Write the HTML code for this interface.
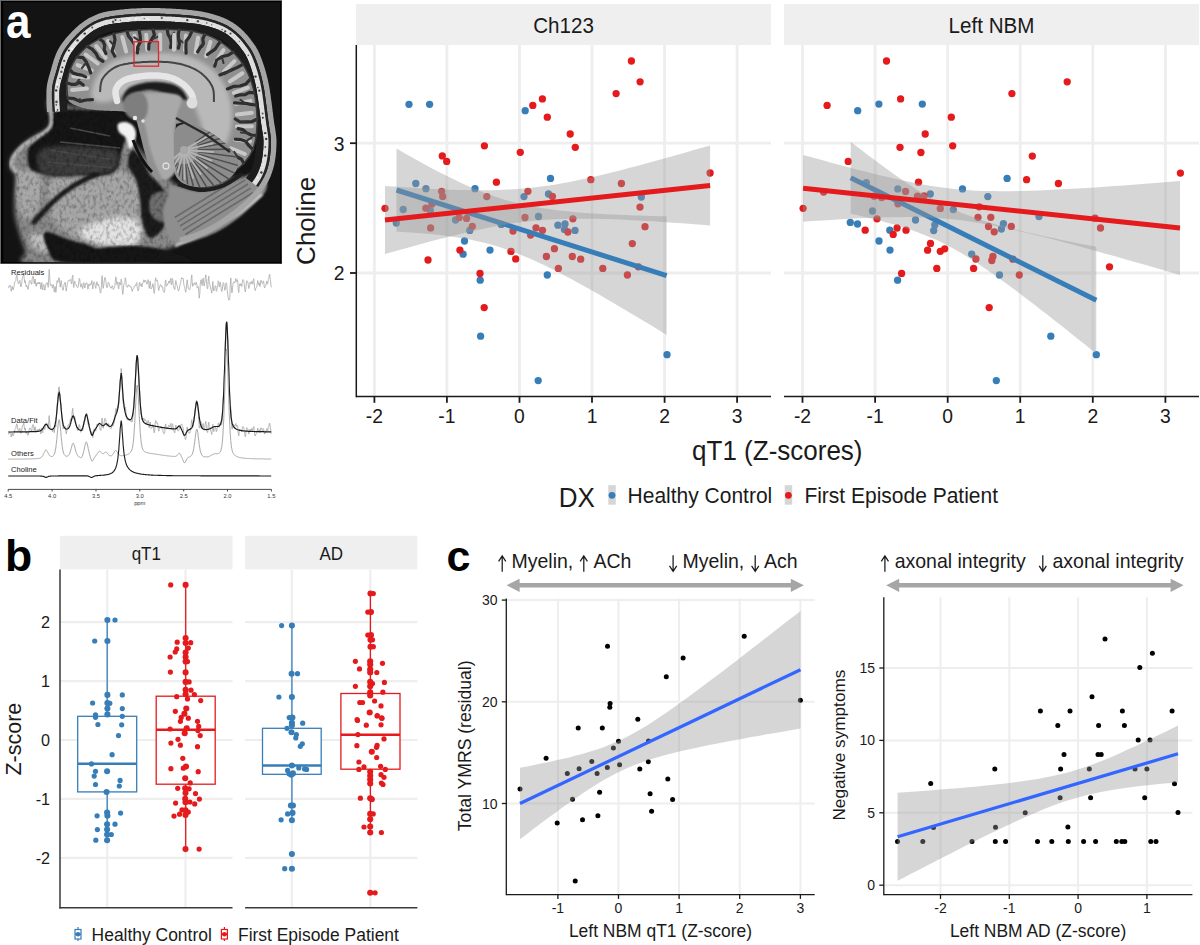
<!DOCTYPE html>
<html><head><meta charset="utf-8"><title>Figure</title>
<style>html,body{margin:0;padding:0;background:#fff;overflow:hidden}svg{display:block}text{font-family:"Liberation Sans",sans-serif}</style>
</head><body><svg width="1200" height="945" viewBox="0 0 1200 945">
<rect width="1200" height="945" fill="#fff"/>
<defs><clipPath id="mclip"><rect x="1" y="2" width="279.2" height="260.2"/></clipPath><filter id="bl1" x="-5%" y="-5%" width="110%" height="110%"><feGaussianBlur stdDeviation="0.8"/></filter><filter id="bl2" x="-10%" y="-10%" width="120%" height="120%"><feGaussianBlur stdDeviation="2"/></filter><filter id="bl3" x="-10%" y="-10%" width="120%" height="120%"><feGaussianBlur stdDeviation="3.5"/></filter><filter id="nz" x="0" y="0" width="100%" height="100%"><feTurbulence type="fractalNoise" baseFrequency="0.3 0.22" numOctaves="2" seed="5"/><feColorMatrix type="matrix" values="0 0 0 0 0  0 0 0 0 0  0 0 0 0 0  0 0 0 -2.2 1.25"/></filter><clipPath id="faceclip"><path d="M48,100 L47.4,101.8 L47.5,104.7 L48.3,108.2 L49.4,112.2 L50.5,116.2 L51.5,120.1 L52.1,123.4 L52,126 L50.2,129 L47.2,130.4 L43.7,131.4 L40,133 L37.5,134.6 L34.8,136.3 L32,138.1 L29.2,140 L26.5,142 L24,144 L21.2,146.5 L18.4,149.2 L15.9,152 L13.7,154.6 L12,157 L10.4,160.4 L9.9,163.3 L10,166 L11.6,169.6 L14,173 L16.4,176 L18,180 L17.8,182.4 L17.2,185.2 L16.3,188.3 L15.5,191.6 L15,195 L14.8,198 L14.6,201.3 L14.5,204.7 L14.5,208.1 L14.7,211.6 L15,215 L15.5,218.4 L16.3,221.8 L17.1,225.2 L18.1,228.6 L19.1,231.8 L20,235 L21,238.1 L22,241.1 L23.1,244 L24.1,246.8 L25.1,249.5 L26,252 L24.4,255.6 L20.9,259.1 L20.9,262 L30,264 L31.7,264.1 L33.5,264.3 L35.6,264.4 L37.8,264.5 L40.2,264.7 L42.7,264.8 L45.5,264.9 L48.3,265 L51.3,265 L54.4,265.1 L57.6,265.2 L60.9,265.3 L64.3,265.3 L67.7,265.4 L71.2,265.4 L74.8,265.4 L78.5,265.5 L82.1,265.5 L85.8,265.5 L89.5,265.5 L93.2,265.5 L96.9,265.5 L100.6,265.5 L104.2,265.4 L107.8,265.4 L111.4,265.4 L114.9,265.3 L118.3,265.3 L121.6,265.2 L124.9,265.1 L128,265 L131.1,265 L134,264.9 L136.7,264.8 L139.4,264.7 L141.9,264.5 L144.2,264.4 L146.3,264.3 L148.2,264.1 L150,264 L159.2,262.3 L162.2,259.9 L161.9,257.2 L160.9,254.4 L162,252 L164.4,250.5 L167,249.1 L169.8,247.8 L172.6,246.5 L175.5,245.3 L178.3,244.1 L181,243 L183.9,241.9 L186.7,240.9 L189.5,240 L192.3,239.1 L195.1,238.1 L198,237 L200.6,235.9 L203.1,234.9 L205.7,233.8 L208.4,232.6 L211.1,231.2 L214,229.7 L217,228 L219.5,226.5 L222.1,224.8 L224.7,223.1 L227.5,221.2 L230.3,219.3 L233,217.3 L235.8,215.2 L238.4,213.1 L241,211 L243.6,208.8 L246.4,206.4 L249.3,203.9 L252.1,201.3 L254.8,198.8 L257.2,196.3 L259.3,194 L260.9,191.9 L262,190 L262.5,186.5 L261.1,183.8 L258.3,181.7 L255,180 L252.6,179 L249.9,178.2 L246.8,177.6 L243.3,177.3 L239.4,177.4 L235,178 L232.6,178.6 L229.9,179.4 L227,180.4 L224,181.6 L220.8,182.8 L217.6,184.1 L214.4,185.4 L211.3,186.7 L208.2,187.8 L205.3,188.8 L202.5,189.5 L200,190 L196.1,190.4 L192.6,190.3 L189.3,189.9 L186.3,189.3 L183.5,188.3 L180.7,187.2 L178,186 L175.5,184.6 L173.2,183 L171,181.1 L169,179.1 L166.8,176.9 L164.5,174.5 L162,172 L160,170.1 L158,168.2 L155.8,166.1 L153.5,163.9 L151.2,161.7 L148.9,159.4 L146.6,157.1 L144.4,154.7 L142.1,152.4 L140,150 L137.9,147.6 L136,145 L134,142.4 L132.1,139.7 L130.2,137.1 L128.3,134.4 L126.3,131.9 L124.3,129.4 L122.2,127.1 L120,125 L117.4,122.8 L114.8,120.8 L112,118.9 L109.2,117 L106.4,115.4 L103.5,113.8 L100.7,112.4 L97.8,111.1 L95,110 L91.9,109 L88.7,108.3 L85.5,107.8 L82.3,107.4 L79.2,107.2 L76,106.9 L73,106.5 L70,106 L66.5,105 L62.7,103.5 L59,101.9 L55.5,100.4 L52.3,99.4 L49.8,99.2Z"/></clipPath></defs>
<rect x="0" y="0" width="281.6" height="263.5" fill="#131313"/>
<rect x="0" y="0" width="281" height="1" fill="#6a6a6a"/><rect x="0" y="0" width="1" height="263.5" fill="#6a6a6a"/>
<rect x="1" y="1" width="280" height="1.2" fill="#000"/><rect x="1" y="1" width="2.2" height="262" fill="#000"/>
<rect x="280.2" y="1" width="1.4" height="262.5" fill="#000"/><rect x="1" y="262.2" width="280.6" height="1.3" fill="#000"/>
<g clip-path="url(#mclip)">
<path d="M48,100 L47.4,101.8 L47.5,104.7 L48.3,108.2 L49.4,112.2 L50.5,116.2 L51.5,120.1 L52.1,123.4 L52,126 L50.2,129 L47.2,130.4 L43.7,131.4 L40,133 L37.5,134.6 L34.8,136.3 L32,138.1 L29.2,140 L26.5,142 L24,144 L21.2,146.5 L18.4,149.2 L15.9,152 L13.7,154.6 L12,157 L10.4,160.4 L9.9,163.3 L10,166 L11.6,169.6 L14,173 L16.4,176 L18,180 L17.8,182.4 L17.2,185.2 L16.3,188.3 L15.5,191.6 L15,195 L14.8,198 L14.6,201.3 L14.5,204.7 L14.5,208.1 L14.7,211.6 L15,215 L15.5,218.4 L16.3,221.8 L17.1,225.2 L18.1,228.6 L19.1,231.8 L20,235 L21,238.1 L22,241.1 L23.1,244 L24.1,246.8 L25.1,249.5 L26,252 L24.4,255.6 L20.9,259.1 L20.9,262 L30,264 L31.7,264.1 L33.5,264.3 L35.6,264.4 L37.8,264.5 L40.2,264.7 L42.7,264.8 L45.5,264.9 L48.3,265 L51.3,265 L54.4,265.1 L57.6,265.2 L60.9,265.3 L64.3,265.3 L67.7,265.4 L71.2,265.4 L74.8,265.4 L78.5,265.5 L82.1,265.5 L85.8,265.5 L89.5,265.5 L93.2,265.5 L96.9,265.5 L100.6,265.5 L104.2,265.4 L107.8,265.4 L111.4,265.4 L114.9,265.3 L118.3,265.3 L121.6,265.2 L124.9,265.1 L128,265 L131.1,265 L134,264.9 L136.7,264.8 L139.4,264.7 L141.9,264.5 L144.2,264.4 L146.3,264.3 L148.2,264.1 L150,264 L159.2,262.3 L162.2,259.9 L161.9,257.2 L160.9,254.4 L162,252 L164.4,250.5 L167,249.1 L169.8,247.8 L172.6,246.5 L175.5,245.3 L178.3,244.1 L181,243 L183.9,241.9 L186.7,240.9 L189.5,240 L192.3,239.1 L195.1,238.1 L198,237 L200.6,235.9 L203.1,234.9 L205.7,233.8 L208.4,232.6 L211.1,231.2 L214,229.7 L217,228 L219.5,226.5 L222.1,224.8 L224.7,223.1 L227.5,221.2 L230.3,219.3 L233,217.3 L235.8,215.2 L238.4,213.1 L241,211 L243.6,208.8 L246.4,206.4 L249.3,203.9 L252.1,201.3 L254.8,198.8 L257.2,196.3 L259.3,194 L260.9,191.9 L262,190 L262.5,186.5 L261.1,183.8 L258.3,181.7 L255,180 L252.6,179 L249.9,178.2 L246.8,177.6 L243.3,177.3 L239.4,177.4 L235,178 L232.6,178.6 L229.9,179.4 L227,180.4 L224,181.6 L220.8,182.8 L217.6,184.1 L214.4,185.4 L211.3,186.7 L208.2,187.8 L205.3,188.8 L202.5,189.5 L200,190 L196.1,190.4 L192.6,190.3 L189.3,189.9 L186.3,189.3 L183.5,188.3 L180.7,187.2 L178,186 L175.5,184.6 L173.2,183 L171,181.1 L169,179.1 L166.8,176.9 L164.5,174.5 L162,172 L160,170.1 L158,168.2 L155.8,166.1 L153.5,163.9 L151.2,161.7 L148.9,159.4 L146.6,157.1 L144.4,154.7 L142.1,152.4 L140,150 L137.9,147.6 L136,145 L134,142.4 L132.1,139.7 L130.2,137.1 L128.3,134.4 L126.3,131.9 L124.3,129.4 L122.2,127.1 L120,125 L117.4,122.8 L114.8,120.8 L112,118.9 L109.2,117 L106.4,115.4 L103.5,113.8 L100.7,112.4 L97.8,111.1 L95,110 L91.9,109 L88.7,108.3 L85.5,107.8 L82.3,107.4 L79.2,107.2 L76,106.9 L73,106.5 L70,106 L66.5,105 L62.7,103.5 L59,101.9 L55.5,100.4 L52.3,99.4 L49.8,99.2Z" fill="#888888" filter="url(#bl2)"/>
<g filter="url(#bl2)">
<path d="M50,182 L51.9,180.1 L54.3,178.4 L57,176.8 L60.1,175.4 L63.4,174.2 L66.7,173 L70,172 L72.9,171.2 L75.9,170.4 L79,169.8 L82.2,169.2 L85.4,168.8 L88.6,168.4 L91.8,168.2 L95,168 L98.2,167.9 L101.4,167.8 L104.7,167.9 L107.9,168 L111.1,168.3 L114.2,168.7 L117.2,169.2 L120,170 L123.1,171.1 L126.1,172.4 L128.9,173.9 L131.6,175.6 L134.1,177.5 L136.2,179.6 L138,182 L139.4,184.7 L140.3,187.7 L141,190.9 L141.4,194.3 L141.7,197.8 L141.9,201.4 L142,205 L142.1,207.9 L142.2,211 L142.1,214.3 L142.1,217.6 L141.9,220.9 L141.6,224 L141.2,227 L140.7,229.7 L140,232 L138.5,235.4 L136.7,238 L134.4,240.1 L131.6,241.7 L128,243 L125.6,243.6 L122.8,244 L119.7,244.3 L116.5,244.5 L113.1,244.6 L109.7,244.6 L106.3,244.4 L103.1,244.3 L100,244 L96.7,243.7 L93.4,243.2 L90.2,242.7 L87,242.1 L83.9,241.3 L80.8,240.4 L77.9,239.3 L75,238 L72.2,236.5 L69.3,234.8 L66.6,233 L63.9,231 L61.3,228.9 L59,226.7 L56.8,224.4 L55,222 L53.2,219.1 L51.8,216 L50.6,212.8 L49.7,209.5 L49,206.2 L48.4,203 L48,200 L47.6,196.7 L47.3,193.4 L47.3,190.2 L47.7,187.3 L48.5,184.5Z" fill="#a6a6a6"/>
<path d="M80,230 L81.5,228.7 L83.9,227.3 L87,225.9 L90.4,224.5 L94.2,223.2 L98,221.9 L101.6,220.9 L105,220 L108.2,219.3 L111.6,218.6 L114.9,218 L118.3,217.6 L121.6,217.4 L124.7,217.3 L127.5,217.5 L130,218 L133.5,219.5 L136.6,221.7 L139.2,224.4 L141,227.2 L142,230 L142.1,232.9 L141.4,236 L140,239.2 L137.9,241.9 L135,244 L132.7,244.9 L129.9,245.5 L126.8,246 L123.4,246.2 L119.9,246.4 L116.5,246.3 L113.1,246.2 L110,246 L106.6,245.6 L103.1,245 L99.6,244.2 L96.3,243.3 L93.2,242.2 L90.4,241.1 L88,240 L84.2,237.8 L81.1,235.2 L79.4,232.6Z" fill="#e2e2e2"/>
<path d="M17,174 L19.4,171.1 L22.8,169.8 L26.5,169.5 L30,170 L32.7,170.9 L35.5,172.5 L38.3,174.6 L40.5,177.1 L42,180 L42.5,182.8 L42.5,186.1 L42.1,189.7 L41.4,193.3 L40.7,196.8 L40,200 L39.3,203.5 L38.5,206.9 L37.6,210.1 L36.4,212.8 L35,215 L31.6,217.7 L27.6,219 L24,218 L22.5,216.3 L21.1,213.9 L19.8,210.8 L18.7,207.4 L17.7,203.7 L17,200 L16.6,197 L16.2,193.5 L15.9,189.9 L15.8,186.1 L15.7,182.5 L15.9,179.1 L16.3,176.3Z" fill="#a8a8a8"/>
<path d="M30,236 L31.9,234.6 L34.9,233.5 L38.4,232.8 L42,232.6 L45,233 L48.2,234.8 L51.4,237.8 L53.8,241.1 L55,244 L54.2,247.3 L51.5,250.3 L48,252 L44.8,252 L40.8,251.2 L37,249.8 L34,248 L31.9,245.4 L30.2,241.9 L29.4,238.6Z" fill="#bdbdbd"/>
</g>
<path d="M45,120 L46.9,117.8 L48.9,115.7 L51.1,113.9 L53.6,112.3 L56.5,111 L60,110 L62.4,109.6 L65.1,109.3 L68,109.2 L71,109.2 L74.2,109.2 L77.4,109.4 L80.7,109.5 L83.9,109.7 L87,109.9 L90,110 L93.3,110.1 L96.7,110.1 L100.1,110.1 L103.6,110.1 L106.9,110.2 L110.1,110.4 L113,110.8 L115.7,111.3 L118,112 L121.4,113.7 L124.1,115.8 L126,118.4 L127.3,121.5 L128,125 L128,127.6 L127.6,130.5 L126.9,133.7 L126,137.1 L125,140.5 L123.9,143.8 L122.9,147 L122,150 L121.1,153.8 L120.4,157.6 L119.6,161.2 L118.7,164.6 L117.6,167.5 L116,170 L113.5,172.2 L110.5,173.7 L107.2,174.8 L103.6,175.5 L100,176 L96.9,176.2 L93.6,176.1 L90.2,175.8 L86.8,175.4 L83.4,175.1 L80,175 L76.6,175.1 L73.2,175.3 L69.8,175.6 L66.4,175.8 L63.1,176 L60,176 L56.5,175.9 L53.2,175.6 L50.1,175.2 L47,174.7 L44,174 L40.9,173.2 L37.7,172.5 L34.6,171.5 L32,170 L30,168 L28.8,165.6 L28,162.7 L27.5,159.4 L27.3,156 L27.5,152.8 L28,150 L29.3,147.3 L31.3,145.1 L33.6,142.9 L36,140.7 L38,138 L39.2,135.3 L40.3,132.1 L41.2,128.9 L42.2,125.6 L43.4,122.6Z" fill="#141414" filter="url(#bl1)"/>
<path d="M50,104 L50.2,106.3 L50.6,109.6 L51.1,113.4 L51.4,117.3 L51.4,121 L51,124 L49.7,127.2 L47.7,129.6 L45.1,131.7 L42,134 L39.8,135.5 L37.3,137 L34.5,138.5 L31.7,140.1 L28.9,141.7 L26.3,143.3 L24,145 L21.2,147.5 L18.6,150.2 L16.3,153 L14.4,155.6 L13,158 L11.7,161.4 L11.4,164.4 L12,167 L14.9,170.1 L18,172" fill="none" stroke="#b5b5b5" stroke-width="4" stroke-linecap="round" filter="url(#bl1)"/>
<path d="M40,150 L41.8,148.8 L44.1,148 L46.8,147.3 L49.8,146.8 L53.1,146.5 L56.6,146.3 L60.1,146.2 L63.5,146.1 L66.9,146.1 L70,146 L73.1,145.9 L76.2,146 L79.4,146.1 L82.6,146.3 L85.8,146.5 L88.9,146.8 L91.9,147.1 L94.8,147.4 L97.5,147.7 L100,148 L103.9,148.4 L107.7,148.7 L111.1,149 L114.1,149.6 L116.4,150.5 L118,152 L118.8,154.3 L119,157.4 L118.6,160.9 L117.6,164.4 L116.1,167.6 L114,170 L112,171.3 L109.5,172.3 L106.7,173 L103.6,173.6 L100.3,174 L96.9,174.3 L93.4,174.7 L90,175 L87.2,175.3 L84.2,175.5 L81.1,175.8 L78,175.9 L74.8,176.1 L71.6,176.2 L68.5,176.2 L65.5,176.2 L62.6,176.1 L60,176 L55.9,175.8 L51.9,175.7 L48.1,175.4 L44.8,174.9 L42.1,173.8 L40,172 L38.7,169.6 L37.7,166.5 L37,162.9 L36.9,159.1 L37.2,155.5 L38.3,152.4Z" fill="#3c3c3c" filter="url(#bl2)"/>
<line x1="50" y1="150" x2="115" y2="160" stroke="#4a4a4a" stroke-width="1.6"/>
<line x1="48" y1="162" x2="112" y2="168" stroke="#4a4a4a" stroke-width="1.6"/>
<line x1="60" y1="142" x2="120" y2="148" stroke="#4a4a4a" stroke-width="1.6"/>
<line x1="70" y1="128" x2="110" y2="136" stroke="#4a4a4a" stroke-width="1.6"/>
<path d="M34,222 L35.3,220.7 L36.9,218.9 L38.8,216.8 L40.9,214.4 L43.2,211.9 L45.7,209.4 L48.1,206.8 L50.5,204.3 L52.8,202 L55,200 L57.5,197.8 L60.1,195.6 L62.6,193.6 L65.1,191.8 L67.5,190 L70,188.2 L72.5,186.6 L75,185 L78,183.2 L81.3,181.5 L84.6,179.8 L87.8,178.3 L90.7,177 L93.2,175.9 L95,175" fill="none" stroke="#1a1a1a" stroke-width="5" stroke-linecap="round" filter="url(#bl1)"/>
<path d="M45,232 L46.8,231.8 L49.3,232.2 L52.3,233.1 L55.8,234.4 L59.4,235.9 L63.1,237.4 L66.7,238.8 L70,240 L73.2,241 L76.5,241.9 L79.8,242.7 L83.1,243.6 L86.4,244.6 L89.5,245.6 L92.4,246.7 L95,248 L98.8,250.1 L103.1,252.7 L107.2,255.5 L110.2,258.1 L111.4,260.4 L110,262 L108.6,262.4 L106.6,262.8 L104.1,263 L101.2,263.3 L97.9,263.4 L94.3,263.6 L90.6,263.6 L86.7,263.6 L82.7,263.6 L78.8,263.5 L75,263.4 L71.4,263.2 L68,262.9 L64.9,262.7 L62.2,262.4 L60,262 L55,260.5 L52,258.4 L50.3,255.8 L49.2,253 L48,250 L46.7,247 L45.3,243.5 L44.2,239.8 L43.6,236.3 L43.8,233.6Z" fill="#181818" filter="url(#bl1)"/>
<path d="M95,250 L96.7,249.2 L98.9,248.6 L101.7,248 L104.8,247.5 L108.2,247.1 L111.8,246.7 L115.6,246.4 L119.4,246.2 L123.1,246.1 L126.7,246 L130,246 L133.2,246 L136.5,246.1 L139.8,246.2 L143.1,246.4 L146.5,246.7 L149.8,247.1 L153,247.5 L156.2,248 L159.2,248.6 L162.2,249.2 L165,250 L168.8,251.2 L173.4,252.7 L178.3,254.4 L183.1,256.3 L187.3,258.2 L190.6,260 L192.4,261.6 L192.3,263 L190,264 L188.7,264.2 L187.2,264.4 L185.3,264.6 L183.1,264.8 L180.7,265 L178,265.1 L175.1,265.3 L172,265.4 L168.8,265.5 L165.4,265.6 L161.8,265.6 L158.2,265.7 L154.5,265.7 L150.7,265.7 L146.9,265.8 L143,265.7 L139.2,265.7 L135.4,265.7 L131.6,265.6 L128,265.6 L124.4,265.5 L120.9,265.4 L117.6,265.3 L114.4,265.1 L111.4,265 L108.6,264.8 L106.1,264.6 L103.8,264.4 L101.7,264.2 L100,264 L91.8,261.2 L89.7,257.2 L91.4,253.1Z" fill="#151515" filter="url(#bl1)"/>
<path d="M132,150 L134.1,150.6 L136.8,153.1 L139.5,156.6 L142,160 L143.7,162.8 L145.2,165.9 L146.8,169.1 L148.3,172.2 L150,175 L152.4,177.7 L155,180 L157.6,182.3 L160,185 L161.9,187.5 L163.9,190.2 L165.7,193 L167.1,196.3 L168,200 L168.2,202.7 L168.3,205.8 L168.2,209.2 L167.9,212.6 L167.5,216.1 L166.9,219.4 L166,222.4 L165,225 L163.1,228.2 L160.6,231.4 L157.8,234.2 L154.9,236.4 L152.2,237.8 L150,238 L148.2,236.8 L146.6,234.4 L145.2,231.1 L144,227.3 L142.9,223.5 L142,220 L141.3,216.8 L141,213.5 L140.8,210.1 L140.6,206.7 L140.4,203.4 L140,200 L139.5,196.6 L139,193.1 L138.4,189.7 L137.7,186.3 L136.9,183 L136,180 L134.5,176.7 L132.5,173.6 L130.5,170.8 L128.9,167.9 L128,165 L127.9,161.6 L128.4,157.8 L129.4,154.2 L130.6,151.4Z" fill="#1c1c1c" filter="url(#bl1)"/>
<path d="M152,195 L154.2,193.5 L157.1,192.4 L160.5,191.6 L164,191.3 L167.3,191.4 L170,192 L172.8,193.6 L175.3,196 L177.5,199 L179.1,202.1 L180,205 L180,208.5 L179.1,212.1 L177.3,215.4 L175,218 L172.6,219.6 L169.5,220.9 L166.1,221.8 L162.8,222.2 L160,222 L156.9,220.6 L153.9,218.3 L151.5,215.3 L150,212 L149.4,208.8 L149.2,205 L149.5,201.1 L150.4,197.6Z" fill="#6e6e6e" filter="url(#bl1)"/>
<path d="M168,236 L169.3,234.7 L171,233.2 L173.2,231.6 L175.7,229.9 L178.4,228.1 L181.4,226.2 L184.5,224.3 L187.7,222.4 L190.9,220.5 L194,218.6 L197.1,216.8 L200,215 L202.6,213.4 L205.3,211.8 L208.1,210.2 L210.9,208.5 L213.8,206.9 L216.6,205.3 L219.5,203.7 L222.3,202.1 L225,200.6 L227.7,199.1 L230.2,197.7 L232.7,196.3 L235,195 L238.6,192.9 L242,190.7 L245.3,188.6 L248.4,186.6 L251.3,184.9 L253.9,183.5 L256.1,182.5 L258,182 L261.5,183.3 L262.9,187.1 L262,192 L260.9,194 L259.4,196.3 L257.5,198.9 L255.3,201.5 L252.9,204.2 L250.3,206.9 L247.7,209.5 L245,212 L242.8,213.9 L240.5,215.9 L238.1,217.8 L235.6,219.7 L233,221.6 L230.4,223.5 L227.8,225.3 L225.1,226.9 L222.5,228.5 L220,230 L216.8,231.7 L213.6,233.2 L210.4,234.6 L207.2,235.9 L204,237 L200.9,238.1 L197.9,239.1 L195,240 L191.2,241.2 L187.5,242.2 L183.9,243.1 L180.5,243.8 L177.5,244.1 L175,244 L170.3,242.7 L167,240.1Z" fill="#8c8c8c" filter="url(#bl1)"/>
<g clip-path="url(#faceclip)"><rect x="0" y="95" width="282" height="170" filter="url(#nz)" opacity="0.3"/></g>
<path d="M172,186 L174.1,186 L176.7,186.5 L179.7,187.2 L183,188.2 L186.4,189.2 L190,190.2 L193.5,191.1 L196.9,191.7 L200,192 L203.3,191.9 L206.6,191.6 L209.8,191.2 L213,190.5 L216.1,189.7 L219.2,188.9 L222.1,187.9 L225,187 L228.1,185.8 L231.2,184.5 L234.1,183 L236.9,181.5 L239.7,179.9 L242.3,178.4 L245,177 L248.2,175.1 L251.4,172.8 L254.5,170.5 L257.4,168.7 L260,167.7 L262,168 L263.5,169.5 L264.8,172.1 L266,175.3 L266.8,179 L267.1,182.9 L266.9,186.6 L266,190 L264.9,192.2 L263.3,194.3 L261.4,196.5 L259.3,198.6 L256.9,200.8 L254.3,202.9 L251.7,205 L249.1,207 L246.5,209 L244,211 L241.5,213 L239,214.9 L236.3,216.9 L233.6,218.8 L230.9,220.8 L228.2,222.6 L225.5,224.4 L222.9,226 L220.4,227.6 L218,229 L214.8,230.8 L211.8,232.3 L208.9,233.7 L206.1,234.9 L203.4,236 L200.7,237 L198,238 L194.8,239.2 L191.6,240.4 L188.5,241.5 L185.5,242.4 L182.6,242.9 L180,243 L176.4,242.5 L173.2,241.3 L170.4,239.2 L168,236 L167,233.8 L166,231 L165.2,227.9 L164.4,224.6 L163.8,221.2 L163.4,217.8 L163.1,214.7 L163,212 L163.4,208.2 L164.3,204.7 L165.6,201.6 L166.9,198.7 L168,196 L168.5,191.6 L168.9,187.9Z" fill="#8e8e8e" filter="url(#bl1)"/>
<path d="M174.7,217.5 L242.7,175.5" stroke="#6a6a6a" stroke-width="1.5"/>
<path d="M177.3,221.8 L245.3,179.8" stroke="#6a6a6a" stroke-width="1.5"/>
<path d="M180,226 L248,184" stroke="#6a6a6a" stroke-width="1.5"/>
<path d="M182.7,230.2 L250.7,188.2" stroke="#6a6a6a" stroke-width="1.5"/>
<path d="M185.3,234.5 L253.3,192.5" stroke="#6a6a6a" stroke-width="1.5"/>
<path d="M175,246 L205,232 L240,212 L262,194" fill="none" stroke="#c8c8c8" stroke-width="3" filter="url(#bl1)"/>
<path d="M47,112 L47,111.3 L46.9,110.5 L46.9,109.5 L46.8,108.5 L46.8,107.3 L46.7,106.1 L46.7,104.8 L46.6,103.5 L46.5,102.1 L46.5,100.6 L46.4,99.2 L46.4,97.8 L46.4,96.4 L46.4,95 L46.4,93.6 L46.4,92.3 L46.4,91.1 L46.5,90 L46.6,88.7 L46.7,87.4 L46.9,86.2 L47,85 L47.2,83.9 L47.4,82.8 L47.7,81.7 L47.9,80.6 L48.2,79.5 L48.5,78.3 L48.8,77.1 L49.2,75.8 L49.6,74.4 L50,73 L50.3,72 L50.6,71 L50.9,70 L51.2,68.9 L51.5,67.8 L51.8,66.7 L52.1,65.5 L52.4,64.4 L52.8,63.2 L53.2,62 L53.5,60.8 L53.9,59.6 L54.3,58.4 L54.8,57.2 L55.2,56 L55.7,54.8 L56.2,53.6 L56.7,52.5 L57.2,51.3 L57.8,50.2 L58.4,49.1 L59,48 L59.6,47 L60.2,46 L60.9,45 L61.6,44 L62.3,43 L63,42.1 L63.8,41.1 L64.6,40.1 L65.3,39.1 L66.2,38.1 L67,37.1 L67.8,36.2 L68.7,35.2 L69.5,34.3 L70.4,33.4 L71.2,32.5 L72.1,31.6 L72.9,30.7 L73.8,29.9 L74.7,29.1 L75.5,28.3 L76.3,27.5 L77.2,26.7 L78,26 L79,25.1 L80,24.3 L81.1,23.5 L82.1,22.7 L83.1,21.9 L84.1,21.2 L85.1,20.5 L86.1,19.9 L87.2,19.2 L88.2,18.6 L89.2,18 L90.3,17.4 L91.4,16.9 L92.4,16.4 L93.5,15.9 L94.6,15.4 L95.7,14.9 L96.9,14.4 L98,14 L99.1,13.6 L100.2,13.2 L101.3,12.9 L102.5,12.6 L103.6,12.3 L104.8,12 L105.9,11.8 L107.1,11.5 L108.3,11.3 L109.5,11.1 L110.7,10.9 L111.9,10.7 L113.1,10.6 L114.4,10.4 L115.6,10.2 L116.9,10.1 L118.1,9.9 L119.4,9.8 L120.7,9.6 L122,9.5 L123.1,9.4 L124.3,9.3 L125.4,9.1 L126.6,9 L127.7,8.9 L128.9,8.8 L130.1,8.7 L131.3,8.6 L132.5,8.6 L133.7,8.5 L134.9,8.4 L136.1,8.4 L137.3,8.3 L138.6,8.2 L139.8,8.2 L141.1,8.2 L142.3,8.1 L143.6,8.1 L144.8,8.1 L146.1,8 L147.4,8 L148.7,8 L150,8 L151.2,8 L152.4,8 L153.6,8 L154.8,8 L156,8.1 L157.3,8.1 L158.6,8.1 L159.8,8.1 L161.1,8.2 L162.4,8.2 L163.7,8.3 L165,8.3 L166.3,8.4 L167.6,8.4 L168.9,8.5 L170.2,8.6 L171.4,8.6 L172.7,8.7 L173.9,8.8 L175.1,8.8 L176.4,8.9 L177.5,9 L178.7,9.1 L179.8,9.1 L180.9,9.2 L182,9.3 L183.4,9.4 L184.8,9.5 L186.2,9.6 L187.5,9.7 L188.8,9.9 L190,10 L191.3,10.1 L192.5,10.2 L193.7,10.4 L194.8,10.5 L196,10.7 L197.1,10.8 L198.3,11 L199.4,11.2 L200.5,11.3 L201.6,11.5 L202.7,11.7 L203.9,12 L205,12.2 L206.3,12.5 L207.5,12.8 L208.8,13.1 L210,13.4 L211.3,13.7 L212.5,14.1 L213.7,14.4 L214.9,14.8 L216.1,15.2 L217.3,15.5 L218.5,15.9 L219.6,16.3 L220.7,16.8 L221.8,17.2 L222.9,17.6 L224,18.1 L225,18.5 L226.2,19.1 L227.4,19.6 L228.5,20.2 L229.6,20.8 L230.7,21.4 L231.7,22 L232.7,22.6 L233.7,23.3 L234.7,23.9 L235.7,24.6 L236.6,25.3 L237.5,26 L238.5,26.7 L239.4,27.5 L240.3,28.3 L241.2,29.1 L242.1,29.9 L243,30.7 L243.9,31.6 L244.7,32.5 L245.5,33.4 L246.4,34.3 L247.2,35.2 L248,36.1 L248.7,37.1 L249.5,38.1 L250.3,39 L251,40 L251.7,41 L252.4,41.9 L253.1,42.8 L253.8,43.8 L254.4,44.7 L255.1,45.6 L255.7,46.6 L256.3,47.6 L256.9,48.7 L257.6,49.8 L258.2,50.9 L258.8,52.2 L259.4,53.6 L260,55 L260.4,55.9 L260.8,56.9 L261.1,57.8 L261.5,58.8 L261.9,59.9 L262.3,60.9 L262.7,62 L263,63.1 L263.4,64.2 L263.8,65.3 L264.2,66.5 L264.6,67.7 L264.9,68.9 L265.3,70.1 L265.6,71.3 L266,72.6 L266.4,73.9 L266.7,75.2 L267,76.5 L267.4,77.8 L267.7,79.2 L268,80.6 L268.3,82 L268.5,83.1 L268.7,84.2 L269,85.3 L269.2,86.5 L269.4,87.7 L269.6,88.9 L269.8,90.1 L270,91.4 L270.2,92.7 L270.4,94 L270.6,95.3 L270.8,96.6 L270.9,97.9 L271.1,99.2 L271.3,100.6 L271.5,101.9 L271.7,103.2 L271.8,104.5 L272,105.8 L272.2,107.1 L272.3,108.4 L272.5,109.7 L272.6,111 L272.8,112.2 L273,113.4 L273.1,114.6 L273.2,115.7 L273.4,116.9 L273.5,117.9 L273.7,119 L273.8,120 L274,121.6 L274.2,123.1 L274.4,124.5 L274.7,125.8 L274.9,127.1 L275.1,128.4 L275.3,129.6 L275.5,130.7 L275.6,131.9 L275.8,133 L275.9,134.1 L276.1,135.2 L276.2,136.3 L276.3,137.4 L276.4,138.6 L276.5,139.7 L276.5,140.9 L276.5,142.1 L276.5,143.4 L276.5,144.6 L276.4,145.8 L276.4,147 L276.3,148.3 L276.2,149.5 L276.2,150.8 L276.1,152.1 L275.9,153.3 L275.8,154.6 L275.7,155.9 L275.5,157.2 L275.3,158.5 L275.1,159.8 L274.9,161 L274.7,162.3 L274.5,163.5 L274.2,164.7 L273.9,165.9 L273.6,167.1 L273.3,168.3 L273,169.4 L272.6,170.6 L272.2,171.8 L271.8,173 L271.4,174.1 L271,175.3 L270.5,176.4 L270.1,177.5 L269.6,178.6 L269.1,179.6 L268.5,180.7 L268,181.8 L267.4,182.8 L266.8,183.9 L266.1,184.9 L265.4,186 L264.7,187.1 L264,188.1 L263.2,189.2 L262.4,190.3 L261.7,191.2 L261,192 L260.3,192.9 L259.6,193.8 L258.8,194.7 L258,195.6 L257.2,196.5 L256.3,197.4 L255.5,198.3 L254.6,199.1 L253.7,200 L252.8,200.9 L251.9,201.8 L251,202.7 L250,203.6 L249.1,204.4 L248.2,205.3 L247.2,206.1 L246.3,207 L245.3,207.8 L244.3,208.7 L243.4,209.5 L242.4,210.3 L241.5,211.1 L240.5,211.9 L239.6,212.7 L238.6,213.5 L237.6,214.3 L236.6,215.1 L235.5,215.9 L234.5,216.7 L233.5,217.5 L232.4,218.2 L231.4,219 L230.3,219.8 L229.2,220.5 L228.2,221.3 L227.1,222 L226.1,222.7 L225,223.4 L224,224.1 L223,224.8 L222,225.5 L221,226.1 L220,226.8 L219.1,227.4 L218.1,227.9 L217.2,228.5 L215.9,229.3 L214.7,230 L213.5,230.6 L212.3,231.3 L211.1,231.9 L210,232.4 L208.8,233 L207.7,233.5 L206.6,234 L205.5,234.5 L204.4,234.9 L203.3,235.4 L202.3,235.8 L201.2,236.2 L200.1,236.7 L199.1,237.1 L198,237.5 L196.8,238 L195.5,238.5 L194.2,238.9 L192.8,239.4 L191.5,239.8 L190.2,240.2 L188.8,240.6 L187.6,241 L186.3,241.4 L185.2,241.7 L184.1,242 L183.1,242.3 L182.2,242.6 L181.4,242.8 L180.8,243 L179.2,237.7 L179.8,237.5 L180.7,237.3 L181.6,237 L182.6,236.7 L183.6,236.4 L184.8,236.1 L186,235.7 L187.2,235.4 L188.5,235 L189.8,234.6 L191.1,234.1 L192.4,233.7 L193.6,233.3 L194.8,232.8 L196,232.4 L197,232 L198.1,231.5 L199.2,231.1 L200.2,230.7 L201.3,230.3 L202.3,229.8 L203.3,229.4 L204.4,229 L205.4,228.5 L206.5,228 L207.6,227.5 L208.6,227 L209.7,226.4 L210.9,225.8 L212,225.2 L213.2,224.5 L214.4,223.8 L215.2,223.3 L216.1,222.7 L217.1,222.1 L218,221.5 L219,220.9 L220,220.2 L221,219.6 L222,218.9 L223,218.2 L224,217.5 L225,216.8 L226.1,216.1 L227.1,215.3 L228.1,214.6 L229.1,213.8 L230.2,213.1 L231.2,212.3 L232.2,211.5 L233.2,210.8 L234.2,210 L235.1,209.2 L236.1,208.4 L237,207.7 L238,206.9 L238.9,206.1 L239.8,205.3 L240.7,204.5 L241.7,203.7 L242.6,202.9 L243.5,202 L244.5,201.2 L245.4,200.4 L246.3,199.5 L247.2,198.7 L248.1,197.8 L249,197 L249.8,196.1 L250.7,195.3 L251.5,194.4 L252.3,193.6 L253.1,192.7 L253.9,191.9 L254.7,191.1 L255.4,190.2 L256.1,189.4 L256.8,188.6 L257.4,187.8 L258,187 L258.8,186 L259.5,185 L260.2,184 L260.8,183 L261.4,182 L262,181.1 L262.6,180.1 L263.1,179.1 L263.6,178.2 L264.1,177.2 L264.6,176.2 L265,175.3 L265.5,174.3 L265.9,173.2 L266.3,172.2 L266.6,171.2 L267,170.1 L267.4,169 L267.7,167.8 L268,166.8 L268.3,165.7 L268.6,164.7 L268.8,163.6 L269.1,162.4 L269.3,161.3 L269.5,160.1 L269.7,158.9 L269.9,157.7 L270,156.5 L270.2,155.3 L270.3,154 L270.5,152.8 L270.6,151.6 L270.7,150.4 L270.8,149.2 L270.8,148 L270.9,146.8 L270.9,145.6 L271,144.4 L271,143.3 L271,142.1 L271,141 L271,140 L270.9,138.9 L270.8,137.9 L270.7,136.9 L270.6,135.9 L270.5,134.8 L270.3,133.8 L270.2,132.7 L270,131.6 L269.8,130.5 L269.6,129.3 L269.4,128 L269.2,126.7 L269,125.3 L268.8,123.9 L268.6,122.3 L268.3,120.7 L268.2,119.7 L268.1,118.6 L267.9,117.5 L267.8,116.4 L267.6,115.3 L267.5,114.1 L267.3,112.9 L267.2,111.6 L267,110.4 L266.9,109.1 L266.7,107.8 L266.5,106.5 L266.4,105.2 L266.2,103.9 L266,102.6 L265.9,101.3 L265.7,100 L265.5,98.7 L265.3,97.4 L265.1,96.1 L264.9,94.8 L264.7,93.5 L264.6,92.2 L264.4,91 L264.2,89.8 L264,88.6 L263.8,87.4 L263.5,86.3 L263.3,85.2 L263.1,84.2 L262.9,83.1 L262.6,81.8 L262.3,80.4 L262,79.1 L261.7,77.8 L261.4,76.6 L261,75.3 L260.7,74.1 L260.4,72.8 L260,71.6 L259.7,70.4 L259.3,69.3 L258.9,68.2 L258.6,67 L258.2,65.9 L257.9,64.9 L257.5,63.8 L257.1,62.8 L256.7,61.8 L256.4,60.8 L256,59.8 L255.6,58.9 L255.3,58 L254.9,57.1 L254.3,55.8 L253.8,54.5 L253.2,53.4 L252.7,52.4 L252.2,51.4 L251.6,50.4 L251.1,49.5 L250.5,48.7 L249.9,47.8 L249.3,47 L248.7,46.1 L248,45.2 L247.3,44.3 L246.6,43.3 L245.9,42.4 L245.2,41.5 L244.5,40.6 L243.7,39.7 L243,38.8 L242.2,37.9 L241.5,37.1 L240.7,36.3 L239.9,35.5 L239.1,34.7 L238.3,33.9 L237.5,33.2 L236.7,32.4 L235.9,31.7 L235,31 L234.2,30.4 L233.3,29.7 L232.4,29.1 L231.6,28.4 L230.7,27.8 L229.8,27.3 L228.9,26.7 L227.9,26.1 L227,25.6 L226,25.1 L224.9,24.5 L223.9,24 L222.8,23.5 L221.8,23.1 L220.8,22.7 L219.8,22.3 L218.8,21.9 L217.7,21.5 L216.7,21.1 L215.6,20.8 L214.5,20.4 L213.3,20 L212.2,19.7 L211,19.4 L209.8,19 L208.6,18.7 L207.5,18.4 L206.3,18.1 L205.1,17.8 L203.8,17.6 L202.8,17.4 L201.7,17.1 L200.7,16.9 L199.6,16.8 L198.5,16.6 L197.4,16.4 L196.4,16.3 L195.3,16.1 L194.2,16 L193,15.8 L191.9,15.7 L190.7,15.6 L189.5,15.5 L188.3,15.3 L187,15.2 L185.7,15.1 L184.4,15 L183,14.9 L181.6,14.8 L180.5,14.7 L179.4,14.6 L178.3,14.5 L177.2,14.5 L176,14.4 L174.8,14.3 L173.6,14.3 L172.4,14.2 L171.1,14.1 L169.9,14 L168.6,14 L167.4,13.9 L166.1,13.9 L164.8,13.8 L163.5,13.8 L162.2,13.7 L161,13.7 L159.7,13.6 L158.4,13.6 L157.2,13.6 L155.9,13.5 L154.7,13.5 L153.5,13.5 L152.3,13.5 L151.2,13.5 L150,13.5 L148.7,13.5 L147.5,13.5 L146.2,13.5 L144.9,13.6 L143.7,13.6 L142.5,13.6 L141.2,13.7 L140,13.7 L138.8,13.7 L137.6,13.8 L136.4,13.8 L135.2,13.9 L134,14 L132.8,14.1 L131.7,14.1 L130.5,14.2 L129.4,14.3 L128.2,14.4 L127.1,14.5 L126,14.6 L124.8,14.7 L123.7,14.8 L122.6,15 L121.3,15.1 L120,15.3 L118.8,15.4 L117.5,15.6 L116.3,15.7 L115.1,15.8 L113.9,16 L112.7,16.2 L111.5,16.3 L110.4,16.5 L109.3,16.7 L108.2,16.9 L107.1,17.1 L106,17.4 L104.9,17.6 L103.9,17.9 L102.9,18.2 L101.9,18.5 L100.9,18.8 L99.9,19.2 L98.9,19.6 L97.8,20 L96.8,20.4 L95.8,20.9 L94.8,21.3 L93.8,21.8 L92.9,22.3 L91.9,22.8 L91,23.4 L90,23.9 L89.1,24.5 L88.2,25.1 L87.2,25.7 L86.3,26.4 L85.4,27.1 L84.5,27.8 L83.5,28.5 L82.6,29.3 L81.6,30.2 L80.8,30.8 L80.1,31.5 L79.3,32.3 L78.5,33 L77.6,33.8 L76.8,34.6 L76,35.4 L75.2,36.3 L74.4,37.2 L73.6,38 L72.7,38.9 L71.9,39.8 L71.2,40.7 L70.4,41.6 L69.6,42.6 L68.9,43.5 L68.1,44.4 L67.4,45.4 L66.7,46.3 L66.1,47.2 L65.4,48.1 L64.8,49 L64.3,49.9 L63.7,50.8 L63.2,51.7 L62.7,52.7 L62.2,53.7 L61.7,54.7 L61.2,55.8 L60.8,56.9 L60.3,58 L59.9,59.1 L59.5,60.2 L59.1,61.3 L58.8,62.5 L58.4,63.6 L58.1,64.8 L57.7,65.9 L57.4,67 L57.1,68.2 L56.8,69.3 L56.5,70.4 L56.2,71.5 L55.9,72.5 L55.6,73.6 L55.3,74.6 L54.8,76 L54.5,77.3 L54.1,78.6 L53.8,79.7 L53.5,80.8 L53.3,81.8 L53,82.8 L52.8,83.8 L52.6,84.8 L52.5,85.8 L52.3,86.9 L52.2,88 L52.1,89.2 L52,90.4 L51.9,91.4 L51.9,92.5 L51.9,93.7 L51.9,95 L51.9,96.3 L51.9,97.7 L51.9,99 L52,100.4 L52,101.8 L52.1,103.2 L52.2,104.5 L52.2,105.8 L52.3,107.1 L52.3,108.2 L52.4,109.3 L52.4,110.2 L52.5,111.1 L52.5,111.8Z" fill="#a5a5a5"/>
<path d="M52.5,111.8 L52.5,111.1 L52.4,110.2 L52.4,109.3 L52.3,108.2 L52.3,107.1 L52.2,105.8 L52.2,104.5 L52.1,103.2 L52,101.8 L52,100.4 L51.9,99 L51.9,97.7 L51.9,96.3 L51.9,95 L51.9,93.7 L51.9,92.5 L51.9,91.4 L52,90.4 L52.1,89.2 L52.2,88 L52.3,86.9 L52.5,85.8 L52.6,84.8 L52.8,83.8 L53,82.8 L53.3,81.8 L53.5,80.8 L53.8,79.7 L54.1,78.6 L54.5,77.3 L54.8,76 L55.3,74.6 L55.6,73.6 L55.9,72.5 L56.2,71.5 L56.5,70.4 L56.8,69.3 L57.1,68.2 L57.4,67 L57.7,65.9 L58.1,64.8 L58.4,63.6 L58.8,62.5 L59.1,61.3 L59.5,60.2 L59.9,59.1 L60.3,58 L60.8,56.9 L61.2,55.8 L61.7,54.7 L62.2,53.7 L62.7,52.7 L63.2,51.7 L63.7,50.8 L64.3,49.9 L64.8,49 L65.4,48.1 L66.1,47.2 L66.7,46.3 L67.4,45.4 L68.1,44.4 L68.9,43.5 L69.6,42.6 L70.4,41.6 L71.2,40.7 L71.9,39.8 L72.7,38.9 L73.6,38 L74.4,37.2 L75.2,36.3 L76,35.4 L76.8,34.6 L77.6,33.8 L78.5,33 L79.3,32.3 L80.1,31.5 L80.8,30.8 L81.6,30.2 L82.6,29.3 L83.5,28.5 L84.5,27.8 L85.4,27.1 L86.3,26.4 L87.2,25.7 L88.2,25.1 L89.1,24.5 L90,23.9 L91,23.4 L91.9,22.8 L92.9,22.3 L93.8,21.8 L94.8,21.3 L95.8,20.9 L96.8,20.4 L97.8,20 L98.9,19.6 L99.9,19.2 L100.9,18.8 L101.9,18.5 L102.9,18.2 L103.9,17.9 L104.9,17.6 L106,17.4 L107.1,17.1 L108.2,16.9 L109.3,16.7 L110.4,16.5 L111.5,16.3 L112.7,16.2 L113.9,16 L115.1,15.8 L116.3,15.7 L117.5,15.6 L118.8,15.4 L120,15.3 L121.3,15.1 L122.6,15 L123.7,14.8 L124.8,14.7 L126,14.6 L127.1,14.5 L128.2,14.4 L129.4,14.3 L130.5,14.2 L131.7,14.1 L132.8,14.1 L134,14 L135.2,13.9 L136.4,13.8 L137.6,13.8 L138.8,13.7 L140,13.7 L141.2,13.7 L142.5,13.6 L143.7,13.6 L144.9,13.6 L146.2,13.5 L147.5,13.5 L148.7,13.5 L150,13.5 L151.2,13.5 L152.3,13.5 L153.5,13.5 L154.7,13.5 L155.9,13.5 L157.2,13.6 L158.4,13.6 L159.7,13.6 L161,13.7 L162.2,13.7 L163.5,13.8 L164.8,13.8 L166.1,13.9 L167.4,13.9 L168.6,14 L169.9,14 L171.1,14.1 L172.4,14.2 L173.6,14.3 L174.8,14.3 L176,14.4 L177.2,14.5 L178.3,14.5 L179.4,14.6 L180.5,14.7 L181.6,14.8 L183,14.9 L184.4,15 L185.7,15.1 L187,15.2 L188.3,15.3 L189.5,15.5 L190.7,15.6 L191.9,15.7 L193,15.8 L194.2,16 L195.3,16.1 L196.4,16.3 L197.4,16.4 L198.5,16.6 L199.6,16.8 L200.7,16.9 L201.7,17.1 L202.8,17.4 L203.8,17.6 L205.1,17.8 L206.3,18.1 L207.5,18.4 L208.6,18.7 L209.8,19 L211,19.4 L212.2,19.7 L213.3,20 L214.5,20.4 L215.6,20.8 L216.7,21.1 L217.7,21.5 L218.8,21.9 L219.8,22.3 L220.8,22.7 L221.8,23.1 L222.8,23.5 L223.9,24 L224.9,24.5 L226,25.1 L227,25.6 L227.9,26.1 L228.9,26.7 L229.8,27.3 L230.7,27.8 L231.6,28.4 L232.4,29.1 L233.3,29.7 L234.2,30.4 L235,31 L235.9,31.7 L236.7,32.4 L237.5,33.2 L238.3,33.9 L239.1,34.7 L239.9,35.5 L240.7,36.3 L241.5,37.1 L242.2,37.9 L243,38.8 L243.7,39.7 L244.5,40.6 L245.2,41.5 L245.9,42.4 L246.6,43.3 L247.3,44.3 L248,45.2 L248.7,46.1 L249.3,47 L249.9,47.8 L250.5,48.7 L251.1,49.5 L251.6,50.4 L252.2,51.4 L252.7,52.4 L253.2,53.4 L253.8,54.5 L254.3,55.8 L254.9,57.1 L255.3,58 L255.6,58.9 L256,59.8 L256.4,60.8 L256.7,61.8 L257.1,62.8 L257.5,63.8 L257.9,64.9 L258.2,65.9 L258.6,67 L258.9,68.2 L259.3,69.3 L259.7,70.4 L260,71.6 L260.4,72.8 L260.7,74.1 L261,75.3 L261.4,76.6 L261.7,77.8 L262,79.1 L262.3,80.4 L262.6,81.8 L262.9,83.1 L263.1,84.2 L263.3,85.2 L263.5,86.3 L263.8,87.4 L264,88.6 L264.2,89.8 L264.4,91 L264.6,92.2 L264.7,93.5 L264.9,94.8 L265.1,96.1 L265.3,97.4 L265.5,98.7 L265.7,100 L265.9,101.3 L266,102.6 L266.2,103.9 L266.4,105.2 L266.5,106.5 L266.7,107.8 L266.9,109.1 L267,110.4 L267.2,111.6 L267.3,112.9 L267.5,114.1 L267.6,115.3 L267.8,116.4 L267.9,117.5 L268.1,118.6 L268.2,119.7 L268.3,120.7 L268.6,122.3 L268.8,123.9 L269,125.3 L269.2,126.7 L269.4,128 L269.6,129.3 L269.8,130.5 L270,131.6 L270.2,132.7 L270.3,133.8 L270.5,134.8 L270.6,135.9 L270.7,136.9 L270.8,137.9 L270.9,138.9 L271,140 L271,141 L271,142.1 L271,143.3 L271,144.4 L270.9,145.6 L270.9,146.8 L270.8,148 L270.8,149.2 L270.7,150.4 L270.6,151.6 L270.5,152.8 L270.3,154 L270.2,155.3 L270,156.5 L269.9,157.7 L269.7,158.9 L269.5,160.1 L269.3,161.3 L269.1,162.4 L268.8,163.6 L268.6,164.7 L268.3,165.7 L268,166.8 L267.7,167.8 L267.4,169 L267,170.1 L266.6,171.2 L266.3,172.2 L265.9,173.2 L265.5,174.3 L265,175.3 L264.6,176.2 L264.1,177.2 L263.6,178.2 L263.1,179.1 L262.6,180.1 L262,181.1 L261.4,182 L260.8,183 L260.2,184 L259.5,185 L258.8,186 L258,187 L256,185.5 L256.7,184.5 L257.4,183.5 L258.1,182.6 L258.7,181.6 L259.3,180.7 L259.9,179.8 L260.4,178.9 L260.9,178 L261.4,177 L261.9,176.1 L262.3,175.2 L262.7,174.3 L263.1,173.3 L263.5,172.3 L263.9,171.3 L264.3,170.3 L264.6,169.3 L265,168.2 L265.3,167.1 L265.6,166.1 L265.9,165.1 L266.1,164.1 L266.4,163 L266.6,161.9 L266.8,160.8 L267,159.7 L267.2,158.5 L267.4,157.3 L267.6,156.2 L267.7,155 L267.9,153.8 L268,152.6 L268.1,151.4 L268.2,150.2 L268.3,149 L268.3,147.8 L268.4,146.7 L268.4,145.5 L268.5,144.4 L268.5,143.3 L268.5,142.2 L268.5,141.1 L268.5,140.1 L268.4,139.1 L268.3,138.1 L268.2,137.1 L268.1,136.1 L268,135.1 L267.9,134.1 L267.7,133.1 L267.5,132 L267.4,130.9 L267.2,129.7 L267,128.4 L266.8,127.1 L266.5,125.7 L266.3,124.2 L266.1,122.7 L265.9,121.1 L265.7,120 L265.6,119 L265.5,117.9 L265.3,116.7 L265.2,115.6 L265,114.4 L264.9,113.2 L264.7,112 L264.6,110.7 L264.4,109.4 L264.2,108.2 L264.1,106.9 L263.9,105.6 L263.7,104.3 L263.6,102.9 L263.4,101.6 L263.2,100.3 L263,99 L262.8,97.7 L262.7,96.4 L262.5,95.1 L262.3,93.9 L262.1,92.6 L261.9,91.4 L261.7,90.2 L261.5,89 L261.3,87.9 L261.1,86.8 L260.9,85.7 L260.7,84.7 L260.5,83.7 L260.2,82.3 L259.9,81 L259.6,79.7 L259.3,78.4 L258.9,77.2 L258.6,75.9 L258.3,74.7 L258,73.5 L257.6,72.3 L257.3,71.2 L256.9,70 L256.6,68.9 L256.2,67.8 L255.8,66.7 L255.5,65.7 L255.1,64.6 L254.8,63.6 L254.4,62.6 L254,61.7 L253.7,60.7 L253.3,59.8 L253,58.9 L252.6,58.1 L252.1,56.8 L251.5,55.6 L251,54.5 L250.5,53.5 L250,52.6 L249.5,51.7 L248.9,50.9 L248.4,50.1 L247.9,49.2 L247.3,48.4 L246.7,47.6 L246,46.7 L245.3,45.8 L244.6,44.8 L243.9,43.9 L243.2,43 L242.5,42.1 L241.8,41.3 L241.1,40.4 L240.4,39.6 L239.6,38.8 L238.9,38 L238.2,37.2 L237.4,36.5 L236.6,35.7 L235.9,35 L235.1,34.3 L234.3,33.7 L233.5,33 L232.6,32.3 L231.8,31.7 L231,31.1 L230.1,30.5 L229.3,29.9 L228.4,29.4 L227.6,28.8 L226.7,28.3 L225.8,27.8 L224.8,27.3 L223.8,26.8 L222.8,26.3 L221.7,25.8 L220.8,25.4 L219.9,25 L218.9,24.6 L217.9,24.2 L216.9,23.9 L215.8,23.5 L214.8,23.1 L213.7,22.8 L212.6,22.4 L211.5,22.1 L210.3,21.8 L209.2,21.4 L208,21.1 L206.9,20.8 L205.7,20.6 L204.5,20.3 L203.3,20 L202.3,19.8 L201.2,19.6 L200.2,19.4 L199.2,19.2 L198.1,19.1 L197.1,18.9 L196,18.7 L194.9,18.6 L193.8,18.4 L192.7,18.3 L191.6,18.2 L190.4,18.1 L189.3,17.9 L188,17.8 L186.8,17.7 L185.5,17.6 L184.2,17.5 L182.8,17.4 L181.4,17.3 L180.3,17.2 L179.3,17.1 L178.1,17 L177,17 L175.8,16.9 L174.7,16.8 L173.5,16.7 L172.2,16.7 L171,16.6 L169.8,16.5 L168.5,16.5 L167.2,16.4 L166,16.4 L164.7,16.3 L163.4,16.3 L162.1,16.2 L160.9,16.2 L159.6,16.1 L158.4,16.1 L157.1,16.1 L155.9,16 L154.7,16 L153.5,16 L152.3,16 L151.2,16 L150,16 L148.8,16 L147.5,16 L146.2,16 L145,16.1 L143.8,16.1 L142.5,16.1 L141.3,16.1 L140.1,16.2 L138.9,16.2 L137.7,16.3 L136.5,16.3 L135.3,16.4 L134.2,16.5 L133,16.5 L131.8,16.6 L130.7,16.7 L129.6,16.8 L128.4,16.9 L127.3,17 L126.2,17.1 L125.1,17.2 L124,17.3 L122.9,17.4 L121.6,17.6 L120.3,17.7 L119.1,17.9 L117.8,18 L116.6,18.2 L115.4,18.3 L114.2,18.5 L113.1,18.6 L111.9,18.8 L110.8,19 L109.7,19.2 L108.6,19.4 L107.6,19.6 L106.5,19.8 L105.5,20 L104.6,20.3 L103.6,20.6 L102.6,20.9 L101.7,21.2 L100.8,21.5 L99.8,21.9 L98.8,22.3 L97.8,22.7 L96.8,23.1 L95.9,23.6 L95,24 L94,24.5 L93.1,25 L92.2,25.5 L91.3,26 L90.4,26.6 L89.6,27.2 L88.7,27.8 L87.8,28.4 L86.9,29.1 L86,29.8 L85.1,30.5 L84.2,31.2 L83.2,32 L82.5,32.7 L81.7,33.4 L81,34.1 L80.2,34.8 L79.4,35.6 L78.6,36.4 L77.8,37.2 L77,38 L76.2,38.9 L75.4,39.7 L74.6,40.6 L73.8,41.5 L73,42.4 L72.3,43.3 L71.5,44.2 L70.8,45.1 L70.1,46 L69.4,46.9 L68.8,47.8 L68.1,48.6 L67.5,49.5 L66.9,50.4 L66.4,51.3 L65.9,52.1 L65.4,53 L64.9,53.9 L64.4,54.8 L64,55.8 L63.5,56.8 L63.1,57.8 L62.7,58.9 L62.3,59.9 L61.9,61 L61.5,62.1 L61.2,63.3 L60.8,64.4 L60.5,65.5 L60.1,66.6 L59.8,67.7 L59.5,68.8 L59.2,70 L58.9,71 L58.6,72.1 L58.3,73.2 L58,74.3 L57.7,75.3 L57.2,76.7 L56.9,78 L56.5,79.2 L56.2,80.4 L55.9,81.4 L55.7,82.4 L55.5,83.4 L55.3,84.3 L55.1,85.2 L55,86.2 L54.8,87.2 L54.7,88.3 L54.6,89.4 L54.5,90.6 L54.4,91.5 L54.4,92.6 L54.4,93.7 L54.4,95 L54.4,96.3 L54.4,97.6 L54.4,99 L54.5,100.4 L54.5,101.7 L54.6,103.1 L54.6,104.4 L54.7,105.7 L54.8,106.9 L54.8,108.1 L54.9,109.2 L54.9,110.1 L55,111 L55,111.8Z" fill="#252525"/>
<path d="M55,111.8 L55,111 L54.9,110.1 L54.9,109.2 L54.8,108.1 L54.8,106.9 L54.7,105.7 L54.6,104.4 L54.6,103.1 L54.5,101.7 L54.5,100.4 L54.4,99 L54.4,97.6 L54.4,96.3 L54.4,95 L54.4,93.7 L54.4,92.6 L54.4,91.5 L54.5,90.6 L54.6,89.4 L54.7,88.3 L54.8,87.2 L55,86.2 L55.1,85.2 L55.3,84.3 L55.5,83.4 L55.7,82.4 L55.9,81.4 L56.2,80.4 L56.5,79.2 L56.9,78 L57.2,76.7 L57.7,75.3 L58,74.3 L58.3,73.2 L58.6,72.1 L58.9,71 L59.2,70 L59.5,68.8 L59.8,67.7 L60.1,66.6 L60.5,65.5 L60.8,64.4 L61.2,63.3 L61.5,62.1 L61.9,61 L62.3,59.9 L62.7,58.9 L63.1,57.8 L63.5,56.8 L64,55.8 L64.4,54.8 L64.9,53.9 L65.4,53 L65.9,52.1 L66.4,51.3 L66.9,50.4 L67.5,49.5 L68.1,48.6 L68.8,47.8 L69.4,46.9 L70.1,46 L70.8,45.1 L71.5,44.2 L72.3,43.3 L73,42.4 L73.8,41.5 L74.6,40.6 L75.4,39.7 L76.2,38.9 L77,38 L77.8,37.2 L78.6,36.4 L79.4,35.6 L80.2,34.8 L81,34.1 L81.7,33.4 L82.5,32.7 L83.2,32 L84.2,31.2 L85.1,30.5 L86,29.8 L86.9,29.1 L87.8,28.4 L88.7,27.8 L89.6,27.2 L90.4,26.6 L91.3,26 L92.2,25.5 L93.1,25 L94,24.5 L95,24 L95.9,23.6 L96.8,23.1 L97.8,22.7 L98.8,22.3 L99.8,21.9 L100.8,21.5 L101.7,21.2 L102.6,20.9 L103.6,20.6 L104.6,20.3 L105.5,20 L106.5,19.8 L107.6,19.6 L108.6,19.4 L109.7,19.2 L110.8,19 L111.9,18.8 L113.1,18.6 L114.2,18.5 L115.4,18.3 L116.6,18.2 L117.8,18 L119.1,17.9 L120.3,17.7 L121.6,17.6 L122.9,17.4 L124,17.3 L125.1,17.2 L126.2,17.1 L127.3,17 L128.4,16.9 L129.6,16.8 L130.7,16.7 L131.8,16.6 L133,16.5 L134.2,16.5 L135.3,16.4 L136.5,16.3 L137.7,16.3 L138.9,16.2 L140.1,16.2 L141.3,16.1 L142.5,16.1 L143.8,16.1 L145,16.1 L146.2,16 L147.5,16 L148.8,16 L150,16 L151.2,16 L152.3,16 L153.5,16 L154.7,16 L155.9,16 L157.1,16.1 L158.4,16.1 L159.6,16.1 L160.9,16.2 L162.1,16.2 L163.4,16.3 L164.7,16.3 L166,16.4 L167.2,16.4 L168.5,16.5 L169.8,16.5 L171,16.6 L172.2,16.7 L173.5,16.7 L174.7,16.8 L175.8,16.9 L177,17 L178.1,17 L179.3,17.1 L180.3,17.2 L181.4,17.3 L182.8,17.4 L184.2,17.5 L185.5,17.6 L186.8,17.7 L188,17.8 L189.3,17.9 L190.4,18.1 L191.6,18.2 L192.7,18.3 L193.8,18.4 L194.9,18.6 L196,18.7 L197.1,18.9 L198.1,19.1 L199.2,19.2 L200.2,19.4 L201.2,19.6 L202.3,19.8 L203.3,20 L204.5,20.3 L205.7,20.6 L206.9,20.8 L208,21.1 L209.2,21.4 L210.3,21.8 L211.5,22.1 L212.6,22.4 L213.7,22.8 L214.8,23.1 L215.8,23.5 L216.9,23.9 L217.9,24.2 L218.9,24.6 L219.9,25 L220.8,25.4 L221.7,25.8 L222.8,26.3 L223.8,26.8 L224.8,27.3 L225.8,27.8 L226.7,28.3 L227.6,28.8 L228.4,29.4 L229.3,29.9 L230.1,30.5 L231,31.1 L231.8,31.7 L232.6,32.3 L233.5,33 L234.3,33.7 L235.1,34.3 L235.9,35 L236.6,35.7 L237.4,36.5 L238.2,37.2 L238.9,38 L239.6,38.8 L240.4,39.6 L241.1,40.4 L241.8,41.3 L242.5,42.1 L243.2,43 L243.9,43.9 L244.6,44.8 L245.3,45.8 L246,46.7 L246.7,47.6 L247.3,48.4 L247.9,49.2 L248.4,50.1 L248.9,50.9 L249.5,51.7 L250,52.6 L250.5,53.5 L251,54.5 L251.5,55.6 L252.1,56.8 L252.6,58.1 L253,58.9 L253.3,59.8 L253.7,60.7 L254,61.7 L254.4,62.6 L254.8,63.6 L255.1,64.6 L255.5,65.7 L255.8,66.7 L256.2,67.8 L256.6,68.9 L256.9,70 L257.3,71.2 L257.6,72.3 L258,73.5 L258.3,74.7 L258.6,75.9 L258.9,77.2 L259.3,78.4 L259.6,79.7 L259.9,81 L260.2,82.3 L260.5,83.7 L260.7,84.7 L260.9,85.7 L261.1,86.8 L261.3,87.9 L261.5,89 L261.7,90.2 L261.9,91.4 L262.1,92.6 L262.3,93.9 L262.5,95.1 L262.7,96.4 L262.8,97.7 L263,99 L263.2,100.3 L263.4,101.6 L263.6,102.9 L263.7,104.3 L263.9,105.6 L264.1,106.9 L264.2,108.2 L264.4,109.4 L264.6,110.7 L264.7,112 L264.9,113.2 L265,114.4 L265.2,115.6 L265.3,116.7 L265.5,117.9 L265.6,119 L265.7,120 L265.9,121.1 L266.1,122.7 L266.3,124.2 L266.5,125.7 L266.8,127.1 L267,128.4 L267.2,129.7 L267.4,130.9 L267.5,132 L267.7,133.1 L267.9,134.1 L268,135.1 L268.1,136.1 L268.2,137.1 L268.3,138.1 L268.4,139.1 L268.5,140.1 L268.5,141.1 L268.5,142.2 L268.5,143.3 L268.5,144.4 L268.4,145.5 L268.4,146.7 L268.3,147.8 L268.3,149 L268.2,150.2 L268.1,151.4 L268,152.6 L267.9,153.8 L267.7,155 L267.6,156.2 L267.4,157.3 L267.2,158.5 L267,159.7 L266.8,160.8 L266.6,161.9 L266.4,163 L266.1,164.1 L265.9,165.1 L265.6,166.1 L265.3,167.1 L265,168.2 L264.6,169.3 L264.3,170.3 L263.9,171.3 L263.5,172.3 L263.1,173.3 L262.7,174.3 L262.3,175.2 L261.9,176.1 L261.4,177 L260.9,178 L260.4,178.9 L259.9,179.8 L259.3,180.7 L258.7,181.6 L258.1,182.6 L257.4,183.5 L256.7,184.5 L256,185.5 L252,182.5 L252.7,181.5 L253.4,180.6 L254,179.8 L254.5,178.9 L255.1,178.1 L255.6,177.2 L256.1,176.4 L256.5,175.6 L257,174.7 L257.4,173.9 L257.8,173.1 L258.2,172.2 L258.5,171.4 L258.9,170.5 L259.2,169.6 L259.6,168.7 L259.9,167.7 L260.2,166.7 L260.5,165.7 L260.8,164.8 L261,163.9 L261.3,162.9 L261.5,161.9 L261.7,160.9 L261.9,159.9 L262.1,158.8 L262.3,157.7 L262.5,156.6 L262.6,155.5 L262.8,154.4 L262.9,153.2 L263,152.1 L263.1,150.9 L263.2,149.8 L263.3,148.7 L263.3,147.5 L263.4,146.4 L263.4,145.3 L263.5,144.2 L263.5,143.2 L263.5,142.2 L263.5,141.2 L263.5,140.3 L263.4,139.4 L263.3,138.5 L263.3,137.6 L263.2,136.7 L263.1,135.8 L262.9,134.8 L262.8,133.8 L262.6,132.8 L262.4,131.6 L262.2,130.5 L262,129.2 L261.8,127.9 L261.6,126.5 L261.4,125 L261.1,123.4 L260.9,121.7 L260.8,120.7 L260.6,119.6 L260.5,118.5 L260.4,117.4 L260.2,116.2 L260.1,115 L259.9,113.8 L259.7,112.6 L259.6,111.3 L259.4,110.1 L259.3,108.8 L259.1,107.5 L258.9,106.2 L258.8,104.9 L258.6,103.6 L258.4,102.3 L258.3,101 L258.1,99.7 L257.9,98.4 L257.7,97.1 L257.5,95.9 L257.3,94.6 L257.1,93.4 L257,92.2 L256.8,91 L256.6,89.9 L256.4,88.8 L256.2,87.7 L256,86.6 L255.8,85.6 L255.6,84.7 L255.3,83.4 L255,82.1 L254.7,80.9 L254.4,79.6 L254.1,78.4 L253.8,77.2 L253.5,76 L253.1,74.9 L252.8,73.7 L252.5,72.6 L252.1,71.5 L251.8,70.4 L251.5,69.4 L251.1,68.3 L250.8,67.3 L250.4,66.3 L250.1,65.3 L249.7,64.4 L249.4,63.5 L249,62.5 L248.7,61.7 L248.3,60.8 L248,60 L247.5,58.8 L247,57.7 L246.5,56.8 L246.1,55.9 L245.6,55.1 L245.2,54.3 L244.7,53.6 L244.2,52.8 L243.7,52.1 L243.2,51.3 L242.6,50.5 L242,49.7 L241.3,48.8 L240.6,47.8 L239.9,46.9 L239.3,46.1 L238.6,45.3 L238,44.5 L237.3,43.7 L236.6,42.9 L236,42.2 L235.3,41.4 L234.6,40.7 L233.9,40 L233.2,39.4 L232.5,38.7 L231.8,38.1 L231.1,37.5 L230.3,36.9 L229.6,36.3 L228.8,35.7 L228.1,35.1 L227.3,34.6 L226.5,34.1 L225.8,33.6 L225,33.1 L224.2,32.6 L223.4,32.2 L222.5,31.7 L221.6,31.3 L220.7,30.8 L219.7,30.4 L218.9,30 L218,29.6 L217.1,29.3 L216.2,28.9 L215.2,28.6 L214.2,28.2 L213.2,27.9 L212.2,27.5 L211.1,27.2 L210,26.9 L209,26.6 L207.9,26.3 L206.8,26 L205.6,25.7 L204.5,25.4 L203.4,25.2 L202.3,24.9 L201.3,24.7 L200.3,24.5 L199.3,24.3 L198.3,24.2 L197.3,24 L196.3,23.8 L195.3,23.7 L194.3,23.5 L193.2,23.4 L192.2,23.3 L191.1,23.2 L189.9,23 L188.8,22.9 L187.6,22.8 L186.3,22.7 L185.1,22.6 L183.8,22.5 L182.4,22.4 L181,22.3 L180,22.2 L178.9,22.1 L177.8,22 L176.7,22 L175.5,21.9 L174.4,21.8 L173.2,21.7 L172,21.7 L170.7,21.6 L169.5,21.5 L168.3,21.5 L167,21.4 L165.8,21.4 L164.5,21.3 L163.2,21.3 L162,21.2 L160.7,21.2 L159.5,21.1 L158.2,21.1 L157,21.1 L155.8,21 L154.6,21 L153.4,21 L152.3,21 L151.1,21 L150,21 L148.8,21 L147.6,21 L146.3,21 L145.1,21.1 L143.9,21.1 L142.7,21.1 L141.5,21.1 L140.3,21.2 L139.1,21.2 L137.9,21.3 L136.8,21.3 L135.6,21.4 L134.5,21.5 L133.3,21.5 L132.2,21.6 L131.1,21.7 L130,21.8 L128.9,21.9 L127.8,22 L126.7,22.1 L125.6,22.2 L124.5,22.3 L123.5,22.4 L122.2,22.6 L120.9,22.7 L119.6,22.9 L118.4,23 L117.2,23.1 L116,23.3 L114.9,23.4 L113.8,23.6 L112.7,23.8 L111.6,23.9 L110.6,24.1 L109.6,24.3 L108.6,24.5 L107.7,24.7 L106.7,24.9 L105.9,25.1 L105,25.4 L104.2,25.6 L103.4,25.9 L102.5,26.2 L101.6,26.5 L100.7,26.9 L99.8,27.3 L98.9,27.7 L98.1,28.1 L97.2,28.5 L96.4,28.9 L95.6,29.4 L94.7,29.8 L93.9,30.3 L93.1,30.8 L92.3,31.3 L91.5,31.9 L90.7,32.5 L89.9,33.1 L89.1,33.7 L88.2,34.4 L87.4,35.1 L86.5,35.8 L85.8,36.4 L85.1,37.1 L84.4,37.7 L83.6,38.5 L82.9,39.2 L82.1,39.9 L81.4,40.7 L80.6,41.5 L79.8,42.3 L79.1,43.1 L78.3,43.9 L77.6,44.8 L76.8,45.6 L76.1,46.5 L75.4,47.3 L74.7,48.2 L74.1,49 L73.4,49.9 L72.8,50.7 L72.2,51.5 L71.6,52.3 L71.1,53.1 L70.6,53.9 L70.2,54.6 L69.7,55.4 L69.3,56.2 L68.9,57 L68.5,57.9 L68.1,58.8 L67.7,59.7 L67.3,60.7 L67,61.7 L66.6,62.7 L66.3,63.7 L65.9,64.8 L65.6,65.8 L65.2,66.9 L64.9,68 L64.6,69.1 L64.3,70.2 L64,71.3 L63.7,72.4 L63.4,73.5 L63.1,74.6 L62.8,75.6 L62.5,76.7 L62,78.1 L61.7,79.4 L61.3,80.6 L61,81.6 L60.8,82.6 L60.6,83.6 L60.4,84.4 L60.2,85.3 L60,86.1 L59.9,86.9 L59.8,87.8 L59.7,88.8 L59.6,89.8 L59.5,91 L59.4,91.8 L59.4,92.7 L59.4,93.8 L59.4,94.9 L59.4,96.2 L59.4,97.5 L59.4,98.8 L59.5,100.2 L59.5,101.5 L59.6,102.9 L59.6,104.2 L59.7,105.5 L59.8,106.7 L59.8,107.8 L59.9,108.9 L59.9,109.9 L60,110.8 L60,111.6Z" fill="#dedede"/>
<path d="M60,111.6 L60,110.8 L59.9,109.9 L59.9,108.9 L59.8,107.8 L59.8,106.7 L59.7,105.5 L59.6,104.2 L59.6,102.9 L59.5,101.5 L59.5,100.2 L59.4,98.8 L59.4,97.5 L59.4,96.2 L59.4,94.9 L59.4,93.8 L59.4,92.7 L59.4,91.8 L59.5,91 L59.6,89.8 L59.7,88.8 L59.8,87.8 L59.9,86.9 L60,86.1 L60.2,85.3 L60.4,84.4 L60.6,83.6 L60.8,82.6 L61,81.6 L61.3,80.6 L61.7,79.4 L62,78.1 L62.5,76.7 L62.8,75.6 L63.1,74.6 L63.4,73.5 L63.7,72.4 L64,71.3 L64.3,70.2 L64.6,69.1 L64.9,68 L65.2,66.9 L65.6,65.8 L65.9,64.8 L66.3,63.7 L66.6,62.7 L67,61.7 L67.3,60.7 L67.7,59.7 L68.1,58.8 L68.5,57.9 L68.9,57 L69.3,56.2 L69.7,55.4 L70.2,54.6 L70.6,53.9 L71.1,53.1 L71.6,52.3 L72.2,51.5 L72.8,50.7 L73.4,49.9 L74.1,49 L74.7,48.2 L75.4,47.3 L76.1,46.5 L76.8,45.6 L77.6,44.8 L78.3,43.9 L79.1,43.1 L79.8,42.3 L80.6,41.5 L81.4,40.7 L82.1,39.9 L82.9,39.2 L83.6,38.5 L84.4,37.7 L85.1,37.1 L85.8,36.4 L86.5,35.8 L87.4,35.1 L88.2,34.4 L89.1,33.7 L89.9,33.1 L90.7,32.5 L91.5,31.9 L92.3,31.3 L93.1,30.8 L93.9,30.3 L94.7,29.8 L95.6,29.4 L96.4,28.9 L97.2,28.5 L98.1,28.1 L98.9,27.7 L99.8,27.3 L100.7,26.9 L101.6,26.5 L102.5,26.2 L103.4,25.9 L104.2,25.6 L105,25.4 L105.9,25.1 L106.7,24.9 L107.7,24.7 L108.6,24.5 L109.6,24.3 L110.6,24.1 L111.6,23.9 L112.7,23.8 L113.8,23.6 L114.9,23.4 L116,23.3 L117.2,23.1 L118.4,23 L119.6,22.9 L120.9,22.7 L122.2,22.6 L123.5,22.4 L124.5,22.3 L125.6,22.2 L126.7,22.1 L127.8,22 L128.9,21.9 L130,21.8 L131.1,21.7 L132.2,21.6 L133.3,21.5 L134.5,21.5 L135.6,21.4 L136.8,21.3 L137.9,21.3 L139.1,21.2 L140.3,21.2 L141.5,21.1 L142.7,21.1 L143.9,21.1 L145.1,21.1 L146.3,21 L147.6,21 L148.8,21 L150,21 L151.1,21 L152.3,21 L153.4,21 L154.6,21 L155.8,21 L157,21.1 L158.2,21.1 L159.5,21.1 L160.7,21.2 L162,21.2 L163.2,21.3 L164.5,21.3 L165.8,21.4 L167,21.4 L168.3,21.5 L169.5,21.5 L170.7,21.6 L172,21.7 L173.2,21.7 L174.4,21.8 L175.5,21.9 L176.7,22 L177.8,22 L178.9,22.1 L180,22.2 L181,22.3 L182.4,22.4 L183.8,22.5 L185.1,22.6 L186.3,22.7 L187.6,22.8 L188.8,22.9 L189.9,23 L191.1,23.2 L192.2,23.3 L193.2,23.4 L194.3,23.5 L195.3,23.7 L196.3,23.8 L197.3,24 L198.3,24.2 L199.3,24.3 L200.3,24.5 L201.3,24.7 L202.3,24.9 L203.4,25.2 L204.5,25.4 L205.6,25.7 L206.8,26 L207.9,26.3 L209,26.6 L210,26.9 L211.1,27.2 L212.2,27.5 L213.2,27.9 L214.2,28.2 L215.2,28.6 L216.2,28.9 L217.1,29.3 L218,29.6 L218.9,30 L219.7,30.4 L220.7,30.8 L221.6,31.3 L222.5,31.7 L223.4,32.2 L224.2,32.6 L225,33.1 L225.8,33.6 L226.5,34.1 L227.3,34.6 L228.1,35.1 L228.8,35.7 L229.6,36.3 L230.3,36.9 L231.1,37.5 L231.8,38.1 L232.5,38.7 L233.2,39.4 L233.9,40 L234.6,40.7 L235.3,41.4 L236,42.2 L236.6,42.9 L237.3,43.7 L238,44.5 L238.6,45.3 L239.3,46.1 L239.9,46.9 L240.6,47.8 L241.3,48.8 L242,49.7 L242.6,50.5 L243.2,51.3 L243.7,52.1 L244.2,52.8 L244.7,53.6 L245.2,54.3 L245.6,55.1 L246.1,55.9 L246.5,56.8 L247,57.7 L247.5,58.8 L248,60 L248.3,60.8 L248.7,61.7 L249,62.5 L249.4,63.5 L249.7,64.4 L250.1,65.3 L250.4,66.3 L250.8,67.3 L251.1,68.3 L251.5,69.4 L251.8,70.4 L252.1,71.5 L252.5,72.6 L252.8,73.7 L253.1,74.9 L253.5,76 L253.8,77.2 L254.1,78.4 L254.4,79.6 L254.7,80.9 L255,82.1 L255.3,83.4 L255.6,84.7 L255.8,85.6 L256,86.6 L256.2,87.7 L256.4,88.8 L256.6,89.9 L256.8,91 L257,92.2 L257.1,93.4 L257.3,94.6 L257.5,95.9 L257.7,97.1 L257.9,98.4 L258.1,99.7 L258.3,101 L258.4,102.3 L258.6,103.6 L258.8,104.9 L258.9,106.2 L259.1,107.5 L259.3,108.8 L259.4,110.1 L259.6,111.3 L259.7,112.6 L259.9,113.8 L260.1,115 L260.2,116.2 L260.4,117.4 L260.5,118.5 L260.6,119.6 L260.8,120.7 L260.9,121.7 L261.1,123.4 L261.4,125 L261.6,126.5 L261.8,127.9 L262,129.2 L262.2,130.5 L262.4,131.6 L262.6,132.8 L262.8,133.8 L262.9,134.8 L263.1,135.8 L263.2,136.7 L263.3,137.6 L263.3,138.5 L263.4,139.4 L263.5,140.3 L263.5,141.2 L263.5,142.2 L263.5,143.2 L263.5,144.2 L263.4,145.3 L263.4,146.4 L263.3,147.5 L263.3,148.7 L263.2,149.8 L263.1,150.9 L263,152.1 L262.9,153.2 L262.8,154.4 L262.6,155.5 L262.5,156.6 L262.3,157.7 L262.1,158.8 L261.9,159.9 L261.7,160.9 L261.5,161.9 L261.3,162.9 L261,163.9 L260.8,164.8 L260.5,165.7 L260.2,166.7 L259.9,167.7 L259.6,168.7 L259.2,169.6 L258.9,170.5 L258.5,171.4 L258.2,172.2 L257.8,173.1 L257.4,173.9 L257,174.7 L256.5,175.6 L256.1,176.4 L255.6,177.2 L255.1,178.1 L254.5,178.9 L254,179.8 L253.4,180.6 L252.7,181.5 L252,182.5 L245.9,178.1 L246.7,177.1 L247.2,176.3 L247.8,175.6 L248.3,174.8 L248.7,174.1 L249.1,173.4 L249.6,172.7 L249.9,172 L250.3,171.3 L250.6,170.6 L251,169.9 L251.3,169.2 L251.6,168.5 L251.9,167.7 L252.2,167 L252.5,166.2 L252.8,165.3 L253.1,164.4 L253.4,163.5 L253.6,162.8 L253.8,162 L254,161.2 L254.2,160.3 L254.4,159.4 L254.5,158.5 L254.7,157.5 L254.9,156.6 L255,155.5 L255.2,154.5 L255.3,153.5 L255.4,152.4 L255.5,151.4 L255.6,150.3 L255.7,149.2 L255.8,148.2 L255.9,147.1 L255.9,146.1 L256,145.1 L256,144.1 L256,143.1 L256,142.2 L256,141.4 L256,140.6 L255.9,139.9 L255.9,139.1 L255.8,138.4 L255.7,137.6 L255.6,136.8 L255.5,135.9 L255.4,134.9 L255.2,133.9 L255,132.8 L254.8,131.7 L254.6,130.4 L254.4,129.1 L254.2,127.6 L254,126.1 L253.7,124.4 L253.5,122.8 L253.3,121.7 L253.2,120.6 L253.1,119.4 L252.9,118.3 L252.8,117.1 L252.6,115.9 L252.5,114.7 L252.3,113.5 L252.2,112.3 L252,111 L251.8,109.7 L251.7,108.4 L251.5,107.2 L251.3,105.9 L251.2,104.6 L251,103.3 L250.8,102 L250.6,100.7 L250.5,99.5 L250.3,98.2 L250.1,97 L249.9,95.8 L249.7,94.6 L249.5,93.4 L249.4,92.3 L249.2,91.1 L249,90.1 L248.8,89.1 L248.6,88.1 L248.4,87.1 L248.2,86.3 L248,85 L247.7,83.8 L247.4,82.6 L247.1,81.5 L246.8,80.3 L246.5,79.2 L246.2,78 L245.9,76.9 L245.6,75.9 L245.3,74.8 L245,73.7 L244.7,72.7 L244.3,71.7 L244,70.7 L243.7,69.8 L243.3,68.8 L243,67.9 L242.7,67 L242.4,66.1 L242,65.3 L241.7,64.4 L241.4,63.6 L241.1,62.9 L240.6,61.8 L240.2,60.9 L239.8,60.1 L239.5,59.4 L239.1,58.8 L238.8,58.2 L238.4,57.6 L238,57 L237.6,56.3 L237.1,55.7 L236.6,54.9 L236,54.1 L235.3,53.3 L234.6,52.3 L234,51.5 L233.4,50.7 L232.8,50 L232.2,49.3 L231.6,48.6 L231,47.9 L230.4,47.2 L229.8,46.6 L229.2,46 L228.7,45.4 L228.1,44.8 L227.5,44.3 L226.9,43.8 L226.3,43.3 L225.6,42.7 L225,42.2 L224.3,41.7 L223.7,41.2 L223,40.8 L222.4,40.3 L221.8,39.9 L221.1,39.5 L220.4,39.1 L219.8,38.8 L219,38.4 L218.3,38 L217.5,37.6 L216.6,37.2 L215.9,36.9 L215.2,36.6 L214.4,36.3 L213.5,35.9 L212.6,35.6 L211.7,35.3 L210.8,35 L209.9,34.7 L208.9,34.4 L207.9,34.1 L206.9,33.8 L205.9,33.5 L204.9,33.2 L203.8,33 L202.8,32.7 L201.8,32.5 L200.7,32.2 L199.8,32.1 L198.9,31.9 L198,31.7 L197.1,31.5 L196.1,31.4 L195.2,31.2 L194.3,31.1 L193.3,31 L192.3,30.9 L191.3,30.7 L190.2,30.6 L189.2,30.5 L188,30.4 L186.9,30.3 L185.7,30.2 L184.4,30.1 L183.2,30 L181.8,29.8 L180.4,29.7 L179.4,29.7 L178.4,29.6 L177.3,29.5 L176.2,29.4 L175.1,29.4 L173.9,29.3 L172.7,29.2 L171.5,29.2 L170.3,29.1 L169.1,29 L167.9,29 L166.7,28.9 L165.4,28.9 L164.2,28.8 L162.9,28.8 L161.7,28.7 L160.5,28.7 L159.3,28.6 L158,28.6 L156.8,28.6 L155.7,28.5 L154.5,28.5 L153.3,28.5 L152.2,28.5 L151.1,28.5 L150.1,28.5 L148.8,28.5 L147.6,28.5 L146.4,28.5 L145.2,28.6 L144.1,28.6 L142.9,28.6 L141.7,28.6 L140.6,28.7 L139.4,28.7 L138.3,28.8 L137.1,28.8 L136,28.9 L134.9,29 L133.8,29 L132.7,29.1 L131.6,29.2 L130.6,29.3 L129.5,29.3 L128.5,29.4 L127.4,29.5 L126.4,29.6 L125.4,29.8 L124.3,29.9 L123,30 L121.7,30.2 L120.5,30.3 L119.3,30.4 L118.1,30.6 L117,30.7 L115.9,30.9 L114.8,31 L113.8,31.2 L112.8,31.3 L111.9,31.5 L111,31.6 L110.1,31.8 L109.3,32 L108.5,32.2 L107.8,32.4 L107.1,32.6 L106.4,32.8 L105.8,33 L105.2,33.2 L104.4,33.5 L103.6,33.8 L102.8,34.2 L102,34.5 L101.3,34.8 L100.6,35.2 L99.9,35.6 L99.2,35.9 L98.5,36.3 L97.8,36.7 L97.2,37.1 L96.5,37.6 L95.8,38 L95.1,38.5 L94.4,39.1 L93.7,39.6 L93,40.2 L92.2,40.8 L91.4,41.5 L90.8,42 L90.2,42.6 L89.5,43.2 L88.8,43.9 L88.1,44.5 L87.4,45.2 L86.7,46 L86,46.7 L85.3,47.4 L84.6,48.2 L83.9,49 L83.2,49.7 L82.5,50.5 L81.9,51.3 L81.2,52.1 L80.6,52.8 L80,53.6 L79.4,54.4 L78.9,55.1 L78.3,55.8 L77.9,56.5 L77.4,57.2 L77,57.9 L76.6,58.4 L76.3,59 L76,59.6 L75.7,60.3 L75.3,61 L75,61.7 L74.7,62.5 L74.3,63.3 L74,64.2 L73.7,65.1 L73.4,66.1 L73.1,67.1 L72.7,68.1 L72.4,69.1 L72.1,70.1 L71.8,71.2 L71.5,72.2 L71.2,73.3 L70.9,74.4 L70.6,75.5 L70.3,76.6 L70,77.7 L69.7,78.8 L69.2,80.2 L68.9,81.5 L68.6,82.6 L68.3,83.6 L68.1,84.5 L67.9,85.3 L67.7,86 L67.6,86.7 L67.4,87.4 L67.3,88.1 L67.2,88.8 L67.1,89.6 L67,90.5 L66.9,91.5 L66.9,92.2 L66.9,92.9 L66.9,93.9 L66.9,94.9 L66.9,96.1 L66.9,97.3 L66.9,98.6 L67,99.9 L67,101.2 L67.1,102.5 L67.1,103.8 L67.2,105.1 L67.3,106.3 L67.3,107.4 L67.4,108.5 L67.4,109.6 L67.5,110.6 L67.5,111.4Z" fill="#1d1d1d"/>
<circle cx="56.8" cy="112" r="0.7" fill="#555"/>
<circle cx="57.6" cy="109.9" r="0.8" fill="#3a3a3a"/>
<circle cx="56.3" cy="104.8" r="0.9" fill="#555"/>
<circle cx="56.5" cy="101.9" r="1.3" fill="#555"/>
<circle cx="56.3" cy="93.9" r="0.7" fill="#f4f4f4"/>
<circle cx="56.2" cy="90.4" r="1.2" fill="#3a3a3a"/>
<circle cx="57.4" cy="86.9" r="0.7" fill="#555"/>
<circle cx="56.9" cy="84.2" r="1.1" fill="#f4f4f4"/>
<circle cx="60.1" cy="78.4" r="0.8" fill="#3a3a3a"/>
<circle cx="61.4" cy="71.8" r="1.2" fill="#555"/>
<circle cx="62.4" cy="67.6" r="1" fill="#3a3a3a"/>
<circle cx="64.2" cy="60.9" r="1.1" fill="#555"/>
<circle cx="68.4" cy="53.5" r="1" fill="#f4f4f4"/>
<circle cx="68.8" cy="50.5" r="1.1" fill="#3a3a3a"/>
<circle cx="71.8" cy="48.7" r="1.3" fill="#f4f4f4"/>
<circle cx="73.3" cy="46.1" r="0.6" fill="#f4f4f4"/>
<circle cx="75.9" cy="43.1" r="0.8" fill="#f4f4f4"/>
<circle cx="77.5" cy="40.4" r="1.2" fill="#3a3a3a"/>
<circle cx="80.2" cy="37.7" r="0.7" fill="#f4f4f4"/>
<circle cx="84.7" cy="33.6" r="1.2" fill="#3a3a3a"/>
<circle cx="86.9" cy="31.2" r="0.8" fill="#f4f4f4"/>
<circle cx="92.2" cy="27.5" r="1" fill="#555"/>
<circle cx="113.1" cy="21.8" r="1.2" fill="#555"/>
<circle cx="115.5" cy="20" r="1" fill="#3a3a3a"/>
<circle cx="120.3" cy="20.3" r="0.7" fill="#555"/>
<circle cx="122.2" cy="19.2" r="0.7" fill="#f4f4f4"/>
<circle cx="129.2" cy="19" r="1" fill="#f4f4f4"/>
<circle cx="135.9" cy="18.8" r="1.3" fill="#f4f4f4"/>
<circle cx="139.4" cy="17.9" r="0.8" fill="#f4f4f4"/>
<circle cx="144.2" cy="18.6" r="0.7" fill="#555"/>
<circle cx="147.9" cy="19.3" r="1.1" fill="#f4f4f4"/>
<circle cx="161.8" cy="18.1" r="1.1" fill="#555"/>
<circle cx="187.3" cy="20.1" r="1.2" fill="#3a3a3a"/>
<circle cx="193.7" cy="20.1" r="0.8" fill="#f4f4f4"/>
<circle cx="197.9" cy="21.2" r="1.2" fill="#555"/>
<circle cx="206.8" cy="23" r="0.7" fill="#3a3a3a"/>
<circle cx="211.7" cy="24.7" r="0.6" fill="#555"/>
<circle cx="214.3" cy="26.2" r="0.7" fill="#f4f4f4"/>
<circle cx="222.1" cy="29.6" r="0.8" fill="#555"/>
<circle cx="225.2" cy="31.4" r="1.1" fill="#3a3a3a"/>
<circle cx="230.5" cy="33.6" r="1.1" fill="#555"/>
<circle cx="239.3" cy="41.3" r="0.6" fill="#555"/>
<circle cx="247.6" cy="52.9" r="0.7" fill="#f4f4f4"/>
<circle cx="248.3" cy="55.2" r="0.8" fill="#555"/>
<circle cx="249" cy="58.6" r="0.8" fill="#f4f4f4"/>
<circle cx="255.5" cy="76.6" r="1.2" fill="#3a3a3a"/>
<circle cx="257.9" cy="87.5" r="0.7" fill="#3a3a3a"/>
<circle cx="259.3" cy="90.7" r="1.1" fill="#3a3a3a"/>
<circle cx="259.7" cy="97.1" r="0.7" fill="#f4f4f4"/>
<circle cx="262.6" cy="113.5" r="1" fill="#555"/>
<circle cx="262.8" cy="117.7" r="1" fill="#3a3a3a"/>
<circle cx="265.2" cy="133.3" r="1.2" fill="#3a3a3a"/>
<circle cx="265.3" cy="135.1" r="1.1" fill="#f4f4f4"/>
<circle cx="266.2" cy="138.9" r="1.2" fill="#3a3a3a"/>
<circle cx="265.3" cy="147" r="0.9" fill="#555"/>
<circle cx="265.2" cy="155.6" r="1.2" fill="#3a3a3a"/>
<circle cx="263.3" cy="164.2" r="0.7" fill="#f4f4f4"/>
<circle cx="262.7" cy="167.3" r="0.6" fill="#f4f4f4"/>
<circle cx="261.4" cy="172.5" r="1.2" fill="#3a3a3a"/>
<circle cx="257.3" cy="177.6" r="1.1" fill="#f4f4f4"/>
<path d="M68,100 L67.4,98.8 L67,97.3 L66.8,95.8 L66.6,94.2 L66.6,92.4 L66.6,90.7 L66.7,88.9 L66.8,87.2 L66.9,85.6 L67,84 L67.1,82.4 L67.3,80.7 L67.6,79.1 L67.8,77.6 L68.2,76 L68.6,74.5 L69,73 L69.5,71.5 L70,70 L70.6,68.5 L71.2,67 L71.9,65.6 L72.6,64.1 L73.3,62.7 L74.1,61.2 L75,59.8 L76,58.4 L77,57 L77.9,55.9 L78.8,54.7 L79.8,53.5 L80.9,52.4 L81.9,51.3 L83.1,50.1 L84.2,49 L85.4,48 L86.6,46.9 L87.8,45.9 L89,45 L90.2,44.1 L91.5,43.3 L92.8,42.4 L94.1,41.7 L95.4,40.9 L96.8,40.2 L98.2,39.5 L99.6,38.9 L101,38.2 L102.5,37.6 L104,37 L105.4,36.5 L106.8,36 L108.3,35.5 L109.8,35 L111.3,34.6 L112.8,34.1 L114.3,33.7 L115.9,33.3 L117.4,33 L119,32.6 L120.5,32.3 L122,32 L123.5,31.7 L125,31.5 L126.5,31.3 L127.9,31.1 L129.4,30.9 L130.9,30.7 L132.4,30.6 L133.9,30.4 L135.4,30.3 L136.9,30.2 L138.4,30.1 L140,30 L141.5,29.9 L143,29.8 L144.5,29.8 L146,29.7 L147.5,29.7 L149.1,29.6 L150.7,29.6 L152.2,29.6 L153.8,29.5 L155.3,29.5 L156.9,29.5 L158.5,29.5 L160,29.5 L161.5,29.5 L163.1,29.5 L164.7,29.5 L166.3,29.5 L167.9,29.6 L169.5,29.6 L171,29.6 L172.6,29.7 L174.1,29.7 L175.7,29.8 L177.1,29.8 L178.6,29.9 L180,30 L181.8,30.1 L183.4,30.2 L185,30.4 L186.6,30.5 L188.1,30.7 L189.6,30.8 L191.2,31.1 L192.7,31.3 L194.3,31.6 L196,32 L197.4,32.3 L198.9,32.7 L200.4,33.1 L201.9,33.5 L203.4,33.9 L204.9,34.4 L206.5,34.9 L208,35.4 L209.5,36 L211,36.6 L212.5,37.3 L214,38 L215.4,38.7 L216.7,39.5 L218.1,40.3 L219.4,41.1 L220.8,42 L222.1,42.9 L223.5,43.8 L224.8,44.8 L226.1,45.8 L227.4,46.8 L228.6,47.9 L229.8,48.9 L231,50 L232.1,51.1 L233.3,52.2 L234.4,53.4 L235.5,54.6 L236.5,55.8 L237.6,57 L238.6,58.3 L239.5,59.5 L240.5,60.8 L241.4,62.1 L242.3,63.4 L243.2,64.7 L244,66 L244.8,67.3 L245.5,68.6 L246.3,70 L247,71.3 L247.6,72.7 L248.3,74.1 L248.9,75.4 L249.4,76.8 L250,78.2 L250.5,79.7 L251,81.1 L251.5,82.5 L252,84 L252.4,85.5 L252.9,87 L253.3,88.5 L253.6,90 L254,91.5 L254.3,93.1 L254.6,94.7 L254.9,96.2 L255.1,97.8 L255.4,99.3 L255.6,100.9 L255.8,102.5 L256,104 L256.2,105.5 L256.3,107.1 L256.5,108.7 L256.6,110.2 L256.7,111.8 L256.8,113.3 L256.9,114.9 L257,116.5 L257,118 L257,119.5 L257,121 L257,122.5 L257,124 L256.9,125.6 L256.9,127.2 L256.8,128.8 L256.7,130.3 L256.5,131.9 L256.4,133.4 L256.2,135 L256,136.4 L255.8,137.9 L255.5,139.3 L255.3,140.7 L255,142 L254.6,143.7 L254.2,145.3 L253.7,146.8 L253.2,148.2 L252.7,149.6 L252.1,151 L251.4,152.3 L250.7,153.7 L250,155 L249.2,156.3 L248.3,157.7 L247.3,159 L246.3,160.2 L245.3,161.5 L244.2,162.7 L243.1,163.9 L242.1,165 L241,166 L239.8,167.1 L238.5,168.1 L237.1,169 L235.8,169.9 L234.5,170.7 L233.2,171.5 L232.1,172.2 L231,173 L229.6,174.1 L228.5,175.1 L227.5,176 L226.4,177 L225,178 L223.8,178.8 L222.6,179.7 L221.3,180.7 L219.8,181.6 L218.3,182.5 L216.7,183.3 L215,184 L213.7,184.4 L212.3,184.9 L210.8,185.3 L209.3,185.7 L207.8,186 L206.2,186.3 L204.6,186.6 L203,186.8 L201.5,186.9 L200,187 L198.4,187 L196.7,187 L195.1,186.9 L193.4,186.7 L191.8,186.5 L190.3,186.2 L188.8,185.9 L187.3,185.5 L186,185 L184.4,184.3 L182.9,183.5 L181.6,182.5 L180.3,181.5 L179.1,180.4 L178,179.2 L177,178 L176.1,176.6 L175.3,174.8 L174.6,172.9 L174,171 L173.4,169.5 L172.7,168.4 L172,168 L171.2,168.5 L170.5,169.7 L169.7,171.4 L168.9,173.3 L168,175.2 L167.1,176.9 L166,178 L164.5,178.8 L162.8,179.4 L161,179.8 L159.2,179.9 L157.5,179.6 L156,179 L155.1,178.2 L154.2,177.3 L153.5,176.1 L152.8,174.7 L152.1,173.2 L151.4,171.5 L150.7,169.8 L150,168 L149.5,166.8 L149,165.4 L148.5,164 L148,162.6 L147.4,161.1 L146.9,159.6 L146.4,158 L145.9,156.4 L145.4,154.8 L144.9,153.2 L144.5,151.6 L144,150 L143.6,148.5 L143.2,147 L142.8,145.4 L142.4,143.7 L142,142.1 L141.6,140.4 L141.2,138.8 L140.8,137.2 L140.4,135.6 L140.1,134.1 L139.7,132.7 L139.3,131.3 L139,130 L138.5,128.1 L138,126.3 L137.6,124.7 L137.2,123.1 L136.8,121.7 L136.3,120.4 L135.7,119.2 L135,118 L134,116.8 L132.9,115.7 L131.8,114.7 L130.5,113.9 L129.1,113.2 L127.6,112.5 L126,112 L124.7,111.7 L123.3,111.4 L121.8,111.3 L120.3,111.2 L118.7,111.2 L117.1,111.1 L115.4,111.1 L113.7,111.1 L112,111 L110.6,110.9 L109.1,110.8 L107.5,110.8 L106,110.7 L104.4,110.7 L102.8,110.6 L101.2,110.5 L99.6,110.4 L98,110.3 L96.5,110.2 L95,110 L93.4,109.8 L91.8,109.6 L90.3,109.4 L88.7,109.1 L87.2,108.9 L85.7,108.6 L84.2,108.3 L82.8,107.9 L81.4,107.5 L80,107 L78.5,106.4 L76.9,105.9 L75.4,105.3 L73.9,104.7 L72.4,103.9 L71.1,103.1 L69.9,102.2 L68.8,101.2Z" fill="#909090"/>
<path d="M92,98 L91.5,96.6 L91.4,94.9 L91.4,93 L91.7,90.9 L92.1,88.7 L92.7,86.4 L93.4,84.1 L94.2,81.9 L95.1,79.9 L96,78 L97,76.3 L98,74.6 L99.2,72.9 L100.4,71.3 L101.8,69.8 L103.2,68.3 L104.8,66.8 L106.4,65.5 L108.1,64.2 L110,63 L111.6,62.1 L113.4,61.2 L115.2,60.4 L117.1,59.6 L119.1,58.9 L121.1,58.2 L123.2,57.6 L125.3,57 L127.5,56.4 L129.7,55.9 L131.8,55.4 L134,55 L135.9,54.7 L137.8,54.3 L139.7,54.1 L141.7,53.8 L143.7,53.6 L145.7,53.4 L147.8,53.2 L149.8,53.1 L151.8,53 L153.9,53 L155.9,52.9 L158,52.9 L160,52.9 L162,53 L164,53.1 L166.1,53.2 L168.1,53.3 L170.2,53.5 L172.2,53.7 L174.3,53.9 L176.4,54.1 L178.4,54.4 L180.4,54.7 L182.4,55.1 L184.4,55.5 L186.3,56 L188.2,56.5 L190,57 L192.1,57.7 L194.1,58.5 L196.1,59.3 L198.1,60.1 L200,61.1 L201.9,62.1 L203.7,63.1 L205.5,64.2 L207.2,65.3 L208.9,66.5 L210.5,67.7 L212,69 L213.6,70.4 L215.1,72 L216.6,73.5 L218,75.2 L219.4,76.9 L220.6,78.6 L221.8,80.4 L223,82.3 L224,84.1 L225.1,86.1 L226,88 L226.8,89.8 L227.6,91.7 L228.3,93.6 L228.9,95.6 L229.5,97.6 L230.1,99.7 L230.5,101.7 L231,103.8 L231.3,105.9 L231.6,107.9 L231.8,110 L232,112 L232.1,114 L232.1,116.1 L232,118.2 L231.9,120.4 L231.7,122.5 L231.5,124.6 L231.2,126.7 L230.9,128.7 L230.5,130.7 L230,132.6 L229.5,134.4 L229,136 L228.1,138.4 L227,140.7 L225.9,142.9 L224.6,145 L223.2,146.8 L221.8,148.3 L220.4,149.4 L219,150 L217.4,150.2 L215.6,149.8 L213.8,149 L212,147.7 L210.2,146.1 L208.5,144.2 L207,142 L206.2,140.5 L205.5,138.9 L204.8,137 L204.1,135 L203.5,132.9 L202.9,130.8 L202.3,128.5 L201.7,126.3 L201.1,124.1 L200.5,122 L199.8,119.9 L199,118 L198.2,116 L197.4,114 L196.7,112 L195.9,110 L195.2,108.1 L194.3,106.2 L193.4,104.4 L192.3,102.6 L191.1,101 L189.6,99.4 L188,98 L186.5,96.9 L184.9,95.9 L183.2,94.9 L181.3,94 L179.3,93.1 L177.3,92.3 L175.2,91.5 L173,90.8 L170.8,90.1 L168.6,89.5 L166.4,89 L164.3,88.6 L162.1,88.3 L160,88 L158,87.8 L156,87.8 L154,87.8 L151.9,87.9 L149.9,88.1 L147.8,88.3 L145.7,88.6 L143.6,88.9 L141.5,89.3 L139.5,89.7 L137.5,90.1 L135.5,90.6 L133.6,91.1 L131.8,91.5 L130,92 L127.9,92.7 L125.8,93.5 L123.8,94.4 L121.9,95.4 L120,96.5 L118.1,97.5 L116.3,98.5 L114.6,99.5 L112.9,100.3 L111.2,101.1 L109.6,101.6 L108,102 L105.6,102.3 L103.1,102.4 L100.7,102.2 L98.4,101.9 L96.3,101.3 L94.5,100.5 L93,99.4Z" fill="#b9b9b9" filter="url(#bl2)"/>
<path d="M67.8,98 L74.2,98.7 L79.9,101.4 L86.2,100 L92.5,99.7" fill="none" stroke="#2e2e2e" stroke-width="3.2" stroke-linecap="round" stroke-linejoin="round"/>
<line x1="79.9" y1="101.4" x2="79.9" y2="98.9" stroke="#363636" stroke-width="2" stroke-linecap="round"/>
<line x1="72.1" y1="90.1" x2="87" y2="88.6" stroke="#c8c8c8" stroke-width="4" stroke-linecap="round"/>
<path d="M67.1,82.9 L71.3,84.3 L75.7,84.3 L79.7,82.4 L83.3,85" fill="none" stroke="#2e2e2e" stroke-width="3.2" stroke-linecap="round" stroke-linejoin="round"/>
<line x1="75.7" y1="84.3" x2="79.9" y2="78.4" stroke="#363636" stroke-width="2" stroke-linecap="round"/>
<line x1="73.2" y1="76.2" x2="88.2" y2="77.5" stroke="#c8c8c8" stroke-width="4" stroke-linecap="round"/>
<path d="M70,70 L73.1,73.1 L77.3,74.4 L81.7,75.1 L85.7,76.9" fill="none" stroke="#2e2e2e" stroke-width="3.2" stroke-linecap="round" stroke-linejoin="round"/>
<line x1="77.6" y1="65.1" x2="91.7" y2="70.3" stroke="#c8c8c8" stroke-width="4" stroke-linecap="round"/>
<path d="M77,57 L82.8,57.6 L86.4,62.1 L88.7,67.4 L90.7,72.9" fill="none" stroke="#2e2e2e" stroke-width="3.2" stroke-linecap="round" stroke-linejoin="round"/>
<line x1="86.4" y1="62.1" x2="81.9" y2="68.1" stroke="#363636" stroke-width="2" stroke-linecap="round"/>
<line x1="85.7" y1="54.5" x2="97.7" y2="63.5" stroke="#c8c8c8" stroke-width="4" stroke-linecap="round"/>
<path d="M87.3,46.3 L92.1,49.2 L95.9,53.3 L98.4,58.2 L103,61.4" fill="none" stroke="#2e2e2e" stroke-width="3.2" stroke-linecap="round" stroke-linejoin="round"/>
<line x1="96.2" y1="46.1" x2="105.7" y2="57.8" stroke="#c8c8c8" stroke-width="4" stroke-linecap="round"/>
<path d="M99.3,39 L103,41.3 L104.8,45.3 L104.1,49.6 L105.9,53.5" fill="none" stroke="#2e2e2e" stroke-width="3.2" stroke-linecap="round" stroke-linejoin="round"/>
<line x1="104.8" y1="45.3" x2="104" y2="47.5" stroke="#363636" stroke-width="2" stroke-linecap="round"/>
<line x1="108" y1="40.8" x2="114.3" y2="54.4" stroke="#c8c8c8" stroke-width="4" stroke-linecap="round"/>
<path d="M113.8,33.9 L115,39.6 L113.8,45.4 L112,51 L114.8,56.2" fill="none" stroke="#2e2e2e" stroke-width="3.2" stroke-linecap="round" stroke-linejoin="round"/>
<line x1="113.8" y1="45.4" x2="110" y2="41.2" stroke="#363636" stroke-width="2" stroke-linecap="round"/>
<line x1="122.3" y1="37" x2="126.1" y2="51.5" stroke="#c8c8c8" stroke-width="4" stroke-linecap="round"/>
<path d="M126.9,31.2 L128.6,36.2 L131.9,40.3 L134.8,44.7 L138,48.9" fill="none" stroke="#2e2e2e" stroke-width="3.2" stroke-linecap="round" stroke-linejoin="round"/>
<line x1="131.9" y1="40.3" x2="128.4" y2="35.6" stroke="#363636" stroke-width="2" stroke-linecap="round"/>
<line x1="134.5" y1="35.4" x2="136.6" y2="50.3" stroke="#c8c8c8" stroke-width="4" stroke-linecap="round"/>
<path d="M139,30.1 L140.2,35.9 L140.5,41.8 L137.7,46.9 L137.4,52.9" fill="none" stroke="#2e2e2e" stroke-width="3.2" stroke-linecap="round" stroke-linejoin="round"/>
<line x1="140.5" y1="41.8" x2="134.2" y2="37.4" stroke="#363636" stroke-width="2" stroke-linecap="round"/>
<line x1="146.2" y1="34.7" x2="147.2" y2="49.7" stroke="#c8c8c8" stroke-width="4" stroke-linecap="round"/>
<path d="M152.9,29.5 L154.5,34.7 L151.7,39.3 L148.9,43.8 L148.7,49.2" fill="none" stroke="#2e2e2e" stroke-width="3.2" stroke-linecap="round" stroke-linejoin="round"/>
<line x1="151.7" y1="39.3" x2="158.2" y2="36.6" stroke="#363636" stroke-width="2" stroke-linecap="round"/>
<line x1="160.1" y1="34.5" x2="160.3" y2="49.5" stroke="#c8c8c8" stroke-width="4" stroke-linecap="round"/>
<path d="M167.2,29.5 L168,34.2 L170.2,38.3 L171.4,42.9 L170.5,47.5" fill="none" stroke="#2e2e2e" stroke-width="3.2" stroke-linecap="round" stroke-linejoin="round"/>
<line x1="170.2" y1="38.3" x2="174.1" y2="32.6" stroke="#363636" stroke-width="2" stroke-linecap="round"/>
<line x1="174.2" y1="34.7" x2="174" y2="49.7" stroke="#c8c8c8" stroke-width="4" stroke-linecap="round"/>
<path d="M179.1,29.9 L178.3,34.5 L178.6,39.1 L179.4,43.6 L178.4,48.1" fill="none" stroke="#2e2e2e" stroke-width="3.2" stroke-linecap="round" stroke-linejoin="round"/>
<line x1="178.6" y1="39.1" x2="185" y2="44" stroke="#363636" stroke-width="2" stroke-linecap="round"/>
<line x1="185.9" y1="35.5" x2="185" y2="50.4" stroke="#c8c8c8" stroke-width="4" stroke-linecap="round"/>
<path d="M192,31.2 L189.5,36.6 L186.1,41.3 L185.9,47.2 L186.1,53.1" fill="none" stroke="#2e2e2e" stroke-width="3.2" stroke-linecap="round" stroke-linejoin="round"/>
<line x1="198.1" y1="37.6" x2="195.6" y2="52.4" stroke="#c8c8c8" stroke-width="4" stroke-linecap="round"/>
<path d="M204.9,34.4 L202.8,38.8 L203.4,43.8 L200.2,47.6 L197.6,51.8" fill="none" stroke="#2e2e2e" stroke-width="3.2" stroke-linecap="round" stroke-linejoin="round"/>
<line x1="203.4" y1="43.8" x2="202.4" y2="46.6" stroke="#363636" stroke-width="2" stroke-linecap="round"/>
<line x1="210.5" y1="41.8" x2="206" y2="56.1" stroke="#c8c8c8" stroke-width="4" stroke-linecap="round"/>
<path d="M220.2,41.6 L217.6,45.4 L215.1,49.2 L211.2,51.8 L207.5,54.5" fill="none" stroke="#2e2e2e" stroke-width="3.2" stroke-linecap="round" stroke-linejoin="round"/>
<line x1="223.5" y1="50.1" x2="215.4" y2="62.7" stroke="#c8c8c8" stroke-width="4" stroke-linecap="round"/>
<path d="M233.2,52.2 L227.8,55.3 L221.7,56.7 L216.6,60.2 L214.7,66.2" fill="none" stroke="#2e2e2e" stroke-width="3.2" stroke-linecap="round" stroke-linejoin="round"/>
<line x1="221.7" y1="56.7" x2="223.6" y2="63.1" stroke="#363636" stroke-width="2" stroke-linecap="round"/>
<line x1="234.5" y1="61.1" x2="223.8" y2="71.6" stroke="#c8c8c8" stroke-width="4" stroke-linecap="round"/>
<path d="M242.9,64.3 L237.4,67.4 L231.6,70 L225.8,72.6 L219.9,74.9" fill="none" stroke="#2e2e2e" stroke-width="3.2" stroke-linecap="round" stroke-linejoin="round"/>
<line x1="231.6" y1="70" x2="224.7" y2="74.2" stroke="#363636" stroke-width="2" stroke-linecap="round"/>
<line x1="242.4" y1="73.3" x2="229.8" y2="81.5" stroke="#c8c8c8" stroke-width="4" stroke-linecap="round"/>
<path d="M250.3,79.1 L246,83.9 L239.9,86 L233.4,86.4 L227.4,88.9" fill="none" stroke="#2e2e2e" stroke-width="3.2" stroke-linecap="round" stroke-linejoin="round"/>
<line x1="247.9" y1="87.7" x2="233.8" y2="92.9" stroke="#c8c8c8" stroke-width="4" stroke-linecap="round"/>
<path d="M254.2,92.9 L249.4,92.3 L245.2,94.7 L240.4,94.8 L235.7,96" fill="none" stroke="#2e2e2e" stroke-width="3.2" stroke-linecap="round" stroke-linejoin="round"/>
<line x1="250.6" y1="101" x2="235.8" y2="103.9" stroke="#c8c8c8" stroke-width="4" stroke-linecap="round"/>
<path d="M256.1,105 L250.7,104.4 L245.4,103.3 L239.9,103.2 L234.5,102.9" fill="none" stroke="#2e2e2e" stroke-width="3.2" stroke-linecap="round" stroke-linejoin="round"/>
<line x1="245.4" y1="103.3" x2="240.4" y2="99.9" stroke="#363636" stroke-width="2" stroke-linecap="round"/>
<line x1="251.8" y1="112.7" x2="236.9" y2="114.4" stroke="#c8c8c8" stroke-width="4" stroke-linecap="round"/>
<path d="M257,119.1 L251.8,121.7 L246,121.9 L240.2,122 L235.3,119" fill="none" stroke="#2e2e2e" stroke-width="3.2" stroke-linecap="round" stroke-linejoin="round"/>
<line x1="246" y1="121.9" x2="242.1" y2="121.7" stroke="#363636" stroke-width="2" stroke-linecap="round"/>
<line x1="251.9" y1="126.2" x2="236.9" y2="126.4" stroke="#c8c8c8" stroke-width="4" stroke-linecap="round"/>
<path d="M256.1,135.5 L251.2,135 L246.7,132.9 L243,129.6 L238.1,128.6" fill="none" stroke="#2e2e2e" stroke-width="3.2" stroke-linecap="round" stroke-linejoin="round"/>
<line x1="246.7" y1="132.9" x2="240.9" y2="132.5" stroke="#363636" stroke-width="2" stroke-linecap="round"/>
<line x1="250" y1="141.4" x2="235.2" y2="139.4" stroke="#c8c8c8" stroke-width="4" stroke-linecap="round"/>
<path d="M252.7,149.4 L248.9,145.7 L245.7,141.3 L240.6,139.6 L235.2,139.1" fill="none" stroke="#2e2e2e" stroke-width="3.2" stroke-linecap="round" stroke-linejoin="round"/>
<line x1="245.7" y1="141.3" x2="251.9" y2="137.3" stroke="#363636" stroke-width="2" stroke-linecap="round"/>
<line x1="244.8" y1="154" x2="230.9" y2="148.4" stroke="#c8c8c8" stroke-width="4" stroke-linecap="round"/>
<path d="M243.8,163.2 L241.5,159.3 L237.5,157.3 L233.8,154.9 L230.9,151.5" fill="none" stroke="#2e2e2e" stroke-width="3.2" stroke-linecap="round" stroke-linejoin="round"/>
<line x1="237.5" y1="157.3" x2="234.4" y2="151.9" stroke="#363636" stroke-width="2" stroke-linecap="round"/>
<line x1="234.7" y1="164.8" x2="223.7" y2="154.6" stroke="#c8c8c8" stroke-width="4" stroke-linecap="round"/>
<path d="M68,100 L68,99.4 L67.9,98.8 L67.8,98 L67.7,97.1 L67.6,96.1 L67.5,95.1 L67.4,94 L67.3,92.9 L67.2,91.7 L67.1,90.6 L67.1,89.4 L67,88.2 L67,87.1 L66.9,86 L67,85 L67,84 L67.1,82.9 L67.2,81.9 L67.3,80.8 L67.4,79.8 L67.6,78.8 L67.8,77.8 L68,76.8 L68.2,75.8 L68.5,74.8 L68.7,73.9 L69,72.9 L69.3,71.9 L69.7,71 L70,70 L70.4,69 L70.7,68.1 L71.1,67.1 L71.6,66.2 L72,65.2 L72.5,64.3 L72.9,63.4 L73.4,62.4 L74,61.5 L74.5,60.6 L75.1,59.7 L75.7,58.8 L76.3,57.9 L77,57 L77.6,56.2 L78.2,55.4 L78.9,54.6 L79.6,53.8 L80.3,53 L81,52.3 L81.7,51.5 L82.5,50.7 L83.3,49.9 L84.1,49.2 L84.9,48.4 L85.7,47.7 L86.5,47 L87.3,46.3 L88.2,45.6 L89,45 L89.8,44.4 L90.6,43.9 L91.4,43.3 L92.3,42.8 L93.1,42.3 L94,41.8 L94.8,41.3 L95.7,40.8 L96.6,40.3 L97.5,39.9 L98.4,39.4 L99.3,39 L100.2,38.6 L101.1,38.2 L102.1,37.8 L103,37.4 L104,37 L104.9,36.6 L105.9,36.3 L106.8,36 L107.8,35.6 L108.8,35.3 L109.8,35 L110.8,34.7 L111.8,34.4 L112.8,34.1 L113.8,33.9 L114.9,33.6 L115.9,33.3 L116.9,33.1 L117.9,32.9 L119,32.6 L120,32.4 L121,32.2 L122,32 L123,31.8 L124,31.6 L125,31.5 L126,31.3 L126.9,31.2 L127.9,31.1 L128.9,30.9 L129.9,30.8 L130.9,30.7 L131.9,30.6 L132.9,30.5 L133.9,30.4 L134.9,30.4 L135.9,30.3 L136.9,30.2 L137.9,30.1 L139,30.1 L140,30 L141,29.9 L141.9,29.9 L142.9,29.8 L143.9,29.8 L144.9,29.7 L145.9,29.7 L146.9,29.7 L147.9,29.6 L148.9,29.6 L149.9,29.6 L150.9,29.6 L151.9,29.6 L152.9,29.5 L153.9,29.5 L155,29.5 L156,29.5 L157,29.5 L158,29.5 L159,29.5 L160,29.5 L161,29.5 L162,29.5 L163,29.5 L164.1,29.5 L165.1,29.5 L166.1,29.5 L167.2,29.5 L168.2,29.6 L169.2,29.6 L170.2,29.6 L171.3,29.6 L172.3,29.6 L173.3,29.7 L174.3,29.7 L175.3,29.7 L176.3,29.8 L177.2,29.8 L178.2,29.9 L179.1,29.9 L180,30 L181.1,30.1 L182.2,30.2 L183.2,30.2 L184.2,30.3 L185.2,30.4 L186.2,30.5 L187.2,30.6 L188.1,30.7 L189.1,30.8 L190,30.9 L191,31 L192,31.2 L192.9,31.4 L193.9,31.5 L195,31.8 L196,32 L197,32.2 L197.9,32.5 L198.9,32.7 L199.9,32.9 L200.9,33.2 L201.9,33.5 L202.9,33.8 L203.9,34.1 L204.9,34.4 L206,34.7 L207,35 L208,35.4 L209,35.8 L210,36.2 L211,36.6 L212,37 L213,37.5 L214,38 L214.9,38.5 L215.8,38.9 L216.6,39.4 L217.5,40 L218.4,40.5 L219.3,41 L220.2,41.6 L221.1,42.2 L221.9,42.8 L222.8,43.4 L223.7,44 L224.5,44.6 L225.4,45.3 L226.2,45.9 L227.1,46.6 L227.9,47.2 L228.7,47.9 L229.5,48.6 L230.2,49.3 L231,50 L231.7,50.7 L232.5,51.4 L233.2,52.2 L233.9,52.9 L234.6,53.7 L235.4,54.4 L236,55.2 L236.7,56 L237.4,56.8 L238.1,57.6 L238.7,58.4 L239.4,59.3 L240,60.1 L240.6,60.9 L241.2,61.8 L241.8,62.6 L242.4,63.5 L242.9,64.3 L243.5,65.2 L244,66 L244.5,66.9 L245.1,67.8 L245.6,68.7 L246.1,69.6 L246.6,70.5 L247,71.5 L247.5,72.4 L247.9,73.3 L248.4,74.3 L248.8,75.2 L249.2,76.2 L249.6,77.1 L249.9,78.1 L250.3,79.1 L250.7,80 L251,81 L251.4,82 L251.7,83 L252,84 L252.3,85 L252.6,85.9 L252.8,86.9 L253.1,87.9 L253.4,88.9 L253.6,89.9 L253.8,90.9 L254,91.9 L254.2,92.9 L254.4,93.9 L254.6,94.9 L254.8,95.9 L255,96.9 L255.1,97.9 L255.3,99 L255.5,100 L255.6,101 L255.7,102 L255.9,103 L256,104 L256.1,105 L256.2,106 L256.3,107 L256.4,108 L256.5,109 L256.6,110.1 L256.7,111.1 L256.8,112.1 L256.8,113.1 L256.9,114.1 L256.9,115.1 L257,116.1 L257,117.1 L257,118.1 L257,119.1 L257,120.1 L257,121.1 L257,122.1 L257,123 L257,124 L257,125.1 L256.9,126.1 L256.9,127.2 L256.8,128.2 L256.7,129.3 L256.7,130.3 L256.6,131.4 L256.5,132.4 L256.4,133.4 L256.3,134.5 L256.1,135.5 L256,136.4 L255.9,137.4 L255.7,138.4 L255.5,139.3 L255.4,140.2 L255.2,141.1 L255,142 L254.7,143.2 L254.4,144.3 L254.1,145.4 L253.8,146.4 L253.5,147.5 L253.1,148.4 L252.7,149.4 L252.4,150.4 L251.9,151.3 L251.5,152.2 L251,153.2 L250.5,154.1 L250,155 L249.5,155.9 L248.9,156.7 L248.4,157.6 L247.7,158.4 L247.1,159.2 L246.5,160.1 L245.8,160.9 L245.1,161.7 L244.5,162.4 L243.8,163.2 L243.1,163.9 L242.4,164.7 L241.7,165.3 L241,166 L240.2,166.7 L239.3,167.5 L238.3,168.2 L237.4,168.9 L236.4,169.6 L235.4,170.2 L234.5,170.8 L233.6,171.3 L232.8,171.8 L232.1,172.3 L231.5,172.7 L231,173" fill="none" stroke="#3a3a3a" stroke-width="1.5"/>
<path d="M100,92 L100.2,90.7 L100.3,89 L100.4,86.9 L100.7,84.6 L101.2,82.3 L101.9,80 L103,78 L104.1,76.5 L105.3,75 L106.7,73.6 L108.2,72.1 L109.9,70.7 L111.7,69.3 L113.6,68.1 L115.7,67 L118,66 L119.7,65.4 L121.5,64.9 L123.4,64.4 L125.3,64 L127.4,63.7 L129.5,63.3 L131.6,63.1 L133.9,62.8 L136.1,62.6 L138.3,62.4 L140.6,62.3 L142.8,62.1 L145,62 L146.9,61.9 L148.9,61.8 L150.9,61.8 L153,61.7 L155,61.7 L157.1,61.7 L159.2,61.7 L161.3,61.8 L163.4,61.9 L165.4,62 L167.4,62.1 L169.4,62.3 L171.3,62.5 L173.2,62.7 L175,63 L177.2,63.4 L179.3,63.8 L181.5,64.3 L183.5,64.9 L185.5,65.5 L187.5,66.1 L189.4,66.8 L191.3,67.6 L193,68.3 L194.8,69.2 L196.4,70.1 L198,71 L199.8,72.2 L201.6,73.5 L203.2,75 L204.8,76.4 L206.3,78 L207.7,79.6 L209,81.2 L210.1,82.8 L211.1,84.4 L212,86 L212.8,88.1 L213.4,90.3 L213.7,92.6 L213.9,94.9 L213.9,97.1 L213.9,99.1 L213.9,100.8 L214,102" fill="none" stroke="#444" stroke-width="2"/>
<path d="M117,101 L116.8,100.1 L116.6,98.8 L116.2,97.3 L115.9,95.6 L115.6,93.8 L115.5,92.1 L115.6,90.5 L116,89 L116.6,87.8 L117.2,86.6 L118,85.4 L118.9,84.3 L120,83.2 L121.2,82.2 L122.6,81.2 L124.2,80.3 L126,79.5 L127.1,79.1 L128.4,78.7 L129.7,78.3 L131.1,78 L132.6,77.6 L134.2,77.3 L135.7,77 L137.4,76.8 L139,76.5 L140.7,76.3 L142.3,76.1 L144,75.9 L145.5,75.8 L147.1,75.7 L148.6,75.6 L150,75.5 L151.7,75.4 L153.4,75.4 L155,75.4 L156.6,75.5 L158.3,75.6 L159.8,75.7 L161.4,75.9 L162.9,76.1 L164.4,76.3 L165.9,76.5 L167.3,76.8 L168.7,77.1 L170,77.5 L171.7,78 L173.3,78.6 L174.8,79.3 L176.3,80 L177.8,80.8 L179.1,81.6 L180.4,82.4 L181.7,83.3 L182.9,84.1 L184,85 L185.3,86.1 L186.6,87.4 L187.7,88.7 L188.8,90 L189.8,91.3 L190.6,92.6 L191.4,93.8 L192,95 L192.7,96.9 L193,98.7 L193,100.5 L193,101.9 L193,103" fill="none" stroke="#e6e6e6" stroke-width="6.5" stroke-linecap="round"/>
<circle cx="192" cy="103" r="5.5" fill="#dedede"/>
<path d="M122,100 L122.3,98.5 L122.9,96.5 L123.9,94.2 L125.2,91.9 L126.9,89.8 L129,88 L130.5,87.1 L132.3,86.3 L134.2,85.5 L136.3,84.8 L138.6,84.1 L140.9,83.5 L143.2,83 L145.5,82.6 L147.8,82.2 L150,82 L152,81.9 L154.1,81.8 L156.2,81.8 L158.4,81.9 L160.6,82.1 L162.7,82.3 L164.8,82.6 L166.8,82.9 L168.7,83.2 L170.4,83.6 L172,84 L174.6,84.9 L176.7,85.9 L178.6,87.1 L180.3,88.3 L181.7,89.7 L183,91 L184.8,93.4 L186.1,96.1 L186.9,98.5 L187,100 L185.7,100.2 L183.1,99.2 L180,98 L178.4,97.4 L176.6,96.8 L174.7,96.1 L172.6,95.4 L170.4,94.7 L168,94 L166.3,93.5 L164.4,93 L162.4,92.4 L160.3,91.8 L158.2,91.2 L156.1,90.7 L154,90.4 L151.9,90.1 L150,90 L147.8,90.1 L145.6,90.3 L143.5,90.7 L141.3,91.2 L139.3,91.9 L137.3,92.5 L135.6,93.3 L134,94 L132,95.5 L130.5,97.4 L129.2,99.3 L128.1,101 L127,102 L123.6,102.2Z" fill="#1a1a1a" filter="url(#bl1)"/>
<path d="M138,96 L139.2,95.3 L140.7,94.7 L142.4,94.2 L144.4,93.8 L146.6,93.5 L148.8,93.3 L151.1,93.1 L153.5,93 L155.8,93 L158,93 L160,93 L162.3,93.1 L164.7,93.1 L167.2,93.3 L169.7,93.5 L172.1,93.8 L174.4,94.1 L176.6,94.6 L178.4,95.3 L179.9,96 L181,97 L181.7,98.5 L181.7,100.3 L181.3,102.4 L180.5,104.6 L179.5,107 L178.5,109.4 L177.6,111.7 L177,114 L176.6,115.9 L176.2,117.8 L175.8,119.7 L175.4,121.6 L175,123.5 L174.7,125.5 L174.4,127.6 L174.2,129.7 L174,132 L173.9,133.8 L173.9,135.7 L174,137.8 L174.1,139.9 L174.2,142 L174.3,144.1 L174.5,146.3 L174.6,148.4 L174.7,150.4 L174.8,152.4 L174.9,154.3 L175,156 L175.1,158.4 L175.3,160.8 L175.5,162.9 L175.7,165 L175.8,166.9 L175.7,168.8 L175.5,170.4 L175,172 L173.9,174 L172.3,175.9 L170.4,177.6 L168.5,179 L166.6,179.8 L165,180 L163.7,179.5 L162.5,178.4 L161.4,176.9 L160.3,174.9 L159.2,172.6 L158,170 L157.3,168.5 L156.6,166.7 L155.8,164.9 L155,162.9 L154.3,160.9 L153.5,158.7 L152.7,156.6 L152,154.4 L151.3,152.2 L150.6,150.1 L150,148 L149.4,145.9 L148.9,143.8 L148.5,141.6 L148,139.4 L147.6,137.2 L147.2,135 L146.8,132.8 L146.4,130.7 L146,128.7 L145.5,126.8 L145,125 L144.2,122.7 L143.2,120.7 L142.2,118.7 L141.2,116.9 L140.2,115.2 L139.3,113.5 L138.6,111.8 L138,110 L137.4,107.9 L136.8,105.6 L136.4,103.4 L136.1,101.2 L136.2,99.2 L136.8,97.4Z" fill="#a9a9a9" filter="url(#bl1)"/>
<path d="M123,104 L123.2,101.9 L123.9,99.9 L125,98 L126.4,96.4 L128,95 L129.7,94 L131.7,93.1 L133.9,92.4 L136.1,92 L138.2,91.8 L140,92 L141.8,92.8 L143.5,94.1 L144.9,95.8 L146.1,97.8 L147,100 L147.4,101.7 L147.7,103.8 L147.9,105.9 L147.9,108.2 L147.7,110.3 L147.4,112.3 L147,114 L145.9,116.5 L144.2,118.7 L142.3,120.3 L140,121 L138.2,120.9 L136.1,120.5 L133.9,119.7 L131.7,118.6 L129.7,117.4 L128,116 L126.6,114.4 L125.4,112.4 L124.4,110.2 L123.7,108 L123.2,105.9Z" fill="#7e7e7e" filter="url(#bl1)"/>
<path d="M176,124 L184,122 L180,142 L174,150Z" fill="#222"/>
<clipPath id="cbclip"><path d="M176,128 L177,126.9 L178.2,126 L179.6,125.3 L181.1,124.7 L182.7,124.2 L184.4,124 L186.3,123.8 L188.1,123.8 L190,124 L191.2,124.2 L192.6,124.5 L193.9,124.8 L195.3,125.2 L196.8,125.7 L198.3,126.3 L199.8,126.9 L201.3,127.5 L202.8,128.2 L204.3,128.9 L205.7,129.7 L207.2,130.4 L208.6,131.2 L210,132 L211.3,132.8 L212.6,133.6 L213.9,134.4 L215.2,135.3 L216.4,136.1 L217.7,137.1 L219,138 L220.2,139 L221.5,140 L222.7,141 L223.8,142 L224.9,143 L226,144 L227,145 L228,146 L229.2,147.3 L230.3,148.6 L231.4,149.9 L232.5,151.3 L233.5,152.6 L234.5,154 L235.4,155.4 L236.1,156.7 L236.8,158.1 L237.4,159.4 L237.8,160.7 L238,162 L238.1,163.5 L238,165 L237.7,166.5 L237.3,168 L236.7,169.4 L236,170.9 L235.1,172.2 L234.2,173.6 L233.1,174.8 L232,176 L231,176.9 L229.8,177.9 L228.6,178.8 L227.2,179.6 L225.8,180.5 L224.3,181.2 L222.8,182 L221.2,182.7 L219.6,183.4 L218.1,184 L216.5,184.5 L215,185 L213.5,185.4 L211.9,185.8 L210.3,186.2 L208.6,186.5 L207,186.8 L205.3,187 L203.7,187.2 L202,187.3 L200.4,187.3 L198.9,187.3 L197.4,187.2 L196,187 L194.4,186.7 L192.8,186.3 L191.2,185.8 L189.7,185.2 L188.2,184.6 L186.9,183.8 L185.5,183 L184.3,182.1 L183.1,181.1 L182,180 L181.1,179 L180.2,177.8 L179.4,176.6 L178.7,175.3 L178,174 L177.4,172.6 L176.8,171.2 L176.3,169.7 L175.8,168.1 L175.4,166.6 L175,165 L174.7,163.6 L174.5,162.2 L174.3,160.7 L174.2,159.1 L174,157.5 L174,155.9 L173.9,154.3 L173.9,152.7 L173.9,151.1 L173.9,149.5 L173.9,148 L174,146.5 L174,145 L174,143.3 L174,141.6 L174,139.8 L174,138.1 L174,136.3 L174.1,134.7 L174.3,133.1 L174.5,131.6 L174.9,130.3 L175.4,129Z"/></clipPath>
<path d="M176,128 L177,126.9 L178.2,126 L179.6,125.3 L181.1,124.7 L182.7,124.2 L184.4,124 L186.3,123.8 L188.1,123.8 L190,124 L191.2,124.2 L192.6,124.5 L193.9,124.8 L195.3,125.2 L196.8,125.7 L198.3,126.3 L199.8,126.9 L201.3,127.5 L202.8,128.2 L204.3,128.9 L205.7,129.7 L207.2,130.4 L208.6,131.2 L210,132 L211.3,132.8 L212.6,133.6 L213.9,134.4 L215.2,135.3 L216.4,136.1 L217.7,137.1 L219,138 L220.2,139 L221.5,140 L222.7,141 L223.8,142 L224.9,143 L226,144 L227,145 L228,146 L229.2,147.3 L230.3,148.6 L231.4,149.9 L232.5,151.3 L233.5,152.6 L234.5,154 L235.4,155.4 L236.1,156.7 L236.8,158.1 L237.4,159.4 L237.8,160.7 L238,162 L238.1,163.5 L238,165 L237.7,166.5 L237.3,168 L236.7,169.4 L236,170.9 L235.1,172.2 L234.2,173.6 L233.1,174.8 L232,176 L231,176.9 L229.8,177.9 L228.6,178.8 L227.2,179.6 L225.8,180.5 L224.3,181.2 L222.8,182 L221.2,182.7 L219.6,183.4 L218.1,184 L216.5,184.5 L215,185 L213.5,185.4 L211.9,185.8 L210.3,186.2 L208.6,186.5 L207,186.8 L205.3,187 L203.7,187.2 L202,187.3 L200.4,187.3 L198.9,187.3 L197.4,187.2 L196,187 L194.4,186.7 L192.8,186.3 L191.2,185.8 L189.7,185.2 L188.2,184.6 L186.9,183.8 L185.5,183 L184.3,182.1 L183.1,181.1 L182,180 L181.1,179 L180.2,177.8 L179.4,176.6 L178.7,175.3 L178,174 L177.4,172.6 L176.8,171.2 L176.3,169.7 L175.8,168.1 L175.4,166.6 L175,165 L174.7,163.6 L174.5,162.2 L174.3,160.7 L174.2,159.1 L174,157.5 L174,155.9 L173.9,154.3 L173.9,152.7 L173.9,151.1 L173.9,149.5 L173.9,148 L174,146.5 L174,145 L174,143.3 L174,141.6 L174,139.8 L174,138.1 L174,136.3 L174.1,134.7 L174.3,133.1 L174.5,131.6 L174.9,130.3 L175.4,129Z" fill="#8c8c8c"/>
<g clip-path="url(#cbclip)">
<line x1="195.5" y1="142" x2="233.1" y2="115.6" stroke="#4e4e4e" stroke-width="1.5"/>
<line x1="196.5" y1="143.8" x2="237.7" y2="123.2" stroke="#4e4e4e" stroke-width="1.5"/>
<line x1="197.3" y1="145.7" x2="241.1" y2="131.5" stroke="#4e4e4e" stroke-width="1.5"/>
<line x1="197.8" y1="147.7" x2="243.2" y2="140.1" stroke="#4e4e4e" stroke-width="1.5"/>
<line x1="198" y1="149.8" x2="244" y2="149" stroke="#4e4e4e" stroke-width="1.5"/>
<line x1="197.9" y1="151.8" x2="243.5" y2="157.8" stroke="#4e4e4e" stroke-width="1.5"/>
<line x1="197.5" y1="153.9" x2="241.7" y2="166.5" stroke="#4e4e4e" stroke-width="1.5"/>
<line x1="196.7" y1="155.8" x2="238.6" y2="174.9" stroke="#4e4e4e" stroke-width="1.5"/>
<line x1="195.7" y1="157.6" x2="234.3" y2="182.7" stroke="#4e4e4e" stroke-width="1.5"/>
<line x1="194.5" y1="159.3" x2="228.9" y2="189.8" stroke="#4e4e4e" stroke-width="1.5"/>
<line x1="193" y1="160.7" x2="222.6" y2="196" stroke="#4e4e4e" stroke-width="1.5"/>
<line x1="191.3" y1="161.9" x2="215.3" y2="201.2" stroke="#4e4e4e" stroke-width="1.5"/>
<line x1="189.5" y1="162.9" x2="207.4" y2="205.2" stroke="#4e4e4e" stroke-width="1.5"/>
<line x1="187.5" y1="163.6" x2="199" y2="208.1" stroke="#4e4e4e" stroke-width="1.5"/>
<line x1="185.5" y1="163.9" x2="190.3" y2="209.7" stroke="#4e4e4e" stroke-width="1.5"/>
<line x1="183.4" y1="164" x2="181.4" y2="209.9" stroke="#4e4e4e" stroke-width="1.5"/>
<line x1="181.3" y1="163.7" x2="172.6" y2="208.9" stroke="#4e4e4e" stroke-width="1.5"/>
<line x1="179.3" y1="163.2" x2="164" y2="206.6" stroke="#4e4e4e" stroke-width="1.5"/>
<line x1="177.4" y1="162.4" x2="155.8" y2="203" stroke="#4e4e4e" stroke-width="1.5"/>
<line x1="175.7" y1="161.3" x2="148.3" y2="198.2" stroke="#4e4e4e" stroke-width="1.5"/>
<line x1="174.1" y1="159.9" x2="141.6" y2="192.4" stroke="#4e4e4e" stroke-width="1.5"/>
<line x1="172.7" y1="158.3" x2="135.8" y2="185.7" stroke="#4e4e4e" stroke-width="1.5"/>
<line x1="187.5" y1="148" x2="210" y2="135" stroke="#b4b4b4" stroke-width="2"/>
<line x1="187.9" y1="149.1" x2="213.2" y2="143.3" stroke="#b4b4b4" stroke-width="2"/>
<line x1="188" y1="150.3" x2="213.9" y2="152.1" stroke="#b4b4b4" stroke-width="2"/>
<line x1="187.7" y1="151.4" x2="212" y2="160.8" stroke="#b4b4b4" stroke-width="2"/>
<line x1="187.2" y1="152.5" x2="207.6" y2="168.5" stroke="#b4b4b4" stroke-width="2"/>
<line x1="186.3" y1="153.3" x2="201.2" y2="174.6" stroke="#b4b4b4" stroke-width="2"/>
<line x1="185.2" y1="153.8" x2="193.3" y2="178.5" stroke="#b4b4b4" stroke-width="2"/>
<line x1="184.1" y1="154" x2="184.5" y2="180" stroke="#b4b4b4" stroke-width="2"/>
<line x1="182.9" y1="153.8" x2="175.7" y2="178.8" stroke="#b4b4b4" stroke-width="2"/>
<line x1="181.8" y1="153.4" x2="167.7" y2="175.2" stroke="#b4b4b4" stroke-width="2"/>
<line x1="180.9" y1="152.6" x2="161" y2="169.3" stroke="#b4b4b4" stroke-width="2"/>
<circle cx="184" cy="150" r="4" fill="#a8a8a8"/>
</g>
<path d="M176,118 L205,134 L230,152" fill="none" stroke="#2a2a2a" stroke-width="2.2"/>
<path d="M178,184 L179.2,184.4 L180.7,184.9 L182.4,185.5 L184.4,186.2 L186.5,186.9 L188.8,187.6 L191.1,188.3 L193.4,188.9 L195.7,189.4 L197.9,189.8 L200,190 L202,190 L204,190 L206.1,189.8 L208.1,189.6 L210.1,189.3 L212.1,188.9 L214.1,188.5 L216.1,187.9 L218.1,187.3 L220.1,186.7 L222,186 L224,185.2 L226,184.1 L228.1,183 L230.3,181.7 L232.4,180.4 L234.4,179.1 L236.3,177.8 L238,176.6 L239.6,175.6 L240.9,174.7 L242,174" fill="none" stroke="#1e1e1e" stroke-width="4"/>
<path d="M118,124 L119.4,122.9 L121.5,122.2 L123.9,121.9 L126,122 L127.9,122.5 L129.8,123.4 L131.6,124.6 L133,126 L134.2,127.6 L135.1,129.5 L135.8,131.6 L136,134 L135.9,135.9 L135.5,138.1 L134.9,140.4 L134.3,142.6 L133.6,144.5 L133,146 L131,148.4 L129,148 L128.4,146.7 L127.9,144.7 L127.4,142.3 L126.8,139.9 L126,138 L124.4,136.3 L122.4,134.9 L120.4,133.5 L119,132 L118.1,130 L117.6,127.8 L117.5,125.6Z" fill="#f2f2f2" filter="url(#bl1)"/>
<circle cx="135" cy="118" r="2.2" fill="#e8e8e8"/><circle cx="143" cy="121" r="1.8" fill="#e0e0e0"/>
<path d="M133,140 Q140,160 152,172" fill="none" stroke="#111" stroke-width="3"/>
<circle cx="166" cy="166" r="3" fill="none" stroke="#ddd" stroke-width="1.3"/>
</g>
<rect x="134" y="41.7" width="24.5" height="24.5" fill="none" stroke="#e3262b" stroke-width="1.3"/>
<text x="6" y="37.6" font-size="44" font-weight="bold" fill="#fff" transform="translate(0,-2.8) scale(1,1.075)">a</text>
<polyline points="8.2,287.6 8.8,287.8 9.2,285.6 9.8,286.4 10.2,285.4 10.8,286.9 11.2,291.3 11.8,288.7 12.2,286.4 12.8,289.3 13.2,290 13.8,287.8 14.2,285.3 14.8,282.1 15.2,281.4 15.8,280.6 16.2,277.2 16.8,274.8 17.2,276.5 17.8,281.1 18.2,283.5 18.8,283.7 19.2,282.4 19.8,280.4 20.2,282.9 20.8,287 21.2,286.5 21.8,282.7 22.2,278.8 22.8,276.6 23.2,276.1 23.8,274.3 24.2,278.3 24.8,282.6 25.2,280.7 25.8,284.5 26.2,286.9 26.8,285.3 27.2,286.9 27.8,289.4 28.2,289.1 28.8,285 29.2,281.6 29.8,280.3 30.2,280.5 30.8,281.8 31.2,284.1 31.8,284.1 32.2,278.6 32.8,276.5 33.2,276.3 33.8,279.5 34.2,283.8 34.8,279.6 35.2,279 35.8,285.5 36.2,286.4 36.8,282.9 37.2,284 37.8,284.1 38.2,282.1 38.8,283.5 39.2,284.1 39.8,282.1 40.2,283.4 40.8,289.2 41.2,287.8 41.8,282.5 42.2,287.7 42.8,290 43.2,285.5 43.8,284.4 44.2,286.7 44.8,290.2 45.2,288.1 45.8,284.2 46.2,283.5 46.8,283.6 47.2,282.6 47.8,285.2 48.2,287.3 48.8,275.9 49.2,269.3 49.8,278.2 50.2,284.9 50.8,285.7 51.2,284.7 51.8,284.7 52.2,287.5 52.8,288.1 53.2,284.5 53.8,286.3 54.2,291.9 54.8,288.4 55.2,286.5 55.8,292.5 56.2,290.6 56.8,282.3 57.2,280.5 57.8,282.6 58.2,280.9 58.8,277.8 59.2,277.9 59.8,283 60.2,287.2 60.8,282.9 61.2,280.5 61.8,284.9 62.2,287.8 62.8,290 63.2,290.2 63.8,286.2 64.2,284.1 64.8,282.7 65.2,282.2 65.8,287.7 66.2,291.1 66.8,287.5 67.2,284 67.8,282.4 68.2,280.5 68.8,280.3 69.2,280.8 69.8,280.7 70.2,279.4 70.8,279.5 71.2,283.6 71.8,283.8 72.2,277.3 72.8,275.2 73.2,282.9 73.8,287.5 74.2,283.6 74.8,281.1 75.2,283.4 75.8,284.7 76.2,284.7 76.8,286.3 77.2,287.2 77.8,287.7 78.2,286.3 78.8,281.8 79.2,278.4 79.8,279.7 80.2,284.1 80.8,287.2 81.2,285.8 81.8,283.7 82.2,286.9 82.8,288.8 83.2,285.4 83.8,282.6 84.2,284.3 84.8,288 85.2,286.6 85.8,283.4 86.2,283.9 86.8,282.7 87.2,283.7 87.8,289.3 88.2,288.7 88.8,284.1 89.2,284.9 89.8,285.8 90.2,283.5 90.8,284.6 91.2,284 91.8,280.6 92.2,284.3 92.8,288.9 93.2,285.7 93.8,281.8 94.2,282.3 94.8,283.6 95.2,286.5 95.8,288.4 96.2,285.5 96.8,281.8 97.2,283.1 97.8,285.4 98.2,284.2 98.8,286 99.2,287.1 99.8,289 100.2,292.8 100.8,293 101.2,289 101.8,278 102.2,275.6 102.8,285.6 103.2,288.3 103.8,284.9 104.2,281.1 104.8,277.4 105.2,277.9 105.8,280 106.2,284 106.8,287.7 107.2,287.3 107.8,285.2 108.2,282.5 108.8,282.5 109.2,284.2 109.8,286.4 110.2,287.3 110.8,287.4 111.2,288.3 111.8,286.7 112.2,285.6 112.8,287 113.2,289.5 113.8,288.9 114.2,287.9 114.8,287.1 115.2,282.3 115.8,276.9 116.2,278.4 116.8,284.5 117.2,283.7 117.8,281.8 118.2,287.3 118.8,288.8 119.2,282.9 119.8,282.2 120.2,285 120.8,283.1 121.2,279.1 121.8,282 122.2,289.8 122.8,294.4 123.2,291.6 123.8,284.9 124.2,283.5 124.8,282.4 125.2,277.7 125.8,279 126.2,285.5 126.8,286.9 127.2,287 127.8,287.2 128.2,284.6 128.8,285.1 129.2,285.8 129.8,285.6 130.2,286.9 130.8,286.9 131.2,286.7 131.8,289.7 132.2,291.5 132.8,289 133.2,288.9 133.8,288.2 134.2,286.2 134.8,285.7 135.2,285.4 135.8,286.1 136.2,283.4 136.8,282.5 137.2,286.7 137.8,289.9 138.2,291 138.8,289.2 139.2,284.2 139.8,282.3 140.2,285.8 140.8,285.3 141.2,283.9 141.8,287 142.2,285.7 142.8,282.8 143.2,282.6 143.8,279.8 144.2,280.4 144.8,282.2 145.2,280.5 145.8,280.2 146.2,281.7 146.8,284 147.2,284.1 147.8,281.8 148.2,279.6 148.8,282.9 149.2,288.4 149.8,285 150.2,281.1 150.8,286.5 151.2,289 151.8,287.6 152.2,287.4 152.8,283.7 153.2,284.8 153.8,290.9 154.2,293.5 154.8,289.7 155.2,280.4 155.8,277.8 156.2,280.9 156.8,280.6 157.2,279.9 157.8,282.2 158.2,287.8 158.8,290.5 159.2,288.3 159.8,286.1 160.2,284.7 160.8,284.7 161.2,286.2 161.8,287.3 162.2,286.3 162.8,287.6 163.2,291.2 163.8,291.6 164.2,292.5 164.8,290.4 165.2,281.4 165.8,279.9 166.2,285.7 166.8,286 167.2,284.2 167.8,284.5 168.2,283 168.8,281 169.2,281.8 169.8,283.2 170.2,280.2 170.8,278.4 171.2,284.4 171.8,284.6 172.2,278.4 172.8,279.6 173.2,284.9 173.8,287.2 174.2,288.4 174.8,289.7 175.2,285.7 175.8,280.5 176.2,282.3 176.8,285.3 177.2,285.6 177.8,288.6 178.2,290.9 178.8,290.5 179.2,289.2 179.8,286.1 180.2,283.7 180.8,281.9 181.2,279.3 181.8,277.7 182.2,278.6 182.8,278 183.2,278.6 183.8,283.8 184.2,286.2 184.8,286.9 185.2,290.7 185.8,292.3 186.2,289.1 186.8,282.2 187.2,279.8 187.8,284.9 188.2,288.2 188.8,288.7 189.2,289.8 189.8,289.5 190.2,287.3 190.8,285.3 191.2,279.2 191.8,274.9 192.2,282.1 192.8,286.5 193.2,283.6 193.8,284.5 194.2,283.7 194.8,282.6 195.2,284.8 195.8,284.1 196.2,282.3 196.8,284.5 197.2,288.1 197.8,287.3 198.2,286.5 198.8,292.2 199.2,298.2 199.8,294.2 200.2,284.8 200.8,280.1 201.2,279.6 201.8,284.1 202.2,285.6 202.8,279.3 203.2,278 203.8,284 204.2,286.1 204.8,282.9 205.2,278.5 205.8,274.8 206.2,278.6 206.8,284.6 207.2,288.5 207.8,288.7 208.2,280 208.8,276.2 209.2,281.7 209.8,284.2 210.2,286.2 210.8,289 211.2,290.7 211.8,293.2 212.2,289.2 212.8,281.5 213.2,285.4 213.8,291 214.2,288.7 214.8,287.5 215.2,285.7 215.8,286.2 216.2,291.4 216.8,290.8 217.2,287.5 217.8,285.4 218.2,280.8 218.8,281.8 219.2,286.9 219.8,284.9 220.2,282.2 220.8,285.3 221.2,289.1 221.8,291.6 222.2,290 222.8,284.9 223.2,282.6 223.8,283.3 224.2,286.5 224.8,290.3 225.2,289.7 225.8,284 226.2,282.7 226.8,284.4 227.2,290.3 227.8,295 228.2,297.6 228.8,300.2 229.2,300 229.8,298.2 230.2,286.2 230.8,277.9 231.2,284.7 231.8,292.9 232.2,292.2 232.8,285.4 233.2,282.6 233.8,282.2 234.2,281.7 234.8,283 235.2,281.5 235.8,278.5 236.2,280.1 236.8,281.7 237.2,279.7 237.8,281.3 238.2,289.4 238.8,292.5 239.2,286.5 239.8,283.9 240.2,285.6 240.8,283.7 241.2,284.3 241.8,286.6 242.2,282.6 242.8,279.6 243.2,280 243.8,280.5 244.2,283.7 244.8,289 245.2,292 245.8,289.8 246.2,284.1 246.8,280.7 247.2,281.1 247.8,281.5 248.2,284.7 248.8,288.5 249.2,287 249.8,283.4 250.2,282 250.8,283.8 251.2,283.8 251.8,281.2 252.2,283.2 252.8,284.3 253.2,280.1 253.8,278.7 254.2,282.9 254.8,289.3 255.2,290.6 255.8,288.5 256.2,287.7 256.8,287.1 257.2,283.8 257.8,280.5 258.2,284.2 258.8,285 259.2,282.6 259.8,286.5 260.2,286.1 260.8,280.2 261.2,280.3 261.8,282.3 262.2,283.4 262.8,283.3 263.2,280.9 263.8,282.5 264.2,286.6 264.8,287.9 265.2,286 265.8,285.4 266.2,283.6 266.8,281 267.2,284.3 267.8,283.4 268.2,279.5 268.8,278.3 269.2,274.6 269.8,274.4 270.2,279.1 270.8,283 271.2,287.4" fill="none" stroke="#aaa" stroke-width="0.8"/>
<polyline points="8.2,434.1 8.8,434.2 9.2,432.5 9.8,433.1 10.2,432.3 10.8,433.5 11.2,437 11.8,434.9 12.2,433 12.8,435.4 13.2,436 13.8,434.2 14.2,432.2 14.8,429.6 15.2,429 15.8,428.4 16.2,425.7 16.8,423.8 17.2,425.1 17.8,428.8 18.2,430.7 18.8,430.9 19.2,429.8 19.8,428.3 20.2,430.2 20.8,433.4 21.2,433.1 21.8,430.1 22.2,426.9 22.8,425.2 23.2,424.8 23.8,423.3 24.2,426.5 24.8,429.9 25.2,428.4 25.8,431.4 26.2,433.4 26.8,432 27.2,433.3 27.8,435.3 28.2,435 28.8,431.8 29.2,429 29.8,428 30.2,428.2 30.8,429.2 31.2,431 31.8,431 32.2,426.6 32.8,424.8 33.2,424.7 33.8,427.2 34.2,430.7 34.8,427.2 35.2,426.8 35.8,432 36.2,432.6 36.8,429.8 37.2,430.6 37.8,430.6 38.2,429 38.8,430.1 39.2,430.4 39.8,428.7 40.2,429.6 40.8,434 41.2,432.5 41.8,427.9 42.2,431.5 42.8,432.7 43.2,428.3 43.8,426.6 44.2,427.5 44.8,429.5 45.2,427.2 45.8,423.7 46.2,423.1 46.8,423.5 47.2,423.3 47.8,426.1 48.2,428.6 48.8,420.2 49.2,415.6 49.8,423.2 50.2,429 50.8,429.8 51.2,429.2 51.8,429.2 52.2,431.3 52.8,431.6 53.2,428.3 53.8,429.1 54.2,432.7 54.8,428.5 55.2,425 55.8,427 56.2,421.7 56.8,410.4 57.2,403.6 57.8,399.7 58.2,393.3 58.8,387.4 59.2,386.8 59.8,393.1 60.2,400.8 60.8,402.9 61.2,406.4 61.8,415 62.2,421.4 62.8,426.4 63.2,428.9 63.8,427.3 64.2,426.8 64.8,426.3 65.2,426.4 65.8,431 66.2,433.9 66.8,431.1 67.2,428.2 67.8,426.7 68.2,424.9 68.8,424.1 69.2,423.8 69.8,422.6 70.2,420.1 70.8,418.5 71.2,419.8 71.8,418.1 72.2,411.1 72.8,408.3 73.2,414.2 73.8,418.6 74.2,416.9 74.8,416.8 75.2,420.5 75.8,423.5 76.2,425.1 76.8,427.7 77.2,429.5 77.8,430.6 78.2,430 78.8,426.8 79.2,424.5 79.8,425.8 80.2,429.6 80.8,432.3 81.2,431.1 81.8,429 82.2,430.5 82.8,430.7 83.2,426.3 83.8,422 84.2,421.1 84.8,421.7 85.2,418.3 85.8,414 86.2,413.6 86.8,413.2 87.2,415.7 87.8,422.4 88.2,424.5 88.8,423.3 89.2,426.3 89.8,429.2 90.2,429.4 90.8,432.2 91.2,433.3 91.8,431.7 92.2,434.8 92.8,437.7 93.2,434 93.8,429.6 94.2,428.9 94.8,428.9 95.2,430.5 95.8,431.2 96.2,428.1 96.8,424.4 97.2,424.7 97.8,425.6 98.2,423.9 98.8,424.7 99.2,425.2 99.8,426.6 100.2,429.9 100.8,430.5 101.2,427.8 101.8,419.5 102.2,418 102.8,426.2 103.2,428.3 103.8,425.4 104.2,421.9 104.8,418.5 105.2,418.4 105.8,419.8 106.2,422.9 106.8,426.2 107.2,426.3 107.8,425.2 108.2,423.6 108.8,424 109.2,425.7 109.8,427.6 110.2,428.3 110.8,428.2 111.2,428.5 111.8,426.7 112.2,425.1 112.8,425.2 113.2,426 113.8,424.2 114.2,421.8 114.8,419.6 115.2,414.2 115.8,408.5 116.2,408.5 116.8,412.1 117.2,409.9 117.8,406.1 118.2,407.4 118.8,404.1 119.2,393.6 119.8,386 120.2,381.1 120.8,374.8 121.2,368.4 121.8,375.1 122.2,388.5 122.8,399.5 123.2,403.7 123.8,403.4 124.2,406.3 124.8,408.3 125.2,406.9 125.8,409.8 126.2,416.4 126.8,418.5 127.2,419.5 127.8,420.3 128.2,418.7 128.8,419.5 129.2,420.3 129.8,420.2 130.2,421.2 130.8,421 131.2,420.3 131.8,421.9 132.2,421.9 132.8,417.7 133.2,414.3 133.8,408.9 134.2,401 134.8,392.5 135.2,382.9 135.8,373.5 136.2,362.2 136.8,355.1 137.2,356.7 137.8,362.8 138.2,371.3 138.8,379.7 139.2,385.7 139.8,393.3 140.2,403.8 140.8,409.5 141.2,412.8 141.8,418.4 142.2,419.6 142.8,418.7 143.2,419.6 143.8,418 144.2,419 144.8,420.9 145.2,419.8 145.8,419.9 146.2,421.3 146.8,423.3 147.2,423.6 147.8,422 148.2,420.4 148.8,423.1 149.2,427.7 149.8,425.1 150.2,422.1 150.8,426.5 151.2,428.6 151.8,427.6 152.2,427.5 152.8,424.6 153.2,425.6 153.8,430.6 154.2,432.8 154.8,429.9 155.2,422.5 155.8,420.5 156.2,423.1 156.8,422.9 157.2,422.5 157.8,424.4 158.2,429 158.8,431.2 159.2,429.5 159.8,427.9 160.2,426.8 160.8,427 161.2,428.2 161.8,429.2 162.2,428.4 162.8,429.6 163.2,432.6 163.8,432.9 164.2,433.8 164.8,432.2 165.2,425 165.8,423.9 166.2,428.7 166.8,428.9 167.2,427.6 167.8,427.9 168.2,426.7 168.8,425.2 169.2,426 169.8,427.1 170.2,424.8 170.8,423.4 171.2,428.2 171.8,428.4 172.2,423.6 172.8,424.6 173.2,428.9 173.8,430.7 174.2,431.7 174.8,432.8 175.2,429.5 175.8,425.2 176.2,426.4 176.8,428.6 177.2,428.3 177.8,430 178.2,431.2 178.8,430.3 179.2,429.1 179.8,427 180.2,425.8 180.8,425.3 181.2,424.2 181.8,424 182.2,425.9 182.8,426.6 183.2,428.3 183.8,433.6 184.2,436.3 184.8,437 185.2,439.3 185.8,439.6 186.2,436 186.8,429.5 187.2,426.9 187.8,430.3 188.2,432.6 188.8,432.8 189.2,433.4 189.8,433 190.2,431 190.8,429 191.2,423.7 191.8,419.7 192.2,424.6 192.8,426.8 193.2,422.6 193.8,420.8 194.2,417 194.8,412.2 195.2,409.9 195.8,405.4 196.2,400.8 196.8,401.3 197.2,405 197.8,407.1 198.2,410.4 198.8,419.1 199.2,427.8 199.8,427.9 200.2,423.1 200.8,421.4 201.2,422.4 201.8,426.9 202.2,428.8 202.8,424.2 203.2,423.4 203.8,428.4 204.2,430.3 204.8,427.8 205.2,424.3 205.8,421.4 206.2,424.4 206.8,429.2 207.2,432.3 207.8,432.4 208.2,425.3 208.8,422.1 209.2,426.4 209.8,428.2 210.2,429.6 210.8,431.5 211.2,432.6 211.8,434.4 212.2,430.9 212.8,424.4 213.2,427.2 213.8,431.6 214.2,429.5 214.8,428.5 215.2,427.1 215.8,427.4 216.2,431.6 216.8,431.2 217.2,428.5 217.8,426.8 218.2,423 218.8,423.6 219.2,427.4 219.8,425.3 220.2,422.4 220.8,423.8 221.2,425.1 221.8,424.6 222.2,419.4 222.8,409.7 223.2,400 223.8,390.1 224.2,379.6 224.8,369.2 225.2,355.8 225.8,339.8 226.2,326.4 226.8,322.8 227.2,329.6 227.8,341 228.2,353.7 228.8,366.6 229.2,384.1 229.8,399.3 230.2,403.7 230.8,407.7 231.2,417.9 231.8,427.7 232.2,429.3 232.8,425.4 233.2,424.2 233.8,424.7 234.2,424.9 234.8,426.4 235.2,425.6 235.8,423.5 236.2,425.1 236.8,426.6 237.2,425.3 237.8,426.7 238.2,433.4 238.8,436 239.2,431.4 239.8,429.4 240.2,430.9 240.8,429.5 241.2,430 241.8,431.9 242.2,428.8 242.8,426.5 243.2,426.8 243.8,427.3 244.2,429.9 244.8,434.2 245.2,436.7 245.8,434.9 246.2,430.4 246.8,427.7 247.2,428.1 247.8,428.5 248.2,431.1 248.8,434.1 249.2,432.9 249.8,430 250.2,429 250.8,430.5 251.2,430.4 251.8,428.4 252.2,430 252.8,430.9 253.2,427.6 253.8,426.5 254.2,429.9 254.8,435 255.2,436 255.8,434.3 256.2,433.8 256.8,433.3 257.2,430.6 257.8,428.1 258.2,431 258.8,431.7 259.2,429.7 259.8,432.9 260.2,432.6 260.8,427.8 261.2,427.9 261.8,429.5 262.2,430.4 262.8,430.3 263.2,428.5 263.8,429.7 264.2,433 264.8,434.1 265.2,432.6 265.8,432.1 266.2,430.6 266.8,428.6 267.2,431.2 267.8,430.5 268.2,427.4 268.8,426.5 269.2,423.5 269.8,423.3 270.2,427.1 270.8,430.3 271.2,433.8" fill="none" stroke="#a5a5a5" stroke-width="0.8"/>
<polyline points="8.2,432 8.8,432 9.2,432 9.8,432 10.2,432 10.8,432 11.2,432 11.8,432 12.2,432 12.8,432 13.2,432 13.8,431.9 14.2,431.9 14.8,431.9 15.2,431.9 15.8,431.9 16.2,431.9 16.8,431.9 17.2,431.9 17.8,431.9 18.2,431.9 18.8,431.9 19.2,431.9 19.8,431.9 20.2,431.9 20.8,431.9 21.2,431.9 21.8,431.9 22.2,431.9 22.8,431.9 23.2,431.9 23.8,431.9 24.2,431.8 24.8,431.8 25.2,431.8 25.8,431.8 26.2,431.8 26.8,431.8 27.2,431.8 27.8,431.8 28.2,431.8 28.8,431.8 29.2,431.8 29.8,431.7 30.2,431.7 30.8,431.7 31.2,431.7 31.8,431.7 32.2,431.7 32.8,431.7 33.2,431.6 33.8,431.6 34.2,431.6 34.8,431.6 35.2,431.6 35.8,431.5 36.2,431.5 36.8,431.5 37.2,431.4 37.8,431.4 38.2,431.3 38.8,431.2 39.2,431.1 39.8,431 40.2,430.9 40.8,430.6 41.2,430.3 41.8,429.9 42.2,429.3 42.8,428.7 43.2,427.9 43.8,427 44.2,426.2 44.8,425.3 45.2,424.7 45.8,424.3 46.2,424.3 46.8,424.6 47.2,425.2 47.8,426 48.2,426.8 48.8,427.5 49.2,428.1 49.8,428.7 50.2,429 50.8,429.3 51.2,429.4 51.8,429.4 52.2,429.3 52.8,429.1 53.2,428.7 53.8,428.1 54.2,427.2 54.8,425.8 55.2,423.8 55.8,420.9 56.2,417.2 56.8,412.6 57.2,407.2 57.8,401.6 58.2,396.6 58.8,393.2 59.2,392.5 59.8,394.7 60.2,399.1 60.8,404.5 61.2,410 61.8,415 62.2,419.2 62.8,422.4 63.2,424.7 63.8,426.4 64.2,427.4 64.8,428.1 65.2,428.6 65.8,428.9 66.2,429 66.8,429.1 67.2,429 67.8,428.8 68.2,428.5 68.8,427.9 69.2,427.1 69.8,426 70.2,424.6 70.8,422.9 71.2,421 71.8,419 72.2,417.3 72.8,416.2 73.2,415.9 73.8,416.6 74.2,418 74.8,419.9 75.2,421.8 75.8,423.7 76.2,425.3 76.8,426.7 77.2,427.7 77.8,428.4 78.2,429 78.8,429.4 79.2,429.7 79.8,430 80.2,430.3 80.8,430.5 81.2,430.4 81.8,430 82.2,429 82.8,427.7 83.2,426 83.8,424 84.2,421.7 84.8,419.3 85.2,417 85.8,415.2 86.2,414.5 86.8,415 87.2,416.7 87.8,419 88.2,421.5 88.8,424 89.2,426.4 89.8,428.6 90.2,430.6 90.8,432.5 91.2,434.1 91.8,435.2 92.2,435.3 92.8,434.6 93.2,433.4 93.8,432.1 94.2,431 94.8,430.1 95.2,429.3 95.8,428.5 96.2,427.8 96.8,427 97.2,426.2 97.8,425.3 98.2,424.5 98.8,423.9 99.2,423.5 99.8,423.4 100.2,423.7 100.8,424.1 101.2,424.6 101.8,425.1 102.2,425.5 102.8,425.7 103.2,425.7 103.8,425.5 104.2,425.1 104.8,424.6 105.2,424.1 105.8,423.8 106.2,423.7 106.8,424 107.2,424.5 107.8,425 108.2,425.6 108.8,426 109.2,426.3 109.8,426.5 110.2,426.5 110.8,426.3 111.2,425.9 111.8,425.4 112.2,424.6 112.8,423.6 113.2,422.4 113.8,421 114.2,419.5 114.8,417.9 115.2,416.3 115.8,415 116.2,413.7 116.8,412.5 117.2,410.9 117.8,408.7 118.2,405.6 118.8,401.1 119.2,395.3 119.8,388.2 120.2,381.1 120.8,376.3 121.2,373.1 121.8,377.5 122.2,384.6 122.8,392 123.2,398.4 123.8,403.5 124.2,407.4 124.8,410.4 125.2,412.7 125.8,414.5 126.2,415.9 126.8,417 127.2,417.9 127.8,418.5 128.2,419 128.8,419.4 129.2,419.6 129.8,419.7 130.2,419.7 130.8,419.5 131.2,419 131.8,418.1 132.2,416.7 132.8,414.5 133.2,411.2 133.8,406.4 134.2,400 134.8,392 135.2,382.6 135.8,372.6 136.2,363.5 136.8,357.1 137.2,355.3 137.8,358.9 138.2,366.5 138.8,376.3 139.2,386.3 139.8,395.5 140.2,403.2 140.8,409.2 141.2,413.7 141.8,416.8 142.2,419 142.8,420.5 143.2,421.5 143.8,422.2 144.2,422.7 144.8,423.1 145.2,423.4 145.8,423.7 146.2,423.9 146.8,424.2 147.2,424.3 147.8,424.5 148.2,424.7 148.8,424.8 149.2,424.9 149.8,425.1 150.2,425.2 150.8,425.3 151.2,425.4 151.8,425.5 152.2,425.6 152.8,425.7 153.2,425.8 153.8,425.9 154.2,426 154.8,426.1 155.2,426.2 155.8,426.3 156.2,426.4 156.8,426.5 157.2,426.5 157.8,426.6 158.2,426.7 158.8,426.8 159.2,426.9 159.8,427 160.2,427.1 160.8,427.2 161.2,427.3 161.8,427.3 162.2,427.4 162.8,427.5 163.2,427.6 163.8,427.7 164.2,427.8 164.8,427.8 165.2,427.9 165.8,428 166.2,428.1 166.8,428.1 167.2,428.2 167.8,428.3 168.2,428.4 168.8,428.4 169.2,428.5 169.8,428.6 170.2,428.6 170.8,428.7 171.2,428.7 171.8,428.8 172.2,428.8 172.8,428.9 173.2,428.9 173.8,428.9 174.2,429 174.8,429 175.2,428.9 175.8,428.8 176.2,428.6 176.8,428.3 177.2,427.8 177.8,427.2 178.2,426.5 178.8,426 179.2,425.8 179.8,426.1 180.2,426.9 180.8,427.8 181.2,428.8 181.8,429.9 182.2,431 182.8,432.2 183.2,433.4 183.8,434.6 184.2,435.3 184.8,435.4 185.2,434.8 185.8,433.8 186.2,432.7 186.8,431.7 187.2,431 187.8,430.4 188.2,430.1 188.8,429.8 189.2,429.6 189.8,429.4 190.2,429.1 190.8,428.8 191.2,428.4 191.8,427.8 192.2,426.9 192.8,425.6 193.2,423.7 193.8,421.2 194.2,418 194.8,414.2 195.2,410.1 195.8,406.1 196.2,403 196.8,401.7 197.2,402.5 197.8,405.3 198.2,409.2 198.8,413.3 199.2,417.2 199.8,420.6 200.2,423.2 200.8,425.2 201.2,426.7 201.8,427.6 202.2,428.3 202.8,428.7 203.2,429 203.8,429.2 204.2,429.4 204.8,429.5 205.2,429.5 205.8,429.6 206.2,429.6 206.8,429.6 207.2,429.5 207.8,429.4 208.2,429.3 208.8,429.2 209.2,429 209.8,428.8 210.2,428.6 210.8,428.3 211.2,428.1 211.8,427.8 212.2,427.5 212.8,427.2 213.2,427 213.8,426.7 214.2,426.6 214.8,426.5 215.2,426.5 215.8,426.5 216.2,426.5 216.8,426.5 217.2,426.5 217.8,426.5 218.2,426.4 218.8,426.2 219.2,425.9 219.8,425.4 220.2,424.7 220.8,423.6 221.2,421.9 221.8,419.3 222.2,415.5 222.8,409.8 223.2,401.9 223.8,391.4 224.2,378.4 224.8,363.4 225.2,347.6 225.8,333.4 226.2,323.8 226.8,321.7 227.2,327.9 227.8,340.4 228.2,355.8 228.8,371.4 229.2,385.6 229.8,397.4 230.2,406.6 230.8,413.4 231.2,418.1 231.8,421.4 232.2,423.6 232.8,425.1 233.2,426.1 233.8,426.9 234.2,427.5 234.8,428 235.2,428.4 235.8,428.7 236.2,429 236.8,429.3 237.2,429.5 237.8,429.7 238.2,429.9 238.8,430 239.2,430.1 239.8,430.3 240.2,430.4 240.8,430.5 241.2,430.6 241.8,430.6 242.2,430.7 242.8,430.8 243.2,430.9 243.8,430.9 244.2,431 244.8,431 245.2,431.1 245.8,431.1 246.2,431.1 246.8,431.2 247.2,431.2 247.8,431.2 248.2,431.3 248.8,431.3 249.2,431.3 249.8,431.4 250.2,431.4 250.8,431.4 251.2,431.4 251.8,431.4 252.2,431.5 252.8,431.5 253.2,431.5 253.8,431.5 254.2,431.5 254.8,431.6 255.2,431.6 255.8,431.6 256.2,431.6 256.8,431.6 257.2,431.6 257.8,431.6 258.2,431.6 258.8,431.7 259.2,431.7 259.8,431.7 260.2,431.7 260.8,431.7 261.2,431.7 261.8,431.7 262.2,431.7 262.8,431.7 263.2,431.7 263.8,431.7 264.2,431.8 264.8,431.8 265.2,431.8 265.8,431.8 266.2,431.8 266.8,431.8 267.2,431.8 267.8,431.8 268.2,431.8 268.8,431.8 269.2,431.8 269.8,431.8 270.2,431.8 270.8,431.8 271.2,431.8" fill="none" stroke="#1a1a1a" stroke-width="1.2"/>
<polyline points="8.2,459.2 8.8,459.2 9.2,459.1 9.8,459.1 10.2,459.1 10.8,459.1 11.2,459.1 11.8,459.1 12.2,459.1 12.8,459.1 13.2,459.1 13.8,459.1 14.2,459.1 14.8,459.1 15.2,459.1 15.8,459.1 16.2,459.1 16.8,459.1 17.2,459.1 17.8,459.1 18.2,459.1 18.8,459.1 19.2,459.1 19.8,459.1 20.2,459.1 20.8,459.1 21.2,459.1 21.8,459.1 22.2,459 22.8,459 23.2,459 23.8,459 24.2,459 24.8,459 25.2,459 25.8,459 26.2,459 26.8,459 27.2,459 27.8,459 28.2,459 28.8,458.9 29.2,458.9 29.8,458.9 30.2,458.9 30.8,458.9 31.2,458.9 31.8,458.9 32.2,458.8 32.8,458.8 33.2,458.8 33.8,458.8 34.2,458.8 34.8,458.7 35.2,458.7 35.8,458.7 36.2,458.7 36.8,458.6 37.2,458.6 37.8,458.5 38.2,458.5 38.8,458.4 39.2,458.3 39.8,458.2 40.2,458 40.8,457.7 41.2,457.4 41.8,456.9 42.2,456.3 42.8,455.6 43.2,454.6 43.8,453.6 44.2,452.5 44.8,451.4 45.2,450.5 45.8,450 46.2,450 46.8,450.5 47.2,451.3 47.8,452.3 48.2,453.3 48.8,454.3 49.2,455 49.8,455.7 50.2,456.1 50.8,456.4 51.2,456.5 51.8,456.5 52.2,456.5 52.8,456.2 53.2,455.9 53.8,455.3 54.2,454.3 54.8,453 55.2,450.9 55.8,448.1 56.2,444.4 56.8,439.8 57.2,434.4 57.8,428.8 58.2,423.8 58.8,420.4 59.2,419.7 59.8,421.9 60.2,426.3 60.8,431.7 61.2,437.3 61.8,442.2 62.2,446.4 62.8,449.6 63.2,451.9 63.8,453.6 64.2,454.7 64.8,455.4 65.2,455.8 65.8,456.1 66.2,456.2 66.8,456.3 67.2,456.2 67.8,456 68.2,455.7 68.8,455.1 69.2,454.3 69.8,453.2 70.2,451.8 70.8,450.1 71.2,448.2 71.8,446.3 72.2,444.6 72.8,443.4 73.2,443.1 73.8,443.8 74.2,445.3 74.8,447.1 75.2,449.1 75.8,451 76.2,452.6 76.8,453.9 77.2,455 77.8,455.7 78.2,456.3 78.8,456.7 79.2,457 79.8,457.3 80.2,457.6 80.8,457.8 81.2,457.7 81.8,457.3 82.2,456.3 82.8,455 83.2,453.3 83.8,451.3 84.2,449 84.8,446.6 85.2,444.3 85.8,442.5 86.2,441.8 86.8,442.3 87.2,443.9 87.8,446.1 88.2,448.6 88.8,450.9 89.2,453.1 89.8,455 90.2,456.8 90.8,458.4 91.2,459.8 91.8,460.9 92.2,461.2 92.8,460.7 93.2,459.8 93.8,458.9 94.2,458 94.8,457.2 95.2,456.6 95.8,455.9 96.2,455.2 96.8,454.5 97.2,453.7 97.8,452.9 98.2,452.1 98.8,451.5 99.2,451.2 99.8,451.2 100.2,451.4 100.8,451.9 101.2,452.5 101.8,453 102.2,453.4 102.8,453.7 103.2,453.7 103.8,453.5 104.2,453.2 104.8,452.7 105.2,452.3 105.8,452.1 106.2,452.1 106.8,452.5 107.2,453 107.8,453.7 108.2,454.4 108.8,454.9 109.2,455.4 109.8,455.7 110.2,455.9 110.8,455.9 111.2,455.8 111.8,455.5 112.2,455.1 112.8,454.5 113.2,453.8 113.8,452.9 114.2,452 114.8,451.2 115.2,450.6 115.8,450.4 116.2,450.6 116.8,451.2 117.2,452 117.8,452.9 118.2,453.7 118.8,454.3 119.2,454.9 119.8,455.2 120.2,455.5 120.8,455.6 121.2,455.7 121.8,455.7 122.2,455.7 122.8,455.7 123.2,455.6 123.8,455.6 124.2,455.5 124.8,455.4 125.2,455.3 125.8,455.1 126.2,455 126.8,454.8 127.2,454.6 127.8,454.4 128.2,454.2 128.8,453.9 129.2,453.6 129.8,453.2 130.2,452.7 130.8,452.1 131.2,451.3 131.8,450.1 132.2,448.4 132.8,445.9 133.2,442.4 133.8,437.4 134.2,430.8 134.8,422.6 135.2,413 135.8,402.9 136.2,393.6 136.8,387 137.2,385.2 137.8,388.6 138.2,396.1 138.8,405.8 139.2,415.7 139.8,424.8 140.2,432.4 140.8,438.3 141.2,442.7 141.8,445.8 142.2,447.9 142.8,449.3 143.2,450.2 143.8,450.9 144.2,451.3 144.8,451.7 145.2,452 145.8,452.2 146.2,452.4 146.8,452.6 147.2,452.7 147.8,452.8 148.2,453 148.8,453.1 149.2,453.2 149.8,453.3 150.2,453.3 150.8,453.4 151.2,453.5 151.8,453.6 152.2,453.6 152.8,453.7 153.2,453.8 153.8,453.9 154.2,453.9 154.8,454 155.2,454.1 155.8,454.2 156.2,454.2 156.8,454.3 157.2,454.4 157.8,454.5 158.2,454.5 158.8,454.6 159.2,454.7 159.8,454.8 160.2,454.8 160.8,454.9 161.2,455 161.8,455 162.2,455.1 162.8,455.2 163.2,455.3 163.8,455.3 164.2,455.4 164.8,455.5 165.2,455.5 165.8,455.6 166.2,455.7 166.8,455.7 167.2,455.8 167.8,455.9 168.2,455.9 168.8,456 169.2,456 169.8,456.1 170.2,456.1 170.8,456.2 171.2,456.2 171.8,456.3 172.2,456.3 172.8,456.4 173.2,456.4 173.8,456.4 174.2,456.4 174.8,456.4 175.2,456.4 175.8,456.3 176.2,456.1 176.8,455.7 177.2,455.2 177.8,454.6 178.2,454 178.8,453.4 179.2,453.2 179.8,453.5 180.2,454.3 180.8,455.2 181.2,456.2 181.8,457.3 182.2,458.4 182.8,459.6 183.2,460.8 183.8,462 184.2,462.7 184.8,462.8 185.2,462.2 185.8,461.1 186.2,460 186.8,459.1 187.2,458.3 187.8,457.8 188.2,457.4 188.8,457.1 189.2,456.9 189.8,456.7 190.2,456.5 190.8,456.2 191.2,455.7 191.8,455.1 192.2,454.2 192.8,452.9 193.2,451 193.8,448.5 194.2,445.3 194.8,441.5 195.2,437.4 195.8,433.4 196.2,430.3 196.8,429 197.2,429.8 197.8,432.6 198.2,436.5 198.8,440.6 199.2,444.5 199.8,447.9 200.2,450.5 200.8,452.5 201.2,454 201.8,454.9 202.2,455.6 202.8,456 203.2,456.3 203.8,456.5 204.2,456.7 204.8,456.7 205.2,456.8 205.8,456.8 206.2,456.9 206.8,456.8 207.2,456.8 207.8,456.7 208.2,456.6 208.8,456.5 209.2,456.3 209.8,456.1 210.2,455.9 210.8,455.6 211.2,455.3 211.8,455 212.2,454.8 212.8,454.5 213.2,454.2 213.8,454 214.2,453.9 214.8,453.8 215.2,453.7 215.8,453.7 216.2,453.8 216.8,453.8 217.2,453.8 217.8,453.7 218.2,453.6 218.8,453.4 219.2,453.1 219.8,452.6 220.2,451.9 220.8,450.8 221.2,449.1 221.8,446.6 222.2,442.7 222.8,437 223.2,429.1 223.8,418.7 224.2,405.7 224.8,390.6 225.2,374.9 225.8,360.6 226.2,351 226.8,349 227.2,355.2 227.8,367.6 228.2,383 228.8,398.6 229.2,412.8 229.8,424.6 230.2,433.8 230.8,440.6 231.2,445.4 231.8,448.6 232.2,450.8 232.8,452.3 233.2,453.3 233.8,454.1 234.2,454.7 234.8,455.2 235.2,455.6 235.8,455.9 236.2,456.2 236.8,456.5 237.2,456.7 237.8,456.9 238.2,457.1 238.8,457.2 239.2,457.4 239.8,457.5 240.2,457.6 240.8,457.7 241.2,457.8 241.8,457.9 242.2,457.9 242.8,458 243.2,458.1 243.8,458.1 244.2,458.2 244.8,458.2 245.2,458.3 245.8,458.3 246.2,458.4 246.8,458.4 247.2,458.4 247.8,458.5 248.2,458.5 248.8,458.5 249.2,458.5 249.8,458.6 250.2,458.6 250.8,458.6 251.2,458.6 251.8,458.7 252.2,458.7 252.8,458.7 253.2,458.7 253.8,458.7 254.2,458.7 254.8,458.8 255.2,458.8 255.8,458.8 256.2,458.8 256.8,458.8 257.2,458.8 257.8,458.8 258.2,458.8 258.8,458.9 259.2,458.9 259.8,458.9 260.2,458.9 260.8,458.9 261.2,458.9 261.8,458.9 262.2,458.9 262.8,458.9 263.2,458.9 263.8,458.9 264.2,459 264.8,459 265.2,459 265.8,459 266.2,459 266.8,459 267.2,459 267.8,459 268.2,459 268.8,459 269.2,459 269.8,459 270.2,459 270.8,459 271.2,459" fill="none" stroke="#a8a8a8" stroke-width="1"/>
<polyline points="8.2,476 8.8,476 9.2,476 9.8,476 10.2,476 10.8,476 11.2,476 11.8,476 12.2,476 12.8,476 13.2,476 13.8,476 14.2,476 14.8,476 15.2,476 15.8,476 16.2,476 16.8,476 17.2,476 17.8,476 18.2,476 18.8,476 19.2,476 19.8,476 20.2,476 20.8,476 21.2,476 21.8,476 22.2,476 22.8,476 23.2,476 23.8,476 24.2,476 24.8,476 25.2,476 25.8,476 26.2,476 26.8,476 27.2,476 27.8,476 28.2,476 28.8,476 29.2,476 29.8,476 30.2,476 30.8,476 31.2,476 31.8,476 32.2,476 32.8,476 33.2,476 33.8,476 34.2,476 34.8,476 35.2,476 35.8,476 36.2,476 36.8,476 37.2,476 37.8,476 38.2,476 38.8,476 39.2,476 39.8,476 40.2,476 40.8,476.1 41.2,476.1 41.8,476.1 42.2,476.2 42.8,476.3 43.2,476.4 43.8,476.6 44.2,476.8 44.8,477.1 45.2,477.3 45.8,477.4 46.2,477.4 46.8,477.3 47.2,477 47.8,476.8 48.2,476.6 48.8,476.4 49.2,476.3 49.8,476.2 50.2,476.1 50.8,476.1 51.2,476 51.8,476 52.2,476 52.8,476 53.2,476 53.8,476 54.2,476 54.8,476 55.2,476 55.8,476 56.2,476 56.8,476 57.2,476 57.8,476 58.2,475.9 58.8,475.9 59.2,475.9 59.8,475.9 60.2,475.9 60.8,475.9 61.2,475.9 61.8,475.9 62.2,475.9 62.8,475.9 63.2,475.9 63.8,475.9 64.2,475.9 64.8,475.9 65.2,475.9 65.8,475.9 66.2,475.9 66.8,475.9 67.2,475.9 67.8,475.9 68.2,475.9 68.8,475.9 69.2,475.9 69.8,475.9 70.2,475.9 70.8,475.9 71.2,475.9 71.8,475.9 72.2,475.9 72.8,475.9 73.2,475.9 73.8,475.9 74.2,475.9 74.8,475.9 75.2,475.9 75.8,475.9 76.2,475.9 76.8,475.9 77.2,475.9 77.8,475.9 78.2,475.9 78.8,475.9 79.2,475.9 79.8,475.9 80.2,475.9 80.8,475.9 81.2,475.9 81.8,475.9 82.2,475.9 82.8,475.9 83.2,475.9 83.8,475.9 84.2,475.9 84.8,475.9 85.2,475.9 85.8,475.9 86.2,475.9 86.8,475.9 87.2,475.9 87.8,476 88.2,476.1 88.8,476.3 89.2,476.5 89.8,476.7 90.2,477 90.8,477.3 91.2,477.5 91.8,477.5 92.2,477.3 92.8,477 93.2,476.7 93.8,476.4 94.2,476.2 94.8,476 95.2,475.9 95.8,475.8 96.2,475.7 96.8,475.6 97.2,475.6 97.8,475.6 98.2,475.5 98.8,475.5 99.2,475.5 99.8,475.4 100.2,475.4 100.8,475.4 101.2,475.3 101.8,475.3 102.2,475.3 102.8,475.2 103.2,475.2 103.8,475.1 104.2,475.1 104.8,475 105.2,474.9 105.8,474.9 106.2,474.8 106.8,474.7 107.2,474.6 107.8,474.5 108.2,474.4 108.8,474.2 109.2,474.1 109.8,473.9 110.2,473.7 110.8,473.5 111.2,473.3 111.8,473 112.2,472.7 112.8,472.3 113.2,471.8 113.8,471.3 114.2,470.6 114.8,469.9 115.2,468.9 115.8,467.7 116.2,466.3 116.8,464.4 117.2,462.1 117.8,459 118.2,455 118.8,449.9 119.2,443.5 119.8,436.1 120.2,428.8 120.8,423.8 121.2,420.5 121.8,424.9 122.2,432 122.8,439.4 123.2,445.9 123.8,451.1 124.2,455.1 124.8,458.2 125.2,460.6 125.8,462.6 126.2,464.1 126.8,465.4 127.2,466.4 127.8,467.3 128.2,468 128.8,468.6 129.2,469.2 129.8,469.7 130.2,470.1 130.8,470.5 131.2,470.8 131.8,471.2 132.2,471.4 132.8,471.7 133.2,471.9 133.8,472.2 134.2,472.4 134.8,472.6 135.2,472.7 135.8,472.9 136.2,473 136.8,473.2 137.2,473.3 137.8,473.4 138.2,473.5 138.8,473.7 139.2,473.8 139.8,473.9 140.2,473.9 140.8,474 141.2,474.1 141.8,474.2 142.2,474.2 142.8,474.3 143.2,474.4 143.8,474.4 144.2,474.5 144.8,474.5 145.2,474.6 145.8,474.6 146.2,474.7 146.8,474.7 147.2,474.8 147.8,474.8 148.2,474.9 148.8,474.9 149.2,474.9 149.8,475 150.2,475 150.8,475 151.2,475.1 151.8,475.1 152.2,475.1 152.8,475.1 153.2,475.2 153.8,475.2 154.2,475.2 154.8,475.2 155.2,475.2 155.8,475.3 156.2,475.3 156.8,475.3 157.2,475.3 157.8,475.3 158.2,475.4 158.8,475.4 159.2,475.4 159.8,475.4 160.2,475.4 160.8,475.4 161.2,475.4 161.8,475.5 162.2,475.5 162.8,475.5 163.2,475.5 163.8,475.5 164.2,475.5 164.8,475.5 165.2,475.5 165.8,475.5 166.2,475.6 166.8,475.6 167.2,475.6 167.8,475.6 168.2,475.6 168.8,475.6 169.2,475.6 169.8,475.6 170.2,475.6 170.8,475.6 171.2,475.6 171.8,475.6 172.2,475.6 172.8,475.7 173.2,475.7 173.8,475.7 174.2,475.7 174.8,475.7 175.2,475.7 175.8,475.7 176.2,475.7 176.8,475.7 177.2,475.7 177.8,475.7 178.2,475.7 178.8,475.7 179.2,475.7 179.8,475.7 180.2,475.7 180.8,475.7 181.2,475.7 181.8,475.7 182.2,475.7 182.8,475.8 183.2,475.8 183.8,475.8 184.2,475.8 184.8,475.8 185.2,475.8 185.8,475.8 186.2,475.8 186.8,475.8 187.2,475.8 187.8,475.8 188.2,475.8 188.8,475.8 189.2,475.8 189.8,475.8 190.2,475.8 190.8,475.8 191.2,475.8 191.8,475.8 192.2,475.8 192.8,475.8 193.2,475.8 193.8,475.8 194.2,475.8 194.8,475.8 195.2,475.8 195.8,475.8 196.2,475.8 196.8,475.8 197.2,475.8 197.8,475.8 198.2,475.8 198.8,475.8 199.2,475.8 199.8,475.8 200.2,475.8 200.8,475.9 201.2,475.9 201.8,475.9 202.2,475.9 202.8,475.9 203.2,475.9 203.8,475.9 204.2,475.9 204.8,475.9 205.2,475.9 205.8,475.9 206.2,475.9 206.8,475.9 207.2,475.9 207.8,475.9 208.2,475.9 208.8,475.9 209.2,475.9 209.8,475.9 210.2,475.9 210.8,475.9 211.2,475.9 211.8,475.9 212.2,475.9 212.8,475.9 213.2,475.9 213.8,475.9 214.2,475.9 214.8,475.9 215.2,475.9 215.8,475.9 216.2,475.9 216.8,475.9 217.2,475.9 217.8,475.9 218.2,475.9 218.8,475.9 219.2,475.9 219.8,475.9 220.2,475.9 220.8,475.9 221.2,475.9 221.8,475.9 222.2,475.9 222.8,475.9 223.2,475.9 223.8,475.9 224.2,475.9 224.8,475.9 225.2,475.9 225.8,475.9 226.2,475.9 226.8,475.9 227.2,475.9 227.8,475.9 228.2,475.9 228.8,475.9 229.2,475.9 229.8,475.9 230.2,475.9 230.8,475.9 231.2,475.9 231.8,475.9 232.2,475.9 232.8,475.9 233.2,475.9 233.8,475.9 234.2,475.9 234.8,475.9 235.2,475.9 235.8,475.9 236.2,475.9 236.8,475.9 237.2,475.9 237.8,475.9 238.2,475.9 238.8,475.9 239.2,475.9 239.8,475.9 240.2,475.9 240.8,475.9 241.2,475.9 241.8,475.9 242.2,475.9 242.8,475.9 243.2,475.9 243.8,475.9 244.2,475.9 244.8,475.9 245.2,475.9 245.8,475.9 246.2,475.9 246.8,475.9 247.2,475.9 247.8,475.9 248.2,475.9 248.8,475.9 249.2,475.9 249.8,475.9 250.2,475.9 250.8,475.9 251.2,475.9 251.8,475.9 252.2,475.9 252.8,475.9 253.2,475.9 253.8,475.9 254.2,475.9 254.8,475.9 255.2,475.9 255.8,475.9 256.2,475.9 256.8,475.9 257.2,475.9 257.8,475.9 258.2,475.9 258.8,475.9 259.2,475.9 259.8,476 260.2,476 260.8,476 261.2,476 261.8,476 262.2,476 262.8,476 263.2,476 263.8,476 264.2,476 264.8,476 265.2,476 265.8,476 266.2,476 266.8,476 267.2,476 267.8,476 268.2,476 268.8,476 269.2,476 269.8,476 270.2,476 270.8,476 271.2,476" fill="none" stroke="#1a1a1a" stroke-width="1.1"/>
<line x1="8.25" y1="489.4" x2="271.4" y2="489.4" stroke="#333" stroke-width="0.9"/>
<line x1="8.2" y1="489.4" x2="8.2" y2="491.5" stroke="#333" stroke-width="0.9"/>
<text x="8.2" y="497.6" font-size="5.8" text-anchor="middle" fill="#333" transform="matrix(1,0,0,1.06,0,-29.86)">4.5</text>
<line x1="52.1" y1="489.4" x2="52.1" y2="491.5" stroke="#333" stroke-width="0.9"/>
<text x="52.1" y="497.6" font-size="5.8" text-anchor="middle" fill="#333" transform="matrix(1,0,0,1.06,0,-29.86)">4.0</text>
<line x1="96" y1="489.4" x2="96" y2="491.5" stroke="#333" stroke-width="0.9"/>
<text x="96" y="497.6" font-size="5.8" text-anchor="middle" fill="#333" transform="matrix(1,0,0,1.06,0,-29.86)">3.5</text>
<line x1="139.8" y1="489.4" x2="139.8" y2="491.5" stroke="#333" stroke-width="0.9"/>
<text x="139.8" y="497.6" font-size="5.8" text-anchor="middle" fill="#333" transform="matrix(1,0,0,1.06,0,-29.86)">3.0</text>
<line x1="183.7" y1="489.4" x2="183.7" y2="491.5" stroke="#333" stroke-width="0.9"/>
<text x="183.7" y="497.6" font-size="5.8" text-anchor="middle" fill="#333" transform="matrix(1,0,0,1.06,0,-29.86)">2.5</text>
<line x1="227.5" y1="489.4" x2="227.5" y2="491.5" stroke="#333" stroke-width="0.9"/>
<text x="227.5" y="497.6" font-size="5.8" text-anchor="middle" fill="#333" transform="matrix(1,0,0,1.06,0,-29.86)">2.0</text>
<line x1="271.4" y1="489.4" x2="271.4" y2="491.5" stroke="#333" stroke-width="0.9"/>
<text x="271.4" y="497.6" font-size="5.8" text-anchor="middle" fill="#333" transform="matrix(1,0,0,1.06,0,-29.86)">1.5</text>
<text x="139.8" y="505.5" font-size="5.8" text-anchor="middle" fill="#333" transform="matrix(1,0,0,1.06,0,-30.33)">ppm</text>
<text x="11" y="275.5" font-size="7.6" fill="#222" transform="matrix(1,0,0,1.06,0,-16.53)">Residuals</text>
<text x="11" y="422.9" font-size="7.6" fill="#222" transform="matrix(1,0,0,1.06,0,-25.37)">Data/Fit</text>
<text x="11" y="455.6" font-size="7.6" fill="#222" transform="matrix(1,0,0,1.06,0,-27.34)">Others</text>
<text x="11" y="471.9" font-size="7.6" fill="#222" transform="matrix(1,0,0,1.06,0,-28.31)">Choline</text>
<rect x="356" y="4" width="415" height="41" fill="#efefef"/>
<text x="563.5" y="32.8" font-size="20.6" text-anchor="middle" fill="#1a1a1a" transform="matrix(1,0,0,1.06,0,-1.97)">Ch123</text>
<line x1="374.4" y1="45" x2="374.4" y2="396.5" stroke="#eeeeee" stroke-width="2.8"/>
<line x1="446.9" y1="45" x2="446.9" y2="396.5" stroke="#eeeeee" stroke-width="2.8"/>
<line x1="519.5" y1="45" x2="519.5" y2="396.5" stroke="#eeeeee" stroke-width="2.8"/>
<line x1="592" y1="45" x2="592" y2="396.5" stroke="#eeeeee" stroke-width="2.8"/>
<line x1="664.6" y1="45" x2="664.6" y2="396.5" stroke="#eeeeee" stroke-width="2.8"/>
<line x1="737.1" y1="45" x2="737.1" y2="396.5" stroke="#eeeeee" stroke-width="2.8"/>
<line x1="356" y1="143.2" x2="771" y2="143.2" stroke="#eeeeee" stroke-width="2.8"/>
<line x1="356" y1="273" x2="771" y2="273" stroke="#eeeeee" stroke-width="2.8"/>
<rect x="784" y="4" width="415" height="41" fill="#efefef"/>
<text x="991.5" y="32.8" font-size="20.6" text-anchor="middle" fill="#1a1a1a" transform="matrix(1,0,0,1.06,0,-1.97)">Left NBM</text>
<line x1="802.5" y1="45" x2="802.5" y2="396.5" stroke="#eeeeee" stroke-width="2.8"/>
<line x1="875.1" y1="45" x2="875.1" y2="396.5" stroke="#eeeeee" stroke-width="2.8"/>
<line x1="947.7" y1="45" x2="947.7" y2="396.5" stroke="#eeeeee" stroke-width="2.8"/>
<line x1="1020.2" y1="45" x2="1020.2" y2="396.5" stroke="#eeeeee" stroke-width="2.8"/>
<line x1="1092.8" y1="45" x2="1092.8" y2="396.5" stroke="#eeeeee" stroke-width="2.8"/>
<line x1="1165.4" y1="45" x2="1165.4" y2="396.5" stroke="#eeeeee" stroke-width="2.8"/>
<line x1="784" y1="143.2" x2="1199" y2="143.2" stroke="#eeeeee" stroke-width="2.8"/>
<line x1="784" y1="273" x2="1199" y2="273" stroke="#eeeeee" stroke-width="2.8"/>
<circle cx="409" cy="104.3" r="3.65" fill="#377EB8"/>
<circle cx="429.6" cy="104.3" r="3.65" fill="#377EB8"/>
<circle cx="525.2" cy="110.7" r="3.65" fill="#377EB8"/>
<circle cx="550.5" cy="178.4" r="3.65" fill="#377EB8"/>
<circle cx="475" cy="188.7" r="3.65" fill="#377EB8"/>
<circle cx="415.8" cy="183.5" r="3.65" fill="#377EB8"/>
<circle cx="425.9" cy="188.7" r="3.65" fill="#377EB8"/>
<circle cx="524" cy="196.6" r="3.65" fill="#377EB8"/>
<circle cx="548.5" cy="194" r="3.65" fill="#377EB8"/>
<circle cx="403.2" cy="209.5" r="3.65" fill="#377EB8"/>
<circle cx="430.4" cy="210.6" r="3.65" fill="#377EB8"/>
<circle cx="396.3" cy="223.1" r="3.65" fill="#377EB8"/>
<circle cx="455.5" cy="220" r="3.65" fill="#377EB8"/>
<circle cx="538.5" cy="216.5" r="3.65" fill="#377EB8"/>
<circle cx="501.2" cy="224.4" r="3.65" fill="#377EB8"/>
<circle cx="557.9" cy="225.2" r="3.65" fill="#377EB8"/>
<circle cx="565" cy="224" r="3.65" fill="#377EB8"/>
<circle cx="564.4" cy="229.4" r="3.65" fill="#377EB8"/>
<circle cx="575" cy="230.4" r="3.65" fill="#377EB8"/>
<circle cx="469.8" cy="230.4" r="3.65" fill="#377EB8"/>
<circle cx="641.3" cy="197" r="3.65" fill="#377EB8"/>
<circle cx="464.5" cy="241" r="3.65" fill="#377EB8"/>
<circle cx="463.1" cy="254.2" r="3.65" fill="#377EB8"/>
<circle cx="490" cy="250.1" r="3.65" fill="#377EB8"/>
<circle cx="480.2" cy="280.2" r="3.65" fill="#377EB8"/>
<circle cx="480.6" cy="336.2" r="3.65" fill="#377EB8"/>
<circle cx="538.2" cy="380.6" r="3.65" fill="#377EB8"/>
<circle cx="547.3" cy="275" r="3.65" fill="#377EB8"/>
<circle cx="667" cy="354.7" r="3.65" fill="#377EB8"/>
<circle cx="631.4" cy="61" r="3.65" fill="#E41A1C"/>
<circle cx="640.1" cy="81.8" r="3.65" fill="#E41A1C"/>
<circle cx="616.1" cy="93.6" r="3.65" fill="#E41A1C"/>
<circle cx="542.4" cy="98.9" r="3.65" fill="#E41A1C"/>
<circle cx="532.8" cy="105.4" r="3.65" fill="#E41A1C"/>
<circle cx="547.3" cy="117.2" r="3.65" fill="#E41A1C"/>
<circle cx="570.2" cy="134" r="3.65" fill="#E41A1C"/>
<circle cx="575.3" cy="147.3" r="3.65" fill="#E41A1C"/>
<circle cx="484.4" cy="145.8" r="3.65" fill="#E41A1C"/>
<circle cx="520.3" cy="152.3" r="3.65" fill="#E41A1C"/>
<circle cx="442.3" cy="155.9" r="3.65" fill="#E41A1C"/>
<circle cx="446.7" cy="161.4" r="3.65" fill="#E41A1C"/>
<circle cx="496.4" cy="182.2" r="3.65" fill="#E41A1C"/>
<circle cx="527.9" cy="191.3" r="3.65" fill="#E41A1C"/>
<circle cx="385" cy="208.3" r="3.65" fill="#E41A1C"/>
<circle cx="710.1" cy="173" r="3.65" fill="#E41A1C"/>
<circle cx="590.8" cy="179.7" r="3.65" fill="#E41A1C"/>
<circle cx="621.4" cy="183.5" r="3.65" fill="#E41A1C"/>
<circle cx="441.6" cy="191.3" r="3.65" fill="#E41A1C"/>
<circle cx="442.7" cy="196.5" r="3.65" fill="#E41A1C"/>
<circle cx="486.8" cy="196.6" r="3.65" fill="#E41A1C"/>
<circle cx="552.4" cy="196.5" r="3.65" fill="#E41A1C"/>
<circle cx="425.9" cy="208.2" r="3.65" fill="#E41A1C"/>
<circle cx="431.9" cy="204" r="3.65" fill="#E41A1C"/>
<circle cx="640" cy="207.1" r="3.65" fill="#E41A1C"/>
<circle cx="459.2" cy="217.6" r="3.65" fill="#E41A1C"/>
<circle cx="466.6" cy="218.4" r="3.65" fill="#E41A1C"/>
<circle cx="525" cy="217.5" r="3.65" fill="#E41A1C"/>
<circle cx="572.9" cy="218.8" r="3.65" fill="#E41A1C"/>
<circle cx="430.6" cy="227.9" r="3.65" fill="#E41A1C"/>
<circle cx="472.3" cy="226.3" r="3.65" fill="#E41A1C"/>
<circle cx="513" cy="231.1" r="3.65" fill="#E41A1C"/>
<circle cx="536" cy="227.8" r="3.65" fill="#E41A1C"/>
<circle cx="542.5" cy="230.3" r="3.65" fill="#E41A1C"/>
<circle cx="530.6" cy="235" r="3.65" fill="#E41A1C"/>
<circle cx="567.9" cy="232" r="3.65" fill="#E41A1C"/>
<circle cx="645" cy="226.7" r="3.65" fill="#E41A1C"/>
<circle cx="632.3" cy="243.6" r="3.65" fill="#E41A1C"/>
<circle cx="459.9" cy="250.1" r="3.65" fill="#E41A1C"/>
<circle cx="428" cy="260" r="3.65" fill="#E41A1C"/>
<circle cx="511" cy="251.4" r="3.65" fill="#E41A1C"/>
<circle cx="515.7" cy="258.9" r="3.65" fill="#E41A1C"/>
<circle cx="554.4" cy="248.7" r="3.65" fill="#E41A1C"/>
<circle cx="546.4" cy="256.5" r="3.65" fill="#E41A1C"/>
<circle cx="572.3" cy="256.5" r="3.65" fill="#E41A1C"/>
<circle cx="580.7" cy="259.2" r="3.65" fill="#E41A1C"/>
<circle cx="558.4" cy="268.4" r="3.65" fill="#E41A1C"/>
<circle cx="602.8" cy="268.4" r="3.65" fill="#E41A1C"/>
<circle cx="627.4" cy="275" r="3.65" fill="#E41A1C"/>
<circle cx="638.4" cy="266.8" r="3.65" fill="#E41A1C"/>
<circle cx="480" cy="273.5" r="3.65" fill="#E41A1C"/>
<circle cx="484.2" cy="307.6" r="3.65" fill="#E41A1C"/>
<circle cx="878.9" cy="104.1" r="3.65" fill="#377EB8"/>
<circle cx="857.7" cy="110.7" r="3.65" fill="#377EB8"/>
<circle cx="922.3" cy="104.1" r="3.65" fill="#377EB8"/>
<circle cx="962.5" cy="188.9" r="3.65" fill="#377EB8"/>
<circle cx="1007.1" cy="178.4" r="3.65" fill="#377EB8"/>
<circle cx="866.3" cy="182.6" r="3.65" fill="#377EB8"/>
<circle cx="897.8" cy="188.9" r="3.65" fill="#377EB8"/>
<circle cx="930.3" cy="194" r="3.65" fill="#377EB8"/>
<circle cx="987.8" cy="196.6" r="3.65" fill="#377EB8"/>
<circle cx="872.5" cy="211" r="3.65" fill="#377EB8"/>
<circle cx="953.3" cy="209.6" r="3.65" fill="#377EB8"/>
<circle cx="850.3" cy="222.4" r="3.65" fill="#377EB8"/>
<circle cx="857.5" cy="224" r="3.65" fill="#377EB8"/>
<circle cx="915.5" cy="220" r="3.65" fill="#377EB8"/>
<circle cx="1039" cy="216.5" r="3.65" fill="#377EB8"/>
<circle cx="1003.4" cy="223.6" r="3.65" fill="#377EB8"/>
<circle cx="1001.4" cy="229" r="3.65" fill="#377EB8"/>
<circle cx="934.8" cy="225" r="3.65" fill="#377EB8"/>
<circle cx="933.7" cy="230.6" r="3.65" fill="#377EB8"/>
<circle cx="889.8" cy="230.2" r="3.65" fill="#377EB8"/>
<circle cx="879" cy="241" r="3.65" fill="#377EB8"/>
<circle cx="890" cy="250.1" r="3.65" fill="#377EB8"/>
<circle cx="897.6" cy="280.2" r="3.65" fill="#377EB8"/>
<circle cx="971.7" cy="254.1" r="3.65" fill="#377EB8"/>
<circle cx="999.5" cy="275" r="3.65" fill="#377EB8"/>
<circle cx="1050.8" cy="336.2" r="3.65" fill="#377EB8"/>
<circle cx="1096.3" cy="354.7" r="3.65" fill="#377EB8"/>
<circle cx="996.3" cy="380.6" r="3.65" fill="#377EB8"/>
<circle cx="886.5" cy="61" r="3.65" fill="#E41A1C"/>
<circle cx="1067.2" cy="81.8" r="3.65" fill="#E41A1C"/>
<circle cx="1011.9" cy="93.6" r="3.65" fill="#E41A1C"/>
<circle cx="900.6" cy="98.9" r="3.65" fill="#E41A1C"/>
<circle cx="827.1" cy="105.4" r="3.65" fill="#E41A1C"/>
<circle cx="951.3" cy="117.2" r="3.65" fill="#E41A1C"/>
<circle cx="925.2" cy="134" r="3.65" fill="#E41A1C"/>
<circle cx="900" cy="147.3" r="3.65" fill="#E41A1C"/>
<circle cx="952.7" cy="145.8" r="3.65" fill="#E41A1C"/>
<circle cx="920.9" cy="152.5" r="3.65" fill="#E41A1C"/>
<circle cx="848.2" cy="161.4" r="3.65" fill="#E41A1C"/>
<circle cx="1032.3" cy="156.1" r="3.65" fill="#E41A1C"/>
<circle cx="918.5" cy="182.2" r="3.65" fill="#E41A1C"/>
<circle cx="1026.6" cy="179.7" r="3.65" fill="#E41A1C"/>
<circle cx="1058.4" cy="183.5" r="3.65" fill="#E41A1C"/>
<circle cx="1180.4" cy="173.1" r="3.65" fill="#E41A1C"/>
<circle cx="803.1" cy="208.3" r="3.65" fill="#E41A1C"/>
<circle cx="905.6" cy="191.4" r="3.65" fill="#E41A1C"/>
<circle cx="917.5" cy="196.2" r="3.65" fill="#E41A1C"/>
<circle cx="924.2" cy="195.8" r="3.65" fill="#E41A1C"/>
<circle cx="823.6" cy="192.1" r="3.65" fill="#E41A1C"/>
<circle cx="874.2" cy="196.2" r="3.65" fill="#E41A1C"/>
<circle cx="881.6" cy="197.6" r="3.65" fill="#E41A1C"/>
<circle cx="898" cy="203.8" r="3.65" fill="#E41A1C"/>
<circle cx="940.3" cy="208.4" r="3.65" fill="#E41A1C"/>
<circle cx="979.2" cy="206.8" r="3.65" fill="#E41A1C"/>
<circle cx="1100.5" cy="228" r="3.65" fill="#E41A1C"/>
<circle cx="877" cy="218.8" r="3.65" fill="#E41A1C"/>
<circle cx="978" cy="217.3" r="3.65" fill="#E41A1C"/>
<circle cx="990.8" cy="217.3" r="3.65" fill="#E41A1C"/>
<circle cx="1095" cy="218.2" r="3.65" fill="#E41A1C"/>
<circle cx="1011.3" cy="226.4" r="3.65" fill="#E41A1C"/>
<circle cx="988.5" cy="226.5" r="3.65" fill="#E41A1C"/>
<circle cx="994.2" cy="231.8" r="3.65" fill="#E41A1C"/>
<circle cx="865.2" cy="230.2" r="3.65" fill="#E41A1C"/>
<circle cx="897.1" cy="228" r="3.65" fill="#E41A1C"/>
<circle cx="893.2" cy="234.4" r="3.65" fill="#E41A1C"/>
<circle cx="906" cy="230.2" r="3.65" fill="#E41A1C"/>
<circle cx="930.5" cy="243.4" r="3.65" fill="#E41A1C"/>
<circle cx="927.6" cy="250.2" r="3.65" fill="#E41A1C"/>
<circle cx="940.3" cy="251.3" r="3.65" fill="#E41A1C"/>
<circle cx="944.7" cy="248.8" r="3.65" fill="#E41A1C"/>
<circle cx="975.9" cy="259" r="3.65" fill="#E41A1C"/>
<circle cx="992.9" cy="256.4" r="3.65" fill="#E41A1C"/>
<circle cx="991.8" cy="260.5" r="3.65" fill="#E41A1C"/>
<circle cx="1012.9" cy="259.2" r="3.65" fill="#E41A1C"/>
<circle cx="1019.2" cy="275" r="3.65" fill="#E41A1C"/>
<circle cx="936.8" cy="268.4" r="3.65" fill="#E41A1C"/>
<circle cx="973.6" cy="268.4" r="3.65" fill="#E41A1C"/>
<circle cx="901.6" cy="273.4" r="3.65" fill="#E41A1C"/>
<circle cx="989.2" cy="307.6" r="3.65" fill="#E41A1C"/>
<circle cx="1109.5" cy="266.8" r="3.65" fill="#E41A1C"/>
<path d="M396.5,148.5 L403.3,152.4 L410,156.2 L416.8,160 L423.5,163.7 L430.3,167.4 L437,171 L443.8,174.5 L450.5,177.8 L457.3,181.1 L464,184.3 L470.8,187.3 L477.5,190.1 L484.3,192.8 L491,195.3 L497.8,197.6 L504.5,199.7 L511.3,201.6 L518,203.3 L524.8,204.9 L531.5,206.3 L538.3,207.5 L545.1,208.6 L551.8,209.5 L558.6,210.4 L565.3,211.1 L572.1,211.8 L578.8,212.4 L585.6,212.9 L592.3,213.4 L599.1,213.8 L605.8,214.2 L612.6,214.5 L619.3,214.8 L626.1,215.1 L632.8,215.4 L639.6,215.6 L646.3,215.8 L653.1,216 L659.8,216.2 L666.6,216.3 L666.6,334.9 L659.8,330.8 L653.1,326.6 L646.3,322.6 L639.6,318.5 L632.8,314.4 L626.1,310.4 L619.3,306.4 L612.6,302.4 L605.8,298.5 L599.1,294.6 L592.3,290.7 L585.6,286.9 L578.8,283.2 L572.1,279.5 L565.3,275.9 L558.6,272.3 L551.8,268.9 L545.1,265.6 L538.3,262.4 L531.5,259.3 L524.8,256.4 L518,253.7 L511.3,251.1 L504.5,248.8 L497.8,246.6 L491,244.6 L484.3,242.8 L477.5,241.2 L470.8,239.8 L464,238.5 L457.3,237.4 L450.5,236.4 L443.8,235.5 L437,234.7 L430.3,234 L423.5,233.4 L416.8,232.9 L410,232.4 L403.3,231.9 L396.5,231.5Z" fill="#999" fill-opacity="0.4"/>
<line x1="396.5" y1="190" x2="666.6" y2="275.6" stroke="#377EB8" stroke-width="5"/>
<path d="M385,186 L393.1,186.6 L401.3,187.1 L409.4,187.6 L417.5,188.1 L425.6,188.6 L433.8,189 L441.9,189.3 L450,189.7 L458.1,189.9 L466.3,190.1 L474.4,190.2 L482.5,190.3 L490.7,190.2 L498.8,190 L506.9,189.6 L515,189.2 L523.2,188.5 L531.3,187.8 L539.4,186.8 L547.5,185.7 L555.7,184.4 L563.8,183 L571.9,181.5 L580.1,179.8 L588.2,178.1 L596.3,176.2 L604.4,174.3 L612.6,172.3 L620.7,170.2 L628.8,168.1 L637,166 L645.1,163.8 L653.2,161.6 L661.3,159.3 L669.5,157 L677.6,154.8 L685.7,152.4 L693.8,150.1 L702,147.8 L710.1,145.4 L710.1,225.4 L702,224.8 L693.8,224.2 L685.7,223.6 L677.6,223 L669.5,222.4 L661.3,221.9 L653.2,221.3 L645.1,220.9 L637,220.4 L628.8,220 L620.7,219.6 L612.6,219.3 L604.4,219 L596.3,218.8 L588.2,218.7 L580.1,218.7 L571.9,218.7 L563.8,218.9 L555.7,219.2 L547.5,219.7 L539.4,220.3 L531.3,221.1 L523.2,222 L515,223.1 L506.9,224.4 L498.8,225.8 L490.7,227.3 L482.5,229 L474.4,230.7 L466.3,232.6 L458.1,234.5 L450,236.5 L441.9,238.5 L433.8,240.6 L425.6,242.8 L417.5,245 L409.4,247.2 L401.3,249.4 L393.1,251.7 L385,254Z" fill="#999" fill-opacity="0.4"/>
<line x1="385" y1="220" x2="710.1" y2="185.4" stroke="#E41A1C" stroke-width="5"/>
<path d="M850.7,141.9 L856.8,146.6 L863,151.3 L869.1,156 L875.3,160.6 L881.4,165.1 L887.5,169.6 L893.7,174 L899.8,178.3 L906,182.4 L912.1,186.5 L918.2,190.4 L924.4,194.2 L930.5,197.8 L936.7,201.1 L942.8,204.3 L948.9,207.3 L955.1,210.1 L961.2,212.7 L967.4,215.1 L973.5,217.3 L979.6,219.4 L985.8,221.4 L991.9,223.2 L998.1,225 L1004.2,226.6 L1010.3,228.2 L1016.5,229.8 L1022.6,231.2 L1028.8,232.7 L1034.9,234.1 L1041,235.5 L1047.2,236.8 L1053.3,238.1 L1059.5,239.4 L1065.6,240.7 L1071.7,241.9 L1077.9,243.2 L1084,244.4 L1090.2,245.6 L1096.3,246.8 L1096.3,353.6 L1090.2,348.7 L1084,343.8 L1077.9,338.9 L1071.7,334 L1065.6,329.1 L1059.5,324.3 L1053.3,319.5 L1047.2,314.6 L1041,309.9 L1034.9,305.1 L1028.8,300.4 L1022.6,295.7 L1016.5,291.1 L1010.3,286.5 L1004.2,282 L998.1,277.5 L991.9,273.2 L985.8,268.9 L979.6,264.7 L973.5,260.7 L967.4,256.8 L961.2,253.1 L955.1,249.5 L948.9,246.2 L942.8,243.1 L936.7,240.1 L930.5,237.4 L924.4,234.9 L918.2,232.5 L912.1,230.3 L906,228.2 L899.8,226.3 L893.7,224.5 L887.5,222.8 L881.4,221.1 L875.3,219.5 L869.1,218 L863,216.5 L856.8,215.1 L850.7,213.7Z" fill="#999" fill-opacity="0.4"/>
<line x1="850.7" y1="177.8" x2="1096.3" y2="300.2" stroke="#377EB8" stroke-width="5"/>
<path d="M803.1,154.9 L812.5,157.5 L821.9,160.1 L831.4,162.7 L840.8,165.2 L850.2,167.7 L859.6,170.2 L869.1,172.6 L878.5,174.9 L887.9,177.1 L897.3,179.3 L906.7,181.3 L916.2,183.2 L925.6,184.9 L935,186.4 L944.4,187.7 L953.9,188.9 L963.3,189.7 L972.7,190.4 L982.1,190.9 L991.5,191.1 L1001,191.2 L1010.4,191.2 L1019.8,191.1 L1029.2,190.8 L1038.7,190.5 L1048.1,190.1 L1057.5,189.6 L1066.9,189.1 L1076.4,188.6 L1085.8,188 L1095.2,187.4 L1104.6,186.7 L1114,186 L1123.5,185.4 L1132.9,184.7 L1142.3,184 L1151.7,183.2 L1161.2,182.5 L1170.6,181.7 L1180,181 L1180,275 L1170.6,272.3 L1161.2,269.5 L1151.7,266.8 L1142.3,264.1 L1132.9,261.4 L1123.5,258.7 L1114,256.1 L1104.6,253.4 L1095.2,250.8 L1085.8,248.2 L1076.4,245.6 L1066.9,243.1 L1057.5,240.6 L1048.1,238.1 L1038.7,235.7 L1029.2,233.4 L1019.8,231.2 L1010.4,229.1 L1001,227 L991.5,225.2 L982.1,223.5 L972.7,221.9 L963.3,220.6 L953.9,219.5 L944.4,218.6 L935,218 L925.6,217.5 L916.2,217.2 L906.7,217.1 L897.3,217.2 L887.9,217.3 L878.5,217.6 L869.1,217.9 L859.6,218.3 L850.2,218.8 L840.8,219.3 L831.4,219.9 L821.9,220.4 L812.5,221.1 L803.1,221.7Z" fill="#999" fill-opacity="0.4"/>
<line x1="803.1" y1="188.3" x2="1180" y2="228" stroke="#E41A1C" stroke-width="5"/>
<line x1="356" y1="396.5" x2="771" y2="396.5" stroke="#1a1a1a" stroke-width="1.5"/>
<line x1="374.4" y1="396.5" x2="374.4" y2="402.8" stroke="#1a1a1a" stroke-width="1.8"/>
<text x="374.4" y="423.1" font-size="19.3" text-anchor="middle" fill="#1a1a1a" transform="matrix(1,0,0,1.06,0,-25.39)">-2</text>
<line x1="446.9" y1="396.5" x2="446.9" y2="402.8" stroke="#1a1a1a" stroke-width="1.8"/>
<text x="446.9" y="423.1" font-size="19.3" text-anchor="middle" fill="#1a1a1a" transform="matrix(1,0,0,1.06,0,-25.39)">-1</text>
<line x1="519.5" y1="396.5" x2="519.5" y2="402.8" stroke="#1a1a1a" stroke-width="1.8"/>
<text x="519.5" y="423.1" font-size="19.3" text-anchor="middle" fill="#1a1a1a" transform="matrix(1,0,0,1.06,0,-25.39)">0</text>
<line x1="592" y1="396.5" x2="592" y2="402.8" stroke="#1a1a1a" stroke-width="1.8"/>
<text x="592" y="423.1" font-size="19.3" text-anchor="middle" fill="#1a1a1a" transform="matrix(1,0,0,1.06,0,-25.39)">1</text>
<line x1="664.6" y1="396.5" x2="664.6" y2="402.8" stroke="#1a1a1a" stroke-width="1.8"/>
<text x="664.6" y="423.1" font-size="19.3" text-anchor="middle" fill="#1a1a1a" transform="matrix(1,0,0,1.06,0,-25.39)">2</text>
<line x1="737.1" y1="396.5" x2="737.1" y2="402.8" stroke="#1a1a1a" stroke-width="1.8"/>
<text x="737.1" y="423.1" font-size="19.3" text-anchor="middle" fill="#1a1a1a" transform="matrix(1,0,0,1.06,0,-25.39)">3</text>
<line x1="356.3" y1="45" x2="356.3" y2="397.2" stroke="#1a1a1a" stroke-width="1.5"/>
<line x1="350" y1="143.2" x2="356.3" y2="143.2" stroke="#1a1a1a" stroke-width="1.8"/>
<text x="344.6" y="150.6" font-size="19.3" text-anchor="end" fill="#1a1a1a" transform="matrix(1,0,0,1.06,0,-9.04)">3</text>
<line x1="350" y1="273" x2="356.3" y2="273" stroke="#1a1a1a" stroke-width="1.8"/>
<text x="344.6" y="280.4" font-size="19.3" text-anchor="end" fill="#1a1a1a" transform="matrix(1,0,0,1.06,0,-16.82)">2</text>
<line x1="784" y1="396.5" x2="1199" y2="396.5" stroke="#1a1a1a" stroke-width="1.5"/>
<line x1="802.5" y1="396.5" x2="802.5" y2="402.8" stroke="#1a1a1a" stroke-width="1.8"/>
<text x="802.5" y="423.1" font-size="19.3" text-anchor="middle" fill="#1a1a1a" transform="matrix(1,0,0,1.06,0,-25.39)">-2</text>
<line x1="875.1" y1="396.5" x2="875.1" y2="402.8" stroke="#1a1a1a" stroke-width="1.8"/>
<text x="875.1" y="423.1" font-size="19.3" text-anchor="middle" fill="#1a1a1a" transform="matrix(1,0,0,1.06,0,-25.39)">-1</text>
<line x1="947.7" y1="396.5" x2="947.7" y2="402.8" stroke="#1a1a1a" stroke-width="1.8"/>
<text x="947.7" y="423.1" font-size="19.3" text-anchor="middle" fill="#1a1a1a" transform="matrix(1,0,0,1.06,0,-25.39)">0</text>
<line x1="1020.2" y1="396.5" x2="1020.2" y2="402.8" stroke="#1a1a1a" stroke-width="1.8"/>
<text x="1020.2" y="423.1" font-size="19.3" text-anchor="middle" fill="#1a1a1a" transform="matrix(1,0,0,1.06,0,-25.39)">1</text>
<line x1="1092.8" y1="396.5" x2="1092.8" y2="402.8" stroke="#1a1a1a" stroke-width="1.8"/>
<text x="1092.8" y="423.1" font-size="19.3" text-anchor="middle" fill="#1a1a1a" transform="matrix(1,0,0,1.06,0,-25.39)">2</text>
<line x1="1165.4" y1="396.5" x2="1165.4" y2="402.8" stroke="#1a1a1a" stroke-width="1.8"/>
<text x="1165.4" y="423.1" font-size="19.3" text-anchor="middle" fill="#1a1a1a" transform="matrix(1,0,0,1.06,0,-25.39)">3</text>
<text transform="translate(314.5,220.8) rotate(-90)" font-size="26" text-anchor="middle" fill="#1a1a1a">Choline</text>
<text x="777.3" y="460.1" font-size="26" text-anchor="middle" fill="#1a1a1a" transform="matrix(1,0,0,1.06,0,-27.61)">qT1 (Z-scores)</text>
<text x="558.7" y="506.8" font-size="26" fill="#1a1a1a" transform="matrix(1,0,0,1.06,0,-30.41)">DX</text>
<rect x="608.3" y="485.2" width="7.5" height="19.5" fill="#d6d6d6"/>
<circle cx="612" cy="495.3" r="3.4" fill="#377EB8"/>
<text x="627.6" y="503" font-size="21" fill="#1a1a1a" transform="matrix(1,0,0,1.06,0,-30.18)">Healthy Control</text>
<rect x="784.7" y="485.2" width="7.5" height="19.5" fill="#d6d6d6"/>
<circle cx="788.4" cy="495.3" r="3.4" fill="#E41A1C"/>
<text x="804.4" y="503" font-size="21" fill="#1a1a1a" transform="matrix(1,0,0,1.06,0,-30.18)">First Episode Patient</text>
<rect x="60.1" y="535.8" width="172.4" height="33.6" fill="#efefef"/>
<text x="146.3" y="559.6" font-size="17" text-anchor="middle" fill="#1a1a1a" transform="matrix(1,0,0,1.06,0,-33.58)">qT1</text>
<line x1="60.1" y1="857.8" x2="232.5" y2="857.8" stroke="#eeeeee" stroke-width="2.2"/>
<line x1="60.1" y1="798.9" x2="232.5" y2="798.9" stroke="#eeeeee" stroke-width="2.2"/>
<line x1="60.1" y1="740" x2="232.5" y2="740" stroke="#eeeeee" stroke-width="2.2"/>
<line x1="60.1" y1="681.1" x2="232.5" y2="681.1" stroke="#eeeeee" stroke-width="2.2"/>
<line x1="60.1" y1="622.2" x2="232.5" y2="622.2" stroke="#eeeeee" stroke-width="2.2"/>
<rect x="245.1" y="535.8" width="172.3" height="33.6" fill="#efefef"/>
<text x="331.2" y="559.6" font-size="17" text-anchor="middle" fill="#1a1a1a" transform="matrix(1,0,0,1.06,0,-33.58)">AD</text>
<line x1="245.1" y1="857.8" x2="417.4" y2="857.8" stroke="#eeeeee" stroke-width="2.2"/>
<line x1="245.1" y1="798.9" x2="417.4" y2="798.9" stroke="#eeeeee" stroke-width="2.2"/>
<line x1="245.1" y1="740" x2="417.4" y2="740" stroke="#eeeeee" stroke-width="2.2"/>
<line x1="245.1" y1="681.1" x2="417.4" y2="681.1" stroke="#eeeeee" stroke-width="2.2"/>
<line x1="245.1" y1="622.2" x2="417.4" y2="622.2" stroke="#eeeeee" stroke-width="2.2"/>
<line x1="107.2" y1="569.4" x2="107.2" y2="907.7" stroke="#eeeeee" stroke-width="2.2"/>
<line x1="185.5" y1="569.4" x2="185.5" y2="907.7" stroke="#eeeeee" stroke-width="2.2"/>
<line x1="291.8" y1="569.4" x2="291.8" y2="907.7" stroke="#eeeeee" stroke-width="2.2"/>
<line x1="370.3" y1="569.4" x2="370.3" y2="907.7" stroke="#eeeeee" stroke-width="2.2"/>
<line x1="107.2" y1="619.9" x2="107.2" y2="716.3" stroke="#377EB8" stroke-width="1.3"/>
<line x1="107.2" y1="791.9" x2="107.2" y2="840.4" stroke="#377EB8" stroke-width="1.3"/>
<rect x="77.7" y="716.3" width="59" height="75.6" fill="#fff" stroke="#377EB8" stroke-width="1.3"/>
<line x1="77.7" y1="763.8" x2="136.7" y2="763.8" stroke="#377EB8" stroke-width="2.4"/>
<line x1="185.7" y1="584.9" x2="185.7" y2="696.2" stroke="#E41A1C" stroke-width="1.3"/>
<line x1="185.7" y1="784.2" x2="185.7" y2="849.2" stroke="#E41A1C" stroke-width="1.3"/>
<rect x="156.2" y="696.2" width="59" height="88" fill="#fff" stroke="#E41A1C" stroke-width="1.3"/>
<line x1="156.2" y1="729.7" x2="215.2" y2="729.7" stroke="#E41A1C" stroke-width="2.4"/>
<line x1="291.9" y1="625.6" x2="291.9" y2="728.3" stroke="#377EB8" stroke-width="1.3"/>
<line x1="291.9" y1="774.3" x2="291.9" y2="820" stroke="#377EB8" stroke-width="1.3"/>
<rect x="262.5" y="728.3" width="58.7" height="46" fill="#fff" stroke="#377EB8" stroke-width="1.3"/>
<line x1="262.5" y1="765.5" x2="321.2" y2="765.5" stroke="#377EB8" stroke-width="2.4"/>
<line x1="370.4" y1="593.5" x2="370.4" y2="693.5" stroke="#E41A1C" stroke-width="1.3"/>
<line x1="370.4" y1="769.2" x2="370.4" y2="832.5" stroke="#E41A1C" stroke-width="1.3"/>
<rect x="340.9" y="693.5" width="59.1" height="75.7" fill="#fff" stroke="#E41A1C" stroke-width="1.3"/>
<line x1="340.9" y1="734.8" x2="400" y2="734.8" stroke="#E41A1C" stroke-width="2.4"/>
<circle cx="107.4" cy="620" r="3.05" fill="#377EB8"/>
<circle cx="115" cy="620" r="2.6" fill="#377EB8"/>
<circle cx="94.7" cy="641" r="2.6" fill="#377EB8"/>
<circle cx="107.4" cy="641" r="3.05" fill="#377EB8"/>
<circle cx="107.4" cy="694.9" r="3.05" fill="#377EB8"/>
<circle cx="122.3" cy="694.9" r="2.6" fill="#377EB8"/>
<circle cx="92.6" cy="703" r="2.6" fill="#377EB8"/>
<circle cx="107.4" cy="703" r="3.05" fill="#377EB8"/>
<circle cx="109.8" cy="703.3" r="2.6" fill="#377EB8"/>
<circle cx="107.4" cy="708.6" r="3.05" fill="#377EB8"/>
<circle cx="122.3" cy="708.6" r="2.6" fill="#377EB8"/>
<circle cx="95.5" cy="714.8" r="2.6" fill="#377EB8"/>
<circle cx="107.4" cy="714.4" r="3.05" fill="#377EB8"/>
<circle cx="122.3" cy="716.3" r="2.6" fill="#377EB8"/>
<circle cx="95.5" cy="717.3" r="2.6" fill="#377EB8"/>
<circle cx="97.9" cy="724.5" r="2.6" fill="#377EB8"/>
<circle cx="121.7" cy="724.8" r="2.6" fill="#377EB8"/>
<circle cx="118.5" cy="735.6" r="2.6" fill="#377EB8"/>
<circle cx="112.1" cy="754.7" r="2.6" fill="#377EB8"/>
<circle cx="91.5" cy="763.9" r="2.6" fill="#377EB8"/>
<circle cx="95.5" cy="771.3" r="2.6" fill="#377EB8"/>
<circle cx="107.1" cy="771.3" r="3.05" fill="#377EB8"/>
<circle cx="94.2" cy="776.1" r="2.6" fill="#377EB8"/>
<circle cx="120.1" cy="780.4" r="2.6" fill="#377EB8"/>
<circle cx="95.5" cy="784.5" r="2.6" fill="#377EB8"/>
<circle cx="119.3" cy="786" r="2.6" fill="#377EB8"/>
<circle cx="106.6" cy="792" r="3.05" fill="#377EB8"/>
<circle cx="107.1" cy="812.6" r="3.05" fill="#377EB8"/>
<circle cx="120.6" cy="813.1" r="2.6" fill="#377EB8"/>
<circle cx="97.1" cy="815.8" r="2.6" fill="#377EB8"/>
<circle cx="107.4" cy="815.8" r="3.05" fill="#377EB8"/>
<circle cx="107.1" cy="824.2" r="3.05" fill="#377EB8"/>
<circle cx="115" cy="824.2" r="2.6" fill="#377EB8"/>
<circle cx="97.4" cy="829.6" r="2.6" fill="#377EB8"/>
<circle cx="107.1" cy="829.6" r="3.05" fill="#377EB8"/>
<circle cx="107.1" cy="834.5" r="3.05" fill="#377EB8"/>
<circle cx="111.3" cy="834.5" r="2.6" fill="#377EB8"/>
<circle cx="95.8" cy="840.2" r="2.6" fill="#377EB8"/>
<circle cx="107.1" cy="840.2" r="3.05" fill="#377EB8"/>
<circle cx="170.7" cy="584.9" r="2.6" fill="#E41A1C"/>
<circle cx="185.6" cy="584.9" r="3.05" fill="#E41A1C"/>
<circle cx="185.6" cy="638" r="3.05" fill="#E41A1C"/>
<circle cx="177.2" cy="642.2" r="2.6" fill="#E41A1C"/>
<circle cx="190.7" cy="642.7" r="2.6" fill="#E41A1C"/>
<circle cx="185.6" cy="643" r="3.05" fill="#E41A1C"/>
<circle cx="176.7" cy="648.9" r="2.6" fill="#E41A1C"/>
<circle cx="175.2" cy="652" r="2.6" fill="#E41A1C"/>
<circle cx="188.3" cy="648.1" r="2.6" fill="#E41A1C"/>
<circle cx="185.6" cy="652.5" r="3.05" fill="#E41A1C"/>
<circle cx="170.1" cy="657" r="2.6" fill="#E41A1C"/>
<circle cx="185.6" cy="657" r="3.05" fill="#E41A1C"/>
<circle cx="185.6" cy="661.6" r="3.05" fill="#E41A1C"/>
<circle cx="187.5" cy="661.6" r="2.6" fill="#E41A1C"/>
<circle cx="170.4" cy="672.1" r="2.6" fill="#E41A1C"/>
<circle cx="185.6" cy="672.4" r="3.05" fill="#E41A1C"/>
<circle cx="185.6" cy="681.9" r="3.05" fill="#E41A1C"/>
<circle cx="189.1" cy="681.9" r="2.6" fill="#E41A1C"/>
<circle cx="185.6" cy="689.8" r="3.05" fill="#E41A1C"/>
<circle cx="191" cy="690.2" r="2.6" fill="#E41A1C"/>
<circle cx="185.6" cy="694.3" r="3.05" fill="#E41A1C"/>
<circle cx="194.4" cy="694.6" r="2.6" fill="#E41A1C"/>
<circle cx="176.7" cy="696.7" r="2.6" fill="#E41A1C"/>
<circle cx="187.5" cy="698.9" r="2.6" fill="#E41A1C"/>
<circle cx="200.7" cy="700.6" r="2.6" fill="#E41A1C"/>
<circle cx="186.3" cy="708.6" r="3.05" fill="#E41A1C"/>
<circle cx="175.3" cy="711.3" r="2.6" fill="#E41A1C"/>
<circle cx="184.4" cy="713.7" r="3.05" fill="#E41A1C"/>
<circle cx="181.2" cy="717.4" r="2.6" fill="#E41A1C"/>
<circle cx="188.3" cy="718.2" r="2.6" fill="#E41A1C"/>
<circle cx="180.4" cy="721.3" r="2.6" fill="#E41A1C"/>
<circle cx="197.5" cy="721.3" r="2.6" fill="#E41A1C"/>
<circle cx="198.7" cy="726.4" r="2.6" fill="#E41A1C"/>
<circle cx="170.1" cy="729" r="2.6" fill="#E41A1C"/>
<circle cx="186.7" cy="728.2" r="3.05" fill="#E41A1C"/>
<circle cx="197.9" cy="730.6" r="2.6" fill="#E41A1C"/>
<circle cx="184.7" cy="733.3" r="3.05" fill="#E41A1C"/>
<circle cx="200.2" cy="735.6" r="2.6" fill="#E41A1C"/>
<circle cx="178" cy="739.3" r="2.6" fill="#E41A1C"/>
<circle cx="170.9" cy="743.1" r="2.6" fill="#E41A1C"/>
<circle cx="180.4" cy="745.2" r="2.6" fill="#E41A1C"/>
<circle cx="197.5" cy="746.7" r="2.6" fill="#E41A1C"/>
<circle cx="182.8" cy="758.3" r="2.6" fill="#E41A1C"/>
<circle cx="170.9" cy="768.7" r="2.6" fill="#E41A1C"/>
<circle cx="183.3" cy="768.2" r="2.6" fill="#E41A1C"/>
<circle cx="186" cy="766.6" r="3.05" fill="#E41A1C"/>
<circle cx="198.2" cy="771.7" r="2.6" fill="#E41A1C"/>
<circle cx="185.2" cy="778.2" r="3.05" fill="#E41A1C"/>
<circle cx="190.2" cy="782.9" r="2.6" fill="#E41A1C"/>
<circle cx="177.7" cy="788.3" r="2.6" fill="#E41A1C"/>
<circle cx="185.2" cy="788.3" r="3.05" fill="#E41A1C"/>
<circle cx="189.1" cy="788.8" r="2.6" fill="#E41A1C"/>
<circle cx="185.5" cy="793.1" r="3.05" fill="#E41A1C"/>
<circle cx="195.5" cy="793.6" r="2.6" fill="#E41A1C"/>
<circle cx="199.4" cy="799.1" r="2.6" fill="#E41A1C"/>
<circle cx="185.2" cy="798.7" r="3.05" fill="#E41A1C"/>
<circle cx="175.6" cy="803.1" r="2.6" fill="#E41A1C"/>
<circle cx="185.5" cy="802.3" r="3.05" fill="#E41A1C"/>
<circle cx="189.9" cy="802" r="2.6" fill="#E41A1C"/>
<circle cx="194.7" cy="803.9" r="2.6" fill="#E41A1C"/>
<circle cx="182" cy="809.9" r="2.6" fill="#E41A1C"/>
<circle cx="185.5" cy="810.2" r="3.05" fill="#E41A1C"/>
<circle cx="188.3" cy="812.1" r="2.6" fill="#E41A1C"/>
<circle cx="179.6" cy="814.2" r="2.6" fill="#E41A1C"/>
<circle cx="185.5" cy="815" r="3.05" fill="#E41A1C"/>
<circle cx="174" cy="816.1" r="2.6" fill="#E41A1C"/>
<circle cx="185.5" cy="849.1" r="3.05" fill="#E41A1C"/>
<circle cx="199.1" cy="849.1" r="2.6" fill="#E41A1C"/>
<circle cx="281.6" cy="625.6" r="2.6" fill="#377EB8"/>
<circle cx="291.9" cy="625.6" r="3.05" fill="#377EB8"/>
<circle cx="291.6" cy="673.7" r="3.05" fill="#377EB8"/>
<circle cx="297.5" cy="673.7" r="2.6" fill="#377EB8"/>
<circle cx="278.9" cy="697" r="2.6" fill="#377EB8"/>
<circle cx="291.9" cy="697" r="3.05" fill="#377EB8"/>
<circle cx="289.2" cy="717.6" r="2.6" fill="#377EB8"/>
<circle cx="292.4" cy="717.6" r="3.05" fill="#377EB8"/>
<circle cx="291.9" cy="722.8" r="3.05" fill="#377EB8"/>
<circle cx="291.9" cy="725.2" r="3.05" fill="#377EB8"/>
<circle cx="302.7" cy="723.2" r="2.6" fill="#377EB8"/>
<circle cx="287" cy="728.3" r="2.6" fill="#377EB8"/>
<circle cx="291.5" cy="732.2" r="3.05" fill="#377EB8"/>
<circle cx="296.4" cy="734.6" r="2.6" fill="#377EB8"/>
<circle cx="295.8" cy="737.9" r="2.6" fill="#377EB8"/>
<circle cx="302.3" cy="743.8" r="2.6" fill="#377EB8"/>
<circle cx="300.3" cy="746.3" r="2.6" fill="#377EB8"/>
<circle cx="291.9" cy="765.5" r="3.05" fill="#377EB8"/>
<circle cx="298.8" cy="767.9" r="2.6" fill="#377EB8"/>
<circle cx="304.6" cy="768.9" r="2.6" fill="#377EB8"/>
<circle cx="306.6" cy="769.4" r="2.6" fill="#377EB8"/>
<circle cx="287.6" cy="770.4" r="2.6" fill="#377EB8"/>
<circle cx="289" cy="773.8" r="2.6" fill="#377EB8"/>
<circle cx="292.9" cy="773.4" r="3.05" fill="#377EB8"/>
<circle cx="291.3" cy="774.7" r="3.05" fill="#377EB8"/>
<circle cx="290.9" cy="805.5" r="3.05" fill="#377EB8"/>
<circle cx="292.9" cy="805.5" r="3.05" fill="#377EB8"/>
<circle cx="287.6" cy="813.9" r="2.6" fill="#377EB8"/>
<circle cx="292.5" cy="812.9" r="3.05" fill="#377EB8"/>
<circle cx="281.1" cy="819.8" r="2.6" fill="#377EB8"/>
<circle cx="291.9" cy="820.2" r="3.05" fill="#377EB8"/>
<circle cx="291.9" cy="854.1" r="3.05" fill="#377EB8"/>
<circle cx="284.7" cy="868.7" r="2.6" fill="#377EB8"/>
<circle cx="291.9" cy="868.7" r="3.05" fill="#377EB8"/>
<circle cx="370.5" cy="593.5" r="3.05" fill="#E41A1C"/>
<circle cx="373.3" cy="593.5" r="2.6" fill="#E41A1C"/>
<circle cx="367.8" cy="612.1" r="2.6" fill="#E41A1C"/>
<circle cx="371" cy="612.1" r="3.05" fill="#E41A1C"/>
<circle cx="367.8" cy="635.1" r="2.6" fill="#E41A1C"/>
<circle cx="371" cy="635.1" r="3.05" fill="#E41A1C"/>
<circle cx="370.5" cy="639.8" r="3.05" fill="#E41A1C"/>
<circle cx="372.5" cy="639.8" r="2.6" fill="#E41A1C"/>
<circle cx="370.5" cy="646.7" r="3.05" fill="#E41A1C"/>
<circle cx="373.3" cy="646.7" r="2.6" fill="#E41A1C"/>
<circle cx="355.4" cy="661.3" r="2.6" fill="#E41A1C"/>
<circle cx="370.2" cy="661.3" r="3.05" fill="#E41A1C"/>
<circle cx="382.5" cy="663.3" r="2.6" fill="#E41A1C"/>
<circle cx="370.2" cy="664.5" r="3.05" fill="#E41A1C"/>
<circle cx="359.5" cy="668.9" r="2.6" fill="#E41A1C"/>
<circle cx="370.2" cy="669.2" r="3.05" fill="#E41A1C"/>
<circle cx="370.2" cy="672.4" r="3.05" fill="#E41A1C"/>
<circle cx="376.8" cy="672.5" r="2.6" fill="#E41A1C"/>
<circle cx="370.2" cy="681.9" r="3.05" fill="#E41A1C"/>
<circle cx="372.5" cy="683.5" r="2.6" fill="#E41A1C"/>
<circle cx="384.4" cy="682.4" r="2.6" fill="#E41A1C"/>
<circle cx="355.4" cy="686.3" r="2.6" fill="#E41A1C"/>
<circle cx="370.2" cy="686.3" r="3.05" fill="#E41A1C"/>
<circle cx="370.2" cy="692.2" r="3.05" fill="#E41A1C"/>
<circle cx="370.2" cy="695.4" r="3.05" fill="#E41A1C"/>
<circle cx="382.9" cy="692.2" r="2.6" fill="#E41A1C"/>
<circle cx="359.8" cy="702.5" r="2.6" fill="#E41A1C"/>
<circle cx="362.5" cy="702.5" r="2.6" fill="#E41A1C"/>
<circle cx="374.6" cy="701" r="2.6" fill="#E41A1C"/>
<circle cx="381" cy="705.9" r="2.6" fill="#E41A1C"/>
<circle cx="369.7" cy="712.5" r="3.05" fill="#E41A1C"/>
<circle cx="377.3" cy="715.6" r="2.6" fill="#E41A1C"/>
<circle cx="381.7" cy="717.9" r="2.6" fill="#E41A1C"/>
<circle cx="357.1" cy="719.5" r="2.6" fill="#E41A1C"/>
<circle cx="377.1" cy="716" r="2.6" fill="#E41A1C"/>
<circle cx="382" cy="718.3" r="2.6" fill="#E41A1C"/>
<circle cx="357.5" cy="720.5" r="2.6" fill="#E41A1C"/>
<circle cx="366.3" cy="725.2" r="2.6" fill="#E41A1C"/>
<circle cx="381" cy="724.8" r="2.6" fill="#E41A1C"/>
<circle cx="357.9" cy="734.6" r="2.6" fill="#E41A1C"/>
<circle cx="384" cy="738.9" r="2.6" fill="#E41A1C"/>
<circle cx="356.9" cy="745.7" r="2.6" fill="#E41A1C"/>
<circle cx="377.1" cy="745.4" r="2.6" fill="#E41A1C"/>
<circle cx="376.5" cy="747.3" r="2.6" fill="#E41A1C"/>
<circle cx="371.8" cy="751.8" r="3.05" fill="#E41A1C"/>
<circle cx="376.7" cy="757.5" r="2.6" fill="#E41A1C"/>
<circle cx="358.9" cy="762" r="2.6" fill="#E41A1C"/>
<circle cx="358.9" cy="769.4" r="2.6" fill="#E41A1C"/>
<circle cx="364" cy="766.9" r="2.6" fill="#E41A1C"/>
<circle cx="380.6" cy="766.3" r="2.6" fill="#E41A1C"/>
<circle cx="385.3" cy="769.4" r="2.6" fill="#E41A1C"/>
<circle cx="370.2" cy="771.8" r="3.05" fill="#E41A1C"/>
<circle cx="370.2" cy="775.7" r="3.05" fill="#E41A1C"/>
<circle cx="370.2" cy="779.5" r="3.05" fill="#E41A1C"/>
<circle cx="370.2" cy="783.5" r="3.05" fill="#E41A1C"/>
<circle cx="381" cy="774.7" r="2.6" fill="#E41A1C"/>
<circle cx="384" cy="777.3" r="2.6" fill="#E41A1C"/>
<circle cx="381.4" cy="783" r="2.6" fill="#E41A1C"/>
<circle cx="383" cy="784.5" r="2.6" fill="#E41A1C"/>
<circle cx="360.4" cy="798.2" r="2.6" fill="#E41A1C"/>
<circle cx="370.2" cy="798.2" r="3.05" fill="#E41A1C"/>
<circle cx="371.8" cy="799.2" r="3.05" fill="#E41A1C"/>
<circle cx="370.2" cy="813.9" r="3.05" fill="#E41A1C"/>
<circle cx="373.2" cy="813.9" r="2.6" fill="#E41A1C"/>
<circle cx="370.2" cy="819.2" r="3.05" fill="#E41A1C"/>
<circle cx="364" cy="827" r="2.6" fill="#E41A1C"/>
<circle cx="370.2" cy="826.6" r="3.05" fill="#E41A1C"/>
<circle cx="370.2" cy="832.5" r="3.05" fill="#E41A1C"/>
<circle cx="381.4" cy="832.5" r="2.6" fill="#E41A1C"/>
<circle cx="370.2" cy="892.8" r="3.05" fill="#E41A1C"/>
<circle cx="375.1" cy="892.8" r="2.6" fill="#E41A1C"/>
<line x1="60" y1="569.4" x2="60" y2="908.4" stroke="#3a3a3a" stroke-width="1.5"/>
<line x1="59.3" y1="907.7" x2="232.5" y2="907.7" stroke="#3a3a3a" stroke-width="1.5"/>
<line x1="245.1" y1="907.7" x2="417.4" y2="907.7" stroke="#3a3a3a" stroke-width="1.5"/>
<text x="50.1" y="628.3" font-size="16.2" text-anchor="end" fill="#1a1a1a" transform="matrix(1,0,0,1.06,0,-37.70)">2</text>
<text x="50.1" y="687.2" font-size="16.2" text-anchor="end" fill="#1a1a1a" transform="matrix(1,0,0,1.06,0,-41.23)">1</text>
<text x="50.1" y="746.1" font-size="16.2" text-anchor="end" fill="#1a1a1a" transform="matrix(1,0,0,1.06,0,-44.77)">0</text>
<text x="50.1" y="805" font-size="16.2" text-anchor="end" fill="#1a1a1a" transform="matrix(1,0,0,1.06,0,-48.30)">-1</text>
<text x="50.1" y="863.9" font-size="16.2" text-anchor="end" fill="#1a1a1a" transform="matrix(1,0,0,1.06,0,-51.83)">-2</text>
<text transform="translate(21.4,739.1) rotate(-90)" font-size="21.5" text-anchor="middle" fill="#1a1a1a">Z-score</text>
<line x1="78" y1="927" x2="78" y2="941" stroke="#377EB8" stroke-width="1.2"/>
<rect x="75" y="929.5" width="6" height="9.5" fill="#fff" stroke="#377EB8" stroke-width="1.2"/>
<line x1="75" y1="934.2" x2="81" y2="934.2" stroke="#377EB8" stroke-width="1.8"/>
<circle cx="78" cy="934.2" r="2.3" fill="#377EB8"/>
<line x1="224.4" y1="927" x2="224.4" y2="941" stroke="#E41A1C" stroke-width="1.2"/>
<rect x="221.4" y="929.5" width="6" height="9.5" fill="#fff" stroke="#E41A1C" stroke-width="1.2"/>
<line x1="221.4" y1="934.2" x2="227.4" y2="934.2" stroke="#E41A1C" stroke-width="1.8"/>
<circle cx="224.4" cy="934.2" r="2.3" fill="#E41A1C"/>
<text x="91.6" y="940.8" font-size="17.45" fill="#1a1a1a" transform="matrix(1,0,0,1.06,0,-56.45)">Healthy Control</text>
<text x="238" y="940.8" font-size="17.45" fill="#1a1a1a" transform="matrix(1,0,0,1.06,0,-56.45)">First Episode Patient</text>
<text x="4.9" y="570.6" font-size="44.5" font-weight="bold" fill="#000">b</text>
<line x1="506.3" y1="803.5" x2="814.7" y2="803.5" stroke="#eeeeee" stroke-width="2"/>
<line x1="506.3" y1="701.8" x2="814.7" y2="701.8" stroke="#eeeeee" stroke-width="2"/>
<line x1="506.3" y1="600.1" x2="814.7" y2="600.1" stroke="#eeeeee" stroke-width="2"/>
<line x1="557.9" y1="598.5" x2="557.9" y2="894.6" stroke="#eeeeee" stroke-width="2"/>
<line x1="618.5" y1="598.5" x2="618.5" y2="894.6" stroke="#eeeeee" stroke-width="2"/>
<line x1="679.1" y1="598.5" x2="679.1" y2="894.6" stroke="#eeeeee" stroke-width="2"/>
<line x1="739.7" y1="598.5" x2="739.7" y2="894.6" stroke="#eeeeee" stroke-width="2"/>
<line x1="800.4" y1="598.5" x2="800.4" y2="894.6" stroke="#eeeeee" stroke-width="2"/>
<circle cx="607.5" cy="646.2" r="2.5" fill="#000"/>
<circle cx="744.2" cy="636.2" r="2.5" fill="#000"/>
<circle cx="683.1" cy="658.1" r="2.5" fill="#000"/>
<circle cx="666.3" cy="676.8" r="2.5" fill="#000"/>
<circle cx="610.1" cy="703.6" r="2.5" fill="#000"/>
<circle cx="609.8" cy="707.3" r="2.5" fill="#000"/>
<circle cx="637.8" cy="719.3" r="2.5" fill="#000"/>
<circle cx="800.4" cy="700.2" r="2.5" fill="#000"/>
<circle cx="578.2" cy="728" r="2.5" fill="#000"/>
<circle cx="602.3" cy="728" r="2.5" fill="#000"/>
<circle cx="618.5" cy="741.2" r="2.5" fill="#000"/>
<circle cx="613.4" cy="748.1" r="2.5" fill="#000"/>
<circle cx="648.5" cy="741" r="2.5" fill="#000"/>
<circle cx="546.1" cy="758.3" r="2.5" fill="#000"/>
<circle cx="591.8" cy="761.5" r="2.5" fill="#000"/>
<circle cx="648.3" cy="761.8" r="2.5" fill="#000"/>
<circle cx="567.3" cy="773.4" r="2.5" fill="#000"/>
<circle cx="579.1" cy="768.8" r="2.5" fill="#000"/>
<circle cx="597.1" cy="773.4" r="2.5" fill="#000"/>
<circle cx="607.3" cy="767.4" r="2.5" fill="#000"/>
<circle cx="619.6" cy="764.7" r="2.5" fill="#000"/>
<circle cx="639.8" cy="768.9" r="2.5" fill="#000"/>
<circle cx="520" cy="789.1" r="2.5" fill="#000"/>
<circle cx="599.6" cy="792.2" r="2.5" fill="#000"/>
<circle cx="667.8" cy="779" r="2.5" fill="#000"/>
<circle cx="572.5" cy="799.3" r="2.5" fill="#000"/>
<circle cx="650.1" cy="793.7" r="2.5" fill="#000"/>
<circle cx="672.6" cy="799.5" r="2.5" fill="#000"/>
<circle cx="651.6" cy="811.2" r="2.5" fill="#000"/>
<circle cx="557.2" cy="823.1" r="2.5" fill="#000"/>
<circle cx="582.5" cy="819.8" r="2.5" fill="#000"/>
<circle cx="597.9" cy="815.7" r="2.5" fill="#000"/>
<circle cx="575.2" cy="881" r="2.5" fill="#000"/>
<path d="M520,767.8 L527,766.5 L534,765.1 L541,763.6 L548,762.2 L555.1,760.6 L562.1,759 L569.1,757.4 L576.1,755.6 L583.1,753.7 L590.1,751.6 L597.1,749.4 L604.1,746.9 L611.2,744.1 L618.2,741.1 L625.2,737.7 L632.2,734.1 L639.2,730.1 L646.2,725.9 L653.2,721.4 L660.2,716.8 L667.3,712 L674.3,707.1 L681.3,702 L688.3,696.9 L695.3,691.8 L702.3,686.5 L709.3,681.3 L716.4,676 L723.4,670.7 L730.4,665.3 L737.4,659.9 L744.4,654.5 L751.4,649.1 L758.4,643.7 L765.4,638.2 L772.5,632.8 L779.5,627.3 L786.5,621.8 L793.5,616.4 L800.5,610.9 L800.5,728.5 L793.5,729.7 L786.5,730.9 L779.5,732.2 L772.5,733.4 L765.4,734.6 L758.4,735.9 L751.4,737.1 L744.4,738.4 L737.4,739.7 L730.4,741 L723.4,742.3 L716.4,743.7 L709.3,745.1 L702.3,746.5 L695.3,748 L688.3,749.5 L681.3,751.1 L674.3,752.8 L667.3,754.5 L660.2,756.4 L653.2,758.5 L646.2,760.7 L639.2,763.2 L632.2,765.9 L625.2,768.9 L618.2,772.3 L611.2,775.9 L604.1,779.8 L597.1,784.1 L590.1,788.5 L583.1,793.1 L576.1,797.9 L569.1,802.8 L562.1,807.8 L555.1,812.9 L548,818.1 L541,823.3 L534,828.6 L527,833.9 L520,839.2Z" fill="#999" fill-opacity="0.4"/>
<line x1="520" y1="803.5" x2="800.5" y2="669.7" stroke="#3366FF" stroke-width="3.2"/>
<line x1="506.3" y1="598.5" x2="506.3" y2="895.2" stroke="#1a1a1a" stroke-width="1.3"/>
<line x1="506.3" y1="894.6" x2="814.7" y2="894.6" stroke="#1a1a1a" stroke-width="1.3"/>
<line x1="501.8" y1="803.5" x2="506.3" y2="803.5" stroke="#1a1a1a" stroke-width="1.3"/>
<text x="497.6" y="808.6" font-size="14" text-anchor="end" fill="#1a1a1a" transform="matrix(1,0,0,1.06,0,-48.52)">10</text>
<line x1="501.8" y1="701.8" x2="506.3" y2="701.8" stroke="#1a1a1a" stroke-width="1.3"/>
<text x="497.6" y="706.9" font-size="14" text-anchor="end" fill="#1a1a1a" transform="matrix(1,0,0,1.06,0,-42.41)">20</text>
<line x1="501.8" y1="600.1" x2="506.3" y2="600.1" stroke="#1a1a1a" stroke-width="1.3"/>
<text x="497.6" y="605.2" font-size="14" text-anchor="end" fill="#1a1a1a" transform="matrix(1,0,0,1.06,0,-36.31)">30</text>
<line x1="557.9" y1="894.6" x2="557.9" y2="898.9" stroke="#1a1a1a" stroke-width="1.3"/>
<text x="557.9" y="913.4" font-size="14" text-anchor="middle" fill="#1a1a1a" transform="matrix(1,0,0,1.06,0,-54.80)">-1</text>
<line x1="618.5" y1="894.6" x2="618.5" y2="898.9" stroke="#1a1a1a" stroke-width="1.3"/>
<text x="618.5" y="913.4" font-size="14" text-anchor="middle" fill="#1a1a1a" transform="matrix(1,0,0,1.06,0,-54.80)">0</text>
<line x1="679.1" y1="894.6" x2="679.1" y2="898.9" stroke="#1a1a1a" stroke-width="1.3"/>
<text x="679.1" y="913.4" font-size="14" text-anchor="middle" fill="#1a1a1a" transform="matrix(1,0,0,1.06,0,-54.80)">1</text>
<line x1="739.7" y1="894.6" x2="739.7" y2="898.9" stroke="#1a1a1a" stroke-width="1.3"/>
<text x="739.7" y="913.4" font-size="14" text-anchor="middle" fill="#1a1a1a" transform="matrix(1,0,0,1.06,0,-54.80)">2</text>
<line x1="800.4" y1="894.6" x2="800.4" y2="898.9" stroke="#1a1a1a" stroke-width="1.3"/>
<text x="800.4" y="913.4" font-size="14" text-anchor="middle" fill="#1a1a1a" transform="matrix(1,0,0,1.06,0,-54.80)">3</text>
<text x="660.5" y="937.5" font-size="17.45" text-anchor="middle" fill="#1a1a1a" transform="matrix(1,0,0,1.06,0,-56.25)">Left NBM qT1 (Z-score)</text>
<text transform="translate(471.3,745.8) rotate(-90)" font-size="17.6" text-anchor="middle" fill="#1a1a1a">Total YMRS (residual)</text>
<line x1="516.6" y1="585.3" x2="793.8" y2="585.3" stroke="#a6a6a6" stroke-width="4.6"/>
<path d="M506.6,585.3 L519.6,578.7 L519.6,591.9 Z" fill="#a6a6a6"/>
<path d="M803.8,585.3 L790.8,578.7 L790.8,591.9 Z" fill="#a6a6a6"/>
<path d="M502.2,556.0999999999999 L502.2,571.8 M498.6,561.3 L502.2,555.8 L505.8,561.3" fill="none" stroke="#1a1a1a" stroke-width="1.25"/>
<text x="511.5" y="568" font-size="19.5" fill="#1a1a1a" transform="matrix(1,0,0,1.06,0,-34.08)">Myelin,</text>
<path d="M583.8,556.0999999999999 L583.8,571.8 M580.2,561.3 L583.8,555.8 L587.4,561.3" fill="none" stroke="#1a1a1a" stroke-width="1.25"/>
<text x="593.5" y="568" font-size="19.5" fill="#1a1a1a" transform="matrix(1,0,0,1.06,0,-34.08)">ACh</text>
<path d="M673.1,555.3 L673.1,571.0 M669.5,565.8 L673.1,571.3 L676.7,565.8" fill="none" stroke="#1a1a1a" stroke-width="1.25"/>
<text x="682.5" y="568" font-size="19.5" fill="#1a1a1a" transform="matrix(1,0,0,1.06,0,-34.08)">Myelin,</text>
<path d="M755.2,555.3 L755.2,571.0 M751.6,565.8 L755.2,571.3 L758.8,565.8" fill="none" stroke="#1a1a1a" stroke-width="1.25"/>
<text x="764" y="568" font-size="19.5" fill="#1a1a1a" transform="matrix(1,0,0,1.06,0,-34.08)">Ach</text>
<path d="M884.9,556.0999999999999 L884.9,571.8 M881.3,561.3 L884.9,555.8 L888.5,561.3" fill="none" stroke="#1a1a1a" stroke-width="1.25"/>
<text x="894.7" y="568" font-size="19.5" fill="#1a1a1a" transform="matrix(1,0,0,1.06,0,-34.08)">axonal integrity</text>
<path d="M1042.8,555.3 L1042.8,571.0 M1039.2,565.8 L1042.8,571.3 L1046.4,565.8" fill="none" stroke="#1a1a1a" stroke-width="1.25"/>
<text x="1052.5" y="568" font-size="19.5" fill="#1a1a1a" transform="matrix(1,0,0,1.06,0,-34.08)">axonal integrity</text>
<text x="446.5" y="570.7" font-size="43" font-weight="bold" fill="#000">c</text>
<line x1="883.8" y1="885.2" x2="1192.4" y2="885.2" stroke="#eeeeee" stroke-width="2"/>
<line x1="883.8" y1="812.8" x2="1192.4" y2="812.8" stroke="#eeeeee" stroke-width="2"/>
<line x1="883.8" y1="740.4" x2="1192.4" y2="740.4" stroke="#eeeeee" stroke-width="2"/>
<line x1="883.8" y1="668" x2="1192.4" y2="668" stroke="#eeeeee" stroke-width="2"/>
<line x1="940.5" y1="597.3" x2="940.5" y2="894.6" stroke="#eeeeee" stroke-width="2"/>
<line x1="1009.3" y1="597.3" x2="1009.3" y2="894.6" stroke="#eeeeee" stroke-width="2"/>
<line x1="1078.1" y1="597.3" x2="1078.1" y2="894.6" stroke="#eeeeee" stroke-width="2"/>
<line x1="1146.9" y1="597.3" x2="1146.9" y2="894.6" stroke="#eeeeee" stroke-width="2"/>
<circle cx="897.5" cy="841.4" r="2.5" fill="#000"/>
<circle cx="922.8" cy="841.4" r="2.5" fill="#000"/>
<circle cx="930.7" cy="783.5" r="2.5" fill="#000"/>
<circle cx="933.5" cy="827.4" r="2.5" fill="#000"/>
<circle cx="972" cy="841.4" r="2.5" fill="#000"/>
<circle cx="994.8" cy="769" r="2.5" fill="#000"/>
<circle cx="995.5" cy="827.2" r="2.5" fill="#000"/>
<circle cx="995.3" cy="841.4" r="2.5" fill="#000"/>
<circle cx="1005.6" cy="841.4" r="2.5" fill="#000"/>
<circle cx="1025.2" cy="812.7" r="2.5" fill="#000"/>
<circle cx="1037.5" cy="841.4" r="2.5" fill="#000"/>
<circle cx="1040.4" cy="711.1" r="2.5" fill="#000"/>
<circle cx="1051.8" cy="841.4" r="2.5" fill="#000"/>
<circle cx="1057.8" cy="725.5" r="2.5" fill="#000"/>
<circle cx="1060.6" cy="769" r="2.5" fill="#000"/>
<circle cx="1060.1" cy="797.8" r="2.5" fill="#000"/>
<circle cx="1064" cy="754.5" r="2.5" fill="#000"/>
<circle cx="1067.9" cy="827" r="2.5" fill="#000"/>
<circle cx="1068.3" cy="841.4" r="2.5" fill="#000"/>
<circle cx="1070" cy="710.9" r="2.5" fill="#000"/>
<circle cx="1083.6" cy="841.4" r="2.5" fill="#000"/>
<circle cx="1089.3" cy="769" r="2.5" fill="#000"/>
<circle cx="1090.6" cy="797.8" r="2.5" fill="#000"/>
<circle cx="1092" cy="696.7" r="2.5" fill="#000"/>
<circle cx="1095.6" cy="841.4" r="2.5" fill="#000"/>
<circle cx="1098.6" cy="725.4" r="2.5" fill="#000"/>
<circle cx="1098" cy="754.6" r="2.5" fill="#000"/>
<circle cx="1101.2" cy="754.6" r="2.5" fill="#000"/>
<circle cx="1105" cy="638.9" r="2.5" fill="#000"/>
<circle cx="1116.3" cy="841.4" r="2.5" fill="#000"/>
<circle cx="1121.8" cy="841.4" r="2.5" fill="#000"/>
<circle cx="1124.8" cy="841.4" r="2.5" fill="#000"/>
<circle cx="1122.4" cy="710.9" r="2.5" fill="#000"/>
<circle cx="1124.4" cy="725.4" r="2.5" fill="#000"/>
<circle cx="1135" cy="769" r="2.5" fill="#000"/>
<circle cx="1138.2" cy="740" r="2.5" fill="#000"/>
<circle cx="1139.8" cy="667.6" r="2.5" fill="#000"/>
<circle cx="1144.7" cy="797.8" r="2.5" fill="#000"/>
<circle cx="1146.9" cy="769" r="2.5" fill="#000"/>
<circle cx="1150" cy="740" r="2.5" fill="#000"/>
<circle cx="1150.8" cy="841.4" r="2.5" fill="#000"/>
<circle cx="1156" cy="841.4" r="2.5" fill="#000"/>
<circle cx="1152.4" cy="653.2" r="2.5" fill="#000"/>
<circle cx="1172.1" cy="710.9" r="2.5" fill="#000"/>
<circle cx="1174.5" cy="783.7" r="2.5" fill="#000"/>
<circle cx="1178" cy="812.6" r="2.5" fill="#000"/>
<path d="M897.6,792.8 L904.6,792.3 L911.6,791.8 L918.6,791.3 L925.6,790.7 L932.6,790.2 L939.7,789.6 L946.7,789.1 L953.7,788.5 L960.7,787.9 L967.7,787.3 L974.7,786.7 L981.7,786 L988.7,785.3 L995.7,784.6 L1002.8,783.8 L1009.8,783 L1016.8,782.1 L1023.8,781.1 L1030.8,780.1 L1037.8,778.9 L1044.8,777.6 L1051.8,776.2 L1058.8,774.6 L1065.8,772.9 L1072.8,770.9 L1079.9,768.8 L1086.9,766.4 L1093.9,763.9 L1100.9,761.2 L1107.9,758.4 L1114.9,755.4 L1121.9,752.3 L1128.9,749.1 L1135.9,745.9 L1143,742.6 L1150,739.2 L1157,735.8 L1164,732.4 L1171,728.9 L1178,725.4 L1178,782.2 L1171,782.9 L1164,783.5 L1157,784.2 L1150,785 L1143,785.8 L1135.9,786.6 L1128.9,787.5 L1121.9,788.5 L1114.9,789.6 L1107.9,790.7 L1100.9,792 L1093.9,793.5 L1086.9,795.1 L1079.9,796.9 L1072.8,798.9 L1065.8,801.1 L1058.8,803.5 L1051.8,806.1 L1044.8,808.8 L1037.8,811.7 L1030.8,814.7 L1023.8,817.8 L1016.8,821 L1009.8,824.2 L1002.8,827.5 L995.7,830.9 L988.7,834.3 L981.7,837.8 L974.7,841.3 L967.7,844.8 L960.7,848.3 L953.7,851.9 L946.7,855.5 L939.7,859.1 L932.6,862.7 L925.6,866.3 L918.6,869.9 L911.6,873.5 L904.6,877.2 L897.6,880.8Z" fill="#999" fill-opacity="0.4"/>
<line x1="897.6" y1="836.8" x2="1178" y2="753.8" stroke="#3366FF" stroke-width="3.2"/>
<line x1="883.8" y1="597.3" x2="883.8" y2="895.2" stroke="#1a1a1a" stroke-width="1.3"/>
<line x1="883.8" y1="894.6" x2="1192.4" y2="894.6" stroke="#1a1a1a" stroke-width="1.3"/>
<line x1="879.3" y1="885.2" x2="883.8" y2="885.2" stroke="#1a1a1a" stroke-width="1.3"/>
<text x="875" y="890.3" font-size="14" text-anchor="end" fill="#1a1a1a" transform="matrix(1,0,0,1.06,0,-53.42)">0</text>
<line x1="879.3" y1="812.8" x2="883.8" y2="812.8" stroke="#1a1a1a" stroke-width="1.3"/>
<text x="875" y="817.9" font-size="14" text-anchor="end" fill="#1a1a1a" transform="matrix(1,0,0,1.06,0,-49.07)">5</text>
<line x1="879.3" y1="740.4" x2="883.8" y2="740.4" stroke="#1a1a1a" stroke-width="1.3"/>
<text x="875" y="745.5" font-size="14" text-anchor="end" fill="#1a1a1a" transform="matrix(1,0,0,1.06,0,-44.73)">10</text>
<line x1="879.3" y1="668" x2="883.8" y2="668" stroke="#1a1a1a" stroke-width="1.3"/>
<text x="875" y="673.1" font-size="14" text-anchor="end" fill="#1a1a1a" transform="matrix(1,0,0,1.06,0,-40.39)">15</text>
<line x1="940.5" y1="894.6" x2="940.5" y2="898.9" stroke="#1a1a1a" stroke-width="1.3"/>
<text x="940.5" y="913.4" font-size="14" text-anchor="middle" fill="#1a1a1a" transform="matrix(1,0,0,1.06,0,-54.80)">-2</text>
<line x1="1009.3" y1="894.6" x2="1009.3" y2="898.9" stroke="#1a1a1a" stroke-width="1.3"/>
<text x="1009.3" y="913.4" font-size="14" text-anchor="middle" fill="#1a1a1a" transform="matrix(1,0,0,1.06,0,-54.80)">-1</text>
<line x1="1078.1" y1="894.6" x2="1078.1" y2="898.9" stroke="#1a1a1a" stroke-width="1.3"/>
<text x="1078.1" y="913.4" font-size="14" text-anchor="middle" fill="#1a1a1a" transform="matrix(1,0,0,1.06,0,-54.80)">0</text>
<line x1="1146.9" y1="894.6" x2="1146.9" y2="898.9" stroke="#1a1a1a" stroke-width="1.3"/>
<text x="1146.9" y="913.4" font-size="14" text-anchor="middle" fill="#1a1a1a" transform="matrix(1,0,0,1.06,0,-54.80)">1</text>
<text x="1038.1" y="937.5" font-size="17.45" text-anchor="middle" fill="#1a1a1a" transform="matrix(1,0,0,1.06,0,-56.25)">Left NBM AD (Z-score)</text>
<text transform="translate(844.8,745.1) rotate(-90)" font-size="17.2" text-anchor="middle" fill="#1a1a1a">Negative symptoms</text>
<line x1="896.2" y1="585.3" x2="1173.6" y2="585.3" stroke="#a6a6a6" stroke-width="4.6"/>
<path d="M886.2,585.3 L899.2,578.7 L899.2,591.9 Z" fill="#a6a6a6"/>
<path d="M1183.6,585.3 L1170.6,578.7 L1170.6,591.9 Z" fill="#a6a6a6"/>
</svg></body></html>
